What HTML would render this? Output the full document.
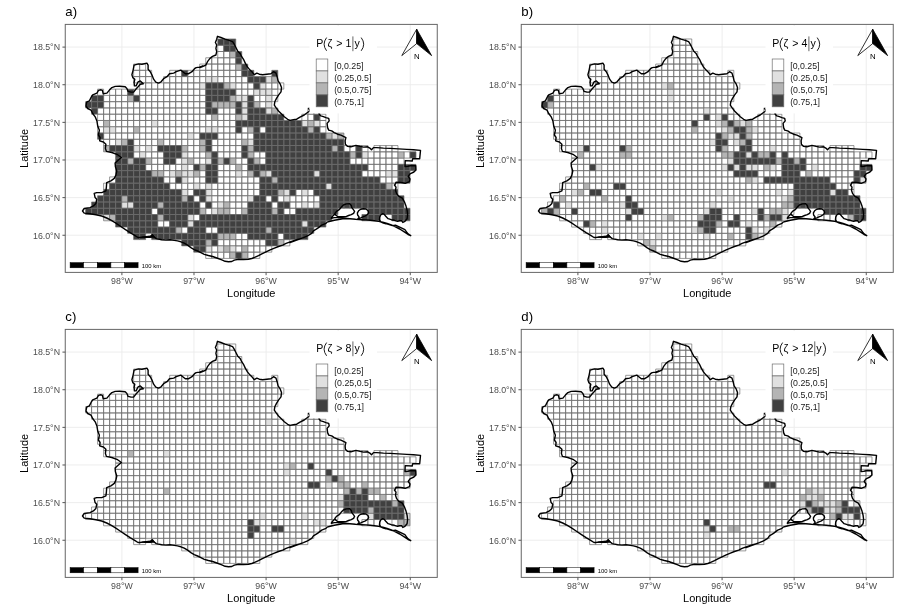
<!DOCTYPE html><html><head><meta charset="utf-8"><title>fig</title>
<style>html,body{margin:0;padding:0;background:#fff}svg{display:block;filter:grayscale(1)}text{font-family:"Liberation Sans",sans-serif}</style></head><body>
<svg width="912" height="611" viewBox="0 0 912 611">
<rect width="912" height="611" fill="#fff"/>
<g transform="translate(0,0)">
<text x="65.3" y="15.6" font-size="13.2">a)</text>
<path d="M121.90 24.4V272.4M193.99 24.4V272.4M266.08 24.4V272.4M338.17 24.4V272.4M410.26 24.4V272.4M65.25 235.25H437.25M65.25 197.62H437.25M65.25 159.99H437.25M65.25 122.36H437.25M65.25 84.73H437.25M65.25 47.10H437.25" stroke="#ebebeb" stroke-width="0.9" fill="none"/>
<path d="M97.59 89.13h6.0075v6.27h-6.0075zM97.59 107.94h6.0075v6.27h-6.0075zM97.59 114.21h6.0075v6.27h-6.0075zM97.59 120.48h6.0075v6.27h-6.0075zM97.59 126.75h6.0075v6.27h-6.0075zM103.60 95.40h6.0075v6.27h-6.0075zM103.60 101.67h6.0075v6.27h-6.0075zM103.60 107.94h6.0075v6.27h-6.0075zM103.60 114.21h6.0075v6.27h-6.0075zM103.60 133.02h6.0075v6.27h-6.0075zM103.60 139.29h6.0075v6.27h-6.0075zM103.60 183.18h6.0075v6.27h-6.0075zM109.61 89.13h6.0075v6.27h-6.0075zM109.61 95.40h6.0075v6.27h-6.0075zM109.61 101.67h6.0075v6.27h-6.0075zM109.61 107.94h6.0075v6.27h-6.0075zM109.61 114.21h6.0075v6.27h-6.0075zM109.61 120.48h6.0075v6.27h-6.0075zM109.61 133.02h6.0075v6.27h-6.0075zM109.61 139.29h6.0075v6.27h-6.0075zM109.61 176.91h6.0075v6.27h-6.0075zM115.61 89.13h6.0075v6.27h-6.0075zM115.61 95.40h6.0075v6.27h-6.0075zM115.61 101.67h6.0075v6.27h-6.0075zM115.61 107.94h6.0075v6.27h-6.0075zM115.61 114.21h6.0075v6.27h-6.0075zM115.61 120.48h6.0075v6.27h-6.0075zM115.61 126.75h6.0075v6.27h-6.0075zM115.61 133.02h6.0075v6.27h-6.0075zM121.62 89.13h6.0075v6.27h-6.0075zM121.62 95.40h6.0075v6.27h-6.0075zM121.62 101.67h6.0075v6.27h-6.0075zM121.62 107.94h6.0075v6.27h-6.0075zM121.62 114.21h6.0075v6.27h-6.0075zM121.62 120.48h6.0075v6.27h-6.0075zM121.62 126.75h6.0075v6.27h-6.0075zM121.62 133.02h6.0075v6.27h-6.0075zM127.63 101.67h6.0075v6.27h-6.0075zM127.63 107.94h6.0075v6.27h-6.0075zM127.63 114.21h6.0075v6.27h-6.0075zM127.63 120.48h6.0075v6.27h-6.0075zM127.63 126.75h6.0075v6.27h-6.0075zM127.63 133.02h6.0075v6.27h-6.0075zM133.64 64.05h6.0075v6.27h-6.0075zM133.64 70.32h6.0075v6.27h-6.0075zM133.64 76.59h6.0075v6.27h-6.0075zM133.64 89.13h6.0075v6.27h-6.0075zM133.64 101.67h6.0075v6.27h-6.0075zM133.64 107.94h6.0075v6.27h-6.0075zM133.64 114.21h6.0075v6.27h-6.0075zM133.64 120.48h6.0075v6.27h-6.0075zM133.64 133.02h6.0075v6.27h-6.0075zM133.64 139.29h6.0075v6.27h-6.0075zM133.64 151.83h6.0075v6.27h-6.0075zM139.64 64.05h6.0075v6.27h-6.0075zM139.64 70.32h6.0075v6.27h-6.0075zM139.64 76.59h6.0075v6.27h-6.0075zM139.64 82.86h6.0075v6.27h-6.0075zM139.64 89.13h6.0075v6.27h-6.0075zM139.64 95.40h6.0075v6.27h-6.0075zM139.64 101.67h6.0075v6.27h-6.0075zM139.64 107.94h6.0075v6.27h-6.0075zM139.64 114.21h6.0075v6.27h-6.0075zM139.64 120.48h6.0075v6.27h-6.0075zM139.64 126.75h6.0075v6.27h-6.0075zM139.64 133.02h6.0075v6.27h-6.0075zM139.64 139.29h6.0075v6.27h-6.0075zM139.64 145.56h6.0075v6.27h-6.0075zM145.65 70.32h6.0075v6.27h-6.0075zM145.65 76.59h6.0075v6.27h-6.0075zM145.65 82.86h6.0075v6.27h-6.0075zM145.65 89.13h6.0075v6.27h-6.0075zM145.65 95.40h6.0075v6.27h-6.0075zM145.65 101.67h6.0075v6.27h-6.0075zM145.65 107.94h6.0075v6.27h-6.0075zM145.65 114.21h6.0075v6.27h-6.0075zM145.65 120.48h6.0075v6.27h-6.0075zM145.65 126.75h6.0075v6.27h-6.0075zM145.65 133.02h6.0075v6.27h-6.0075zM145.65 139.29h6.0075v6.27h-6.0075zM145.65 151.83h6.0075v6.27h-6.0075zM145.65 164.37h6.0075v6.27h-6.0075zM151.66 82.86h6.0075v6.27h-6.0075zM151.66 89.13h6.0075v6.27h-6.0075zM151.66 95.40h6.0075v6.27h-6.0075zM151.66 101.67h6.0075v6.27h-6.0075zM151.66 107.94h6.0075v6.27h-6.0075zM151.66 114.21h6.0075v6.27h-6.0075zM151.66 126.75h6.0075v6.27h-6.0075zM151.66 133.02h6.0075v6.27h-6.0075zM151.66 139.29h6.0075v6.27h-6.0075zM151.66 145.56h6.0075v6.27h-6.0075zM151.66 151.83h6.0075v6.27h-6.0075zM151.66 158.10h6.0075v6.27h-6.0075zM151.66 164.37h6.0075v6.27h-6.0075zM151.66 208.26h6.0075v6.27h-6.0075zM157.67 82.86h6.0075v6.27h-6.0075zM157.67 89.13h6.0075v6.27h-6.0075zM157.67 95.40h6.0075v6.27h-6.0075zM157.67 101.67h6.0075v6.27h-6.0075zM157.67 107.94h6.0075v6.27h-6.0075zM157.67 114.21h6.0075v6.27h-6.0075zM157.67 120.48h6.0075v6.27h-6.0075zM157.67 126.75h6.0075v6.27h-6.0075zM157.67 133.02h6.0075v6.27h-6.0075zM157.67 151.83h6.0075v6.27h-6.0075zM157.67 158.10h6.0075v6.27h-6.0075zM157.67 164.37h6.0075v6.27h-6.0075zM157.67 220.80h6.0075v6.27h-6.0075zM163.68 76.59h6.0075v6.27h-6.0075zM163.68 82.86h6.0075v6.27h-6.0075zM163.68 89.13h6.0075v6.27h-6.0075zM163.68 95.40h6.0075v6.27h-6.0075zM163.68 101.67h6.0075v6.27h-6.0075zM163.68 107.94h6.0075v6.27h-6.0075zM163.68 114.21h6.0075v6.27h-6.0075zM163.68 120.48h6.0075v6.27h-6.0075zM163.68 126.75h6.0075v6.27h-6.0075zM163.68 133.02h6.0075v6.27h-6.0075zM163.68 139.29h6.0075v6.27h-6.0075zM163.68 164.37h6.0075v6.27h-6.0075zM163.68 170.64h6.0075v6.27h-6.0075zM163.68 176.91h6.0075v6.27h-6.0075zM163.68 220.80h6.0075v6.27h-6.0075zM169.68 70.32h6.0075v6.27h-6.0075zM169.68 76.59h6.0075v6.27h-6.0075zM169.68 82.86h6.0075v6.27h-6.0075zM169.68 89.13h6.0075v6.27h-6.0075zM169.68 95.40h6.0075v6.27h-6.0075zM169.68 101.67h6.0075v6.27h-6.0075zM169.68 107.94h6.0075v6.27h-6.0075zM169.68 114.21h6.0075v6.27h-6.0075zM169.68 120.48h6.0075v6.27h-6.0075zM169.68 126.75h6.0075v6.27h-6.0075zM169.68 133.02h6.0075v6.27h-6.0075zM169.68 139.29h6.0075v6.27h-6.0075zM169.68 164.37h6.0075v6.27h-6.0075zM169.68 176.91h6.0075v6.27h-6.0075zM169.68 183.18h6.0075v6.27h-6.0075zM175.69 70.32h6.0075v6.27h-6.0075zM175.69 76.59h6.0075v6.27h-6.0075zM175.69 82.86h6.0075v6.27h-6.0075zM175.69 89.13h6.0075v6.27h-6.0075zM175.69 95.40h6.0075v6.27h-6.0075zM175.69 101.67h6.0075v6.27h-6.0075zM175.69 107.94h6.0075v6.27h-6.0075zM175.69 114.21h6.0075v6.27h-6.0075zM175.69 120.48h6.0075v6.27h-6.0075zM175.69 126.75h6.0075v6.27h-6.0075zM175.69 133.02h6.0075v6.27h-6.0075zM175.69 139.29h6.0075v6.27h-6.0075zM175.69 158.10h6.0075v6.27h-6.0075zM175.69 164.37h6.0075v6.27h-6.0075zM175.69 183.18h6.0075v6.27h-6.0075zM181.70 76.59h6.0075v6.27h-6.0075zM181.70 82.86h6.0075v6.27h-6.0075zM181.70 89.13h6.0075v6.27h-6.0075zM181.70 95.40h6.0075v6.27h-6.0075zM181.70 101.67h6.0075v6.27h-6.0075zM181.70 107.94h6.0075v6.27h-6.0075zM181.70 114.21h6.0075v6.27h-6.0075zM181.70 120.48h6.0075v6.27h-6.0075zM181.70 126.75h6.0075v6.27h-6.0075zM181.70 133.02h6.0075v6.27h-6.0075zM181.70 139.29h6.0075v6.27h-6.0075zM181.70 183.18h6.0075v6.27h-6.0075zM181.70 227.07h6.0075v6.27h-6.0075zM187.70 70.32h6.0075v6.27h-6.0075zM187.70 76.59h6.0075v6.27h-6.0075zM187.70 82.86h6.0075v6.27h-6.0075zM187.70 89.13h6.0075v6.27h-6.0075zM187.70 95.40h6.0075v6.27h-6.0075zM187.70 101.67h6.0075v6.27h-6.0075zM187.70 107.94h6.0075v6.27h-6.0075zM187.70 114.21h6.0075v6.27h-6.0075zM187.70 120.48h6.0075v6.27h-6.0075zM187.70 126.75h6.0075v6.27h-6.0075zM187.70 139.29h6.0075v6.27h-6.0075zM187.70 145.56h6.0075v6.27h-6.0075zM187.70 151.83h6.0075v6.27h-6.0075zM187.70 164.37h6.0075v6.27h-6.0075zM187.70 176.91h6.0075v6.27h-6.0075zM187.70 183.18h6.0075v6.27h-6.0075zM187.70 189.45h6.0075v6.27h-6.0075zM193.71 70.32h6.0075v6.27h-6.0075zM193.71 76.59h6.0075v6.27h-6.0075zM193.71 82.86h6.0075v6.27h-6.0075zM193.71 89.13h6.0075v6.27h-6.0075zM193.71 95.40h6.0075v6.27h-6.0075zM193.71 101.67h6.0075v6.27h-6.0075zM193.71 107.94h6.0075v6.27h-6.0075zM193.71 114.21h6.0075v6.27h-6.0075zM193.71 120.48h6.0075v6.27h-6.0075zM193.71 126.75h6.0075v6.27h-6.0075zM193.71 133.02h6.0075v6.27h-6.0075zM193.71 139.29h6.0075v6.27h-6.0075zM193.71 145.56h6.0075v6.27h-6.0075zM193.71 151.83h6.0075v6.27h-6.0075zM193.71 158.10h6.0075v6.27h-6.0075zM193.71 176.91h6.0075v6.27h-6.0075zM193.71 195.72h6.0075v6.27h-6.0075zM193.71 214.53h6.0075v6.27h-6.0075zM199.72 64.05h6.0075v6.27h-6.0075zM199.72 70.32h6.0075v6.27h-6.0075zM199.72 76.59h6.0075v6.27h-6.0075zM199.72 89.13h6.0075v6.27h-6.0075zM199.72 95.40h6.0075v6.27h-6.0075zM199.72 101.67h6.0075v6.27h-6.0075zM199.72 107.94h6.0075v6.27h-6.0075zM199.72 114.21h6.0075v6.27h-6.0075zM199.72 120.48h6.0075v6.27h-6.0075zM199.72 126.75h6.0075v6.27h-6.0075zM199.72 151.83h6.0075v6.27h-6.0075zM199.72 158.10h6.0075v6.27h-6.0075zM199.72 170.64h6.0075v6.27h-6.0075zM199.72 176.91h6.0075v6.27h-6.0075zM199.72 183.18h6.0075v6.27h-6.0075zM199.72 201.99h6.0075v6.27h-6.0075zM205.73 57.78h6.0075v6.27h-6.0075zM205.73 64.05h6.0075v6.27h-6.0075zM205.73 70.32h6.0075v6.27h-6.0075zM205.73 114.21h6.0075v6.27h-6.0075zM205.73 120.48h6.0075v6.27h-6.0075zM205.73 208.26h6.0075v6.27h-6.0075zM205.73 227.07h6.0075v6.27h-6.0075zM205.73 252.15h6.0075v6.27h-6.0075zM211.74 57.78h6.0075v6.27h-6.0075zM211.74 64.05h6.0075v6.27h-6.0075zM211.74 70.32h6.0075v6.27h-6.0075zM211.74 120.48h6.0075v6.27h-6.0075zM211.74 139.29h6.0075v6.27h-6.0075zM211.74 145.56h6.0075v6.27h-6.0075zM211.74 183.18h6.0075v6.27h-6.0075zM211.74 189.45h6.0075v6.27h-6.0075zM211.74 195.72h6.0075v6.27h-6.0075zM211.74 201.99h6.0075v6.27h-6.0075zM211.74 227.07h6.0075v6.27h-6.0075zM211.74 245.88h6.0075v6.27h-6.0075zM211.74 252.15h6.0075v6.27h-6.0075zM217.74 45.24h6.0075v6.27h-6.0075zM217.74 51.51h6.0075v6.27h-6.0075zM217.74 57.78h6.0075v6.27h-6.0075zM217.74 64.05h6.0075v6.27h-6.0075zM217.74 70.32h6.0075v6.27h-6.0075zM217.74 76.59h6.0075v6.27h-6.0075zM217.74 107.94h6.0075v6.27h-6.0075zM217.74 114.21h6.0075v6.27h-6.0075zM217.74 120.48h6.0075v6.27h-6.0075zM217.74 126.75h6.0075v6.27h-6.0075zM217.74 133.02h6.0075v6.27h-6.0075zM217.74 139.29h6.0075v6.27h-6.0075zM217.74 145.56h6.0075v6.27h-6.0075zM217.74 151.83h6.0075v6.27h-6.0075zM217.74 164.37h6.0075v6.27h-6.0075zM217.74 170.64h6.0075v6.27h-6.0075zM217.74 176.91h6.0075v6.27h-6.0075zM217.74 183.18h6.0075v6.27h-6.0075zM217.74 189.45h6.0075v6.27h-6.0075zM217.74 195.72h6.0075v6.27h-6.0075zM217.74 239.61h6.0075v6.27h-6.0075zM217.74 252.15h6.0075v6.27h-6.0075zM223.75 51.51h6.0075v6.27h-6.0075zM223.75 57.78h6.0075v6.27h-6.0075zM223.75 64.05h6.0075v6.27h-6.0075zM223.75 70.32h6.0075v6.27h-6.0075zM223.75 76.59h6.0075v6.27h-6.0075zM223.75 107.94h6.0075v6.27h-6.0075zM223.75 114.21h6.0075v6.27h-6.0075zM223.75 120.48h6.0075v6.27h-6.0075zM223.75 126.75h6.0075v6.27h-6.0075zM223.75 133.02h6.0075v6.27h-6.0075zM223.75 139.29h6.0075v6.27h-6.0075zM223.75 145.56h6.0075v6.27h-6.0075zM223.75 151.83h6.0075v6.27h-6.0075zM223.75 164.37h6.0075v6.27h-6.0075zM223.75 170.64h6.0075v6.27h-6.0075zM223.75 176.91h6.0075v6.27h-6.0075zM223.75 183.18h6.0075v6.27h-6.0075zM223.75 189.45h6.0075v6.27h-6.0075zM223.75 195.72h6.0075v6.27h-6.0075zM223.75 239.61h6.0075v6.27h-6.0075zM223.75 252.15h6.0075v6.27h-6.0075zM229.76 57.78h6.0075v6.27h-6.0075zM229.76 64.05h6.0075v6.27h-6.0075zM229.76 70.32h6.0075v6.27h-6.0075zM229.76 76.59h6.0075v6.27h-6.0075zM229.76 107.94h6.0075v6.27h-6.0075zM229.76 114.21h6.0075v6.27h-6.0075zM229.76 120.48h6.0075v6.27h-6.0075zM229.76 126.75h6.0075v6.27h-6.0075zM229.76 133.02h6.0075v6.27h-6.0075zM229.76 139.29h6.0075v6.27h-6.0075zM229.76 145.56h6.0075v6.27h-6.0075zM229.76 151.83h6.0075v6.27h-6.0075zM229.76 164.37h6.0075v6.27h-6.0075zM229.76 170.64h6.0075v6.27h-6.0075zM229.76 176.91h6.0075v6.27h-6.0075zM229.76 183.18h6.0075v6.27h-6.0075zM229.76 189.45h6.0075v6.27h-6.0075zM229.76 195.72h6.0075v6.27h-6.0075zM229.76 201.99h6.0075v6.27h-6.0075zM229.76 208.26h6.0075v6.27h-6.0075zM229.76 239.61h6.0075v6.27h-6.0075zM235.76 70.32h6.0075v6.27h-6.0075zM235.76 76.59h6.0075v6.27h-6.0075zM235.76 82.86h6.0075v6.27h-6.0075zM235.76 89.13h6.0075v6.27h-6.0075zM235.76 133.02h6.0075v6.27h-6.0075zM235.76 139.29h6.0075v6.27h-6.0075zM235.76 145.56h6.0075v6.27h-6.0075zM235.76 151.83h6.0075v6.27h-6.0075zM235.76 158.10h6.0075v6.27h-6.0075zM235.76 176.91h6.0075v6.27h-6.0075zM235.76 183.18h6.0075v6.27h-6.0075zM235.76 189.45h6.0075v6.27h-6.0075zM235.76 195.72h6.0075v6.27h-6.0075zM235.76 201.99h6.0075v6.27h-6.0075zM235.76 208.26h6.0075v6.27h-6.0075zM235.76 233.34h6.0075v6.27h-6.0075zM235.76 239.61h6.0075v6.27h-6.0075zM235.76 245.88h6.0075v6.27h-6.0075zM241.77 76.59h6.0075v6.27h-6.0075zM241.77 82.86h6.0075v6.27h-6.0075zM241.77 89.13h6.0075v6.27h-6.0075zM241.77 126.75h6.0075v6.27h-6.0075zM241.77 133.02h6.0075v6.27h-6.0075zM241.77 158.10h6.0075v6.27h-6.0075zM241.77 164.37h6.0075v6.27h-6.0075zM241.77 170.64h6.0075v6.27h-6.0075zM241.77 176.91h6.0075v6.27h-6.0075zM241.77 183.18h6.0075v6.27h-6.0075zM241.77 189.45h6.0075v6.27h-6.0075zM241.77 195.72h6.0075v6.27h-6.0075zM241.77 201.99h6.0075v6.27h-6.0075zM241.77 233.34h6.0075v6.27h-6.0075zM241.77 239.61h6.0075v6.27h-6.0075zM247.78 82.86h6.0075v6.27h-6.0075zM247.78 89.13h6.0075v6.27h-6.0075zM247.78 133.02h6.0075v6.27h-6.0075zM247.78 176.91h6.0075v6.27h-6.0075zM247.78 183.18h6.0075v6.27h-6.0075zM247.78 189.45h6.0075v6.27h-6.0075zM247.78 239.61h6.0075v6.27h-6.0075zM247.78 245.88h6.0075v6.27h-6.0075zM247.78 252.15h6.0075v6.27h-6.0075zM253.79 95.40h6.0075v6.27h-6.0075zM253.79 151.83h6.0075v6.27h-6.0075zM253.79 176.91h6.0075v6.27h-6.0075zM253.79 183.18h6.0075v6.27h-6.0075zM253.79 189.45h6.0075v6.27h-6.0075zM253.79 239.61h6.0075v6.27h-6.0075zM253.79 245.88h6.0075v6.27h-6.0075zM253.79 252.15h6.0075v6.27h-6.0075zM259.80 95.40h6.0075v6.27h-6.0075zM259.80 101.67h6.0075v6.27h-6.0075zM259.80 126.75h6.0075v6.27h-6.0075zM259.80 151.83h6.0075v6.27h-6.0075zM259.80 158.10h6.0075v6.27h-6.0075zM259.80 239.61h6.0075v6.27h-6.0075zM259.80 245.88h6.0075v6.27h-6.0075zM265.80 82.86h6.0075v6.27h-6.0075zM265.80 195.72h6.0075v6.27h-6.0075zM265.80 245.88h6.0075v6.27h-6.0075zM271.81 82.86h6.0075v6.27h-6.0075zM271.81 89.13h6.0075v6.27h-6.0075zM271.81 95.40h6.0075v6.27h-6.0075zM271.81 201.99h6.0075v6.27h-6.0075zM277.82 82.86h6.0075v6.27h-6.0075zM277.82 195.72h6.0075v6.27h-6.0075zM277.82 233.34h6.0075v6.27h-6.0075zM283.82 208.26h6.0075v6.27h-6.0075zM283.82 239.61h6.0075v6.27h-6.0075zM289.83 195.72h6.0075v6.27h-6.0075zM289.83 201.99h6.0075v6.27h-6.0075zM289.83 208.26h6.0075v6.27h-6.0075zM295.84 189.45h6.0075v6.27h-6.0075zM295.84 195.72h6.0075v6.27h-6.0075zM295.84 201.99h6.0075v6.27h-6.0075zM301.85 114.21h6.0075v6.27h-6.0075zM301.85 195.72h6.0075v6.27h-6.0075zM307.86 107.94h6.0075v6.27h-6.0075zM307.86 114.21h6.0075v6.27h-6.0075zM307.86 189.45h6.0075v6.27h-6.0075zM307.86 195.72h6.0075v6.27h-6.0075zM307.86 201.99h6.0075v6.27h-6.0075zM313.86 107.94h6.0075v6.27h-6.0075zM313.86 195.72h6.0075v6.27h-6.0075zM319.87 114.21h6.0075v6.27h-6.0075zM319.87 120.48h6.0075v6.27h-6.0075zM319.87 126.75h6.0075v6.27h-6.0075zM343.90 145.56h6.0075v6.27h-6.0075zM349.91 145.56h6.0075v6.27h-6.0075zM349.91 158.10h6.0075v6.27h-6.0075zM355.92 158.10h6.0075v6.27h-6.0075zM361.92 145.56h6.0075v6.27h-6.0075zM361.92 158.10h6.0075v6.27h-6.0075zM361.92 170.64h6.0075v6.27h-6.0075zM367.93 151.83h6.0075v6.27h-6.0075zM367.93 158.10h6.0075v6.27h-6.0075zM367.93 164.37h6.0075v6.27h-6.0075zM367.93 170.64h6.0075v6.27h-6.0075zM373.94 145.56h6.0075v6.27h-6.0075zM373.94 151.83h6.0075v6.27h-6.0075zM373.94 158.10h6.0075v6.27h-6.0075zM373.94 164.37h6.0075v6.27h-6.0075zM373.94 170.64h6.0075v6.27h-6.0075zM379.94 145.56h6.0075v6.27h-6.0075zM379.94 151.83h6.0075v6.27h-6.0075zM379.94 158.10h6.0075v6.27h-6.0075zM379.94 164.37h6.0075v6.27h-6.0075zM379.94 170.64h6.0075v6.27h-6.0075zM379.94 176.91h6.0075v6.27h-6.0075zM385.95 145.56h6.0075v6.27h-6.0075zM385.95 151.83h6.0075v6.27h-6.0075zM385.95 158.10h6.0075v6.27h-6.0075zM385.95 164.37h6.0075v6.27h-6.0075zM385.95 176.91h6.0075v6.27h-6.0075zM391.96 145.56h6.0075v6.27h-6.0075zM391.96 151.83h6.0075v6.27h-6.0075zM391.96 158.10h6.0075v6.27h-6.0075zM391.96 164.37h6.0075v6.27h-6.0075zM391.96 176.91h6.0075v6.27h-6.0075zM391.96 183.18h6.0075v6.27h-6.0075zM397.97 158.10h6.0075v6.27h-6.0075zM403.98 151.83h6.0075v6.27h-6.0075z" fill="#ffffff" stroke="#6e6e6e" stroke-width="0.7"/>
<path d="M103.60 126.75h6.0075v6.27h-6.0075zM103.60 214.53h6.0075v6.27h-6.0075zM109.61 126.75h6.0075v6.27h-6.0075zM115.61 139.29h6.0075v6.27h-6.0075zM121.62 201.99h6.0075v6.27h-6.0075zM127.63 201.99h6.0075v6.27h-6.0075zM133.64 145.56h6.0075v6.27h-6.0075zM139.64 151.83h6.0075v6.27h-6.0075zM145.65 145.56h6.0075v6.27h-6.0075zM151.66 120.48h6.0075v6.27h-6.0075zM169.68 170.64h6.0075v6.27h-6.0075zM181.70 151.83h6.0075v6.27h-6.0075zM181.70 158.10h6.0075v6.27h-6.0075zM181.70 164.37h6.0075v6.27h-6.0075zM181.70 170.64h6.0075v6.27h-6.0075zM181.70 176.91h6.0075v6.27h-6.0075zM181.70 189.45h6.0075v6.27h-6.0075zM187.70 133.02h6.0075v6.27h-6.0075zM187.70 170.64h6.0075v6.27h-6.0075zM187.70 214.53h6.0075v6.27h-6.0075zM187.70 220.80h6.0075v6.27h-6.0075zM193.71 183.18h6.0075v6.27h-6.0075zM199.72 82.86h6.0075v6.27h-6.0075zM205.73 76.59h6.0075v6.27h-6.0075zM205.73 126.75h6.0075v6.27h-6.0075zM205.73 158.10h6.0075v6.27h-6.0075zM205.73 183.18h6.0075v6.27h-6.0075zM205.73 189.45h6.0075v6.27h-6.0075zM205.73 195.72h6.0075v6.27h-6.0075zM205.73 245.88h6.0075v6.27h-6.0075zM211.74 76.59h6.0075v6.27h-6.0075zM211.74 126.75h6.0075v6.27h-6.0075zM211.74 208.26h6.0075v6.27h-6.0075zM217.74 201.99h6.0075v6.27h-6.0075zM217.74 245.88h6.0075v6.27h-6.0075zM229.76 82.86h6.0075v6.27h-6.0075zM229.76 245.88h6.0075v6.27h-6.0075zM235.76 95.40h6.0075v6.27h-6.0075zM235.76 170.64h6.0075v6.27h-6.0075zM241.77 95.40h6.0075v6.27h-6.0075zM241.77 101.67h6.0075v6.27h-6.0075zM241.77 107.94h6.0075v6.27h-6.0075zM241.77 114.21h6.0075v6.27h-6.0075zM247.78 139.29h6.0075v6.27h-6.0075zM247.78 195.72h6.0075v6.27h-6.0075zM253.79 89.13h6.0075v6.27h-6.0075zM259.80 82.86h6.0075v6.27h-6.0075zM259.80 89.13h6.0075v6.27h-6.0075zM265.80 76.59h6.0075v6.27h-6.0075zM265.80 89.13h6.0075v6.27h-6.0075zM265.80 95.40h6.0075v6.27h-6.0075zM265.80 101.67h6.0075v6.27h-6.0075zM265.80 107.94h6.0075v6.27h-6.0075zM265.80 170.64h6.0075v6.27h-6.0075zM283.82 189.45h6.0075v6.27h-6.0075zM283.82 195.72h6.0075v6.27h-6.0075zM301.85 120.48h6.0075v6.27h-6.0075zM301.85 189.45h6.0075v6.27h-6.0075zM301.85 201.99h6.0075v6.27h-6.0075zM301.85 220.80h6.0075v6.27h-6.0075zM313.86 120.48h6.0075v6.27h-6.0075zM313.86 170.64h6.0075v6.27h-6.0075zM313.86 201.99h6.0075v6.27h-6.0075zM325.88 183.18h6.0075v6.27h-6.0075zM331.88 133.02h6.0075v6.27h-6.0075zM361.92 151.83h6.0075v6.27h-6.0075zM385.95 170.64h6.0075v6.27h-6.0075zM391.96 170.64h6.0075v6.27h-6.0075z" fill="#e0e0e0" stroke="#6e6e6e" stroke-width="0.7"/>
<path d="M103.60 120.48h6.0075v6.27h-6.0075zM103.60 145.56h6.0075v6.27h-6.0075zM109.61 214.53h6.0075v6.27h-6.0075zM121.62 139.29h6.0075v6.27h-6.0075zM121.62 195.72h6.0075v6.27h-6.0075zM127.63 95.40h6.0075v6.27h-6.0075zM127.63 158.10h6.0075v6.27h-6.0075zM133.64 126.75h6.0075v6.27h-6.0075zM145.65 158.10h6.0075v6.27h-6.0075zM151.66 170.64h6.0075v6.27h-6.0075zM157.67 139.29h6.0075v6.27h-6.0075zM157.67 170.64h6.0075v6.27h-6.0075zM157.67 201.99h6.0075v6.27h-6.0075zM157.67 214.53h6.0075v6.27h-6.0075zM175.69 170.64h6.0075v6.27h-6.0075zM175.69 227.07h6.0075v6.27h-6.0075zM181.70 145.56h6.0075v6.27h-6.0075zM181.70 195.72h6.0075v6.27h-6.0075zM187.70 158.10h6.0075v6.27h-6.0075zM193.71 170.64h6.0075v6.27h-6.0075zM199.72 139.29h6.0075v6.27h-6.0075zM199.72 145.56h6.0075v6.27h-6.0075zM199.72 164.37h6.0075v6.27h-6.0075zM199.72 208.26h6.0075v6.27h-6.0075zM205.73 151.83h6.0075v6.27h-6.0075zM205.73 239.61h6.0075v6.27h-6.0075zM211.74 101.67h6.0075v6.27h-6.0075zM211.74 114.21h6.0075v6.27h-6.0075zM217.74 101.67h6.0075v6.27h-6.0075zM217.74 158.10h6.0075v6.27h-6.0075zM217.74 208.26h6.0075v6.27h-6.0075zM217.74 233.34h6.0075v6.27h-6.0075zM223.75 82.86h6.0075v6.27h-6.0075zM223.75 101.67h6.0075v6.27h-6.0075zM223.75 201.99h6.0075v6.27h-6.0075zM223.75 208.26h6.0075v6.27h-6.0075zM223.75 233.34h6.0075v6.27h-6.0075zM223.75 245.88h6.0075v6.27h-6.0075zM229.76 51.51h6.0075v6.27h-6.0075zM229.76 95.40h6.0075v6.27h-6.0075zM229.76 101.67h6.0075v6.27h-6.0075zM229.76 158.10h6.0075v6.27h-6.0075zM229.76 233.34h6.0075v6.27h-6.0075zM229.76 252.15h6.0075v6.27h-6.0075zM235.76 64.05h6.0075v6.27h-6.0075zM235.76 114.21h6.0075v6.27h-6.0075zM235.76 164.37h6.0075v6.27h-6.0075zM241.77 139.29h6.0075v6.27h-6.0075zM241.77 208.26h6.0075v6.27h-6.0075zM241.77 245.88h6.0075v6.27h-6.0075zM241.77 252.15h6.0075v6.27h-6.0075zM247.78 126.75h6.0075v6.27h-6.0075zM247.78 145.56h6.0075v6.27h-6.0075zM247.78 151.83h6.0075v6.27h-6.0075zM247.78 170.64h6.0075v6.27h-6.0075zM253.79 101.67h6.0075v6.27h-6.0075zM253.79 158.10h6.0075v6.27h-6.0075zM259.80 170.64h6.0075v6.27h-6.0075zM265.80 227.07h6.0075v6.27h-6.0075zM271.81 76.59h6.0075v6.27h-6.0075zM271.81 107.94h6.0075v6.27h-6.0075zM271.81 176.91h6.0075v6.27h-6.0075zM271.81 208.26h6.0075v6.27h-6.0075zM277.82 189.45h6.0075v6.27h-6.0075zM277.82 239.61h6.0075v6.27h-6.0075zM307.86 120.48h6.0075v6.27h-6.0075zM307.86 126.75h6.0075v6.27h-6.0075zM325.88 133.02h6.0075v6.27h-6.0075zM331.88 145.56h6.0075v6.27h-6.0075zM337.89 133.02h6.0075v6.27h-6.0075zM349.91 151.83h6.0075v6.27h-6.0075zM385.95 183.18h6.0075v6.27h-6.0075zM397.97 151.83h6.0075v6.27h-6.0075z" fill="#b4b4b4" stroke="#6e6e6e" stroke-width="0.7"/>
<path d="M85.58 101.67h6.0075v6.27h-6.0075zM85.58 208.26h6.0075v6.27h-6.0075zM91.58 95.40h6.0075v6.27h-6.0075zM91.58 101.67h6.0075v6.27h-6.0075zM91.58 107.94h6.0075v6.27h-6.0075zM91.58 201.99h6.0075v6.27h-6.0075zM91.58 208.26h6.0075v6.27h-6.0075zM97.59 95.40h6.0075v6.27h-6.0075zM97.59 101.67h6.0075v6.27h-6.0075zM97.59 133.02h6.0075v6.27h-6.0075zM97.59 195.72h6.0075v6.27h-6.0075zM97.59 201.99h6.0075v6.27h-6.0075zM97.59 208.26h6.0075v6.27h-6.0075zM103.60 189.45h6.0075v6.27h-6.0075zM103.60 195.72h6.0075v6.27h-6.0075zM103.60 201.99h6.0075v6.27h-6.0075zM103.60 208.26h6.0075v6.27h-6.0075zM109.61 145.56h6.0075v6.27h-6.0075zM109.61 183.18h6.0075v6.27h-6.0075zM109.61 189.45h6.0075v6.27h-6.0075zM109.61 195.72h6.0075v6.27h-6.0075zM109.61 201.99h6.0075v6.27h-6.0075zM109.61 208.26h6.0075v6.27h-6.0075zM115.61 145.56h6.0075v6.27h-6.0075zM115.61 151.83h6.0075v6.27h-6.0075zM115.61 158.10h6.0075v6.27h-6.0075zM115.61 164.37h6.0075v6.27h-6.0075zM115.61 170.64h6.0075v6.27h-6.0075zM115.61 176.91h6.0075v6.27h-6.0075zM115.61 183.18h6.0075v6.27h-6.0075zM115.61 189.45h6.0075v6.27h-6.0075zM115.61 195.72h6.0075v6.27h-6.0075zM115.61 201.99h6.0075v6.27h-6.0075zM115.61 208.26h6.0075v6.27h-6.0075zM115.61 214.53h6.0075v6.27h-6.0075zM115.61 220.80h6.0075v6.27h-6.0075zM121.62 145.56h6.0075v6.27h-6.0075zM121.62 151.83h6.0075v6.27h-6.0075zM121.62 158.10h6.0075v6.27h-6.0075zM121.62 164.37h6.0075v6.27h-6.0075zM121.62 170.64h6.0075v6.27h-6.0075zM121.62 176.91h6.0075v6.27h-6.0075zM121.62 183.18h6.0075v6.27h-6.0075zM121.62 189.45h6.0075v6.27h-6.0075zM121.62 208.26h6.0075v6.27h-6.0075zM121.62 214.53h6.0075v6.27h-6.0075zM121.62 220.80h6.0075v6.27h-6.0075zM127.63 89.13h6.0075v6.27h-6.0075zM127.63 139.29h6.0075v6.27h-6.0075zM127.63 145.56h6.0075v6.27h-6.0075zM127.63 151.83h6.0075v6.27h-6.0075zM127.63 164.37h6.0075v6.27h-6.0075zM127.63 170.64h6.0075v6.27h-6.0075zM127.63 176.91h6.0075v6.27h-6.0075zM127.63 183.18h6.0075v6.27h-6.0075zM127.63 189.45h6.0075v6.27h-6.0075zM127.63 195.72h6.0075v6.27h-6.0075zM127.63 208.26h6.0075v6.27h-6.0075zM127.63 214.53h6.0075v6.27h-6.0075zM127.63 220.80h6.0075v6.27h-6.0075zM127.63 227.07h6.0075v6.27h-6.0075zM133.64 95.40h6.0075v6.27h-6.0075zM133.64 158.10h6.0075v6.27h-6.0075zM133.64 164.37h6.0075v6.27h-6.0075zM133.64 170.64h6.0075v6.27h-6.0075zM133.64 176.91h6.0075v6.27h-6.0075zM133.64 183.18h6.0075v6.27h-6.0075zM133.64 189.45h6.0075v6.27h-6.0075zM133.64 195.72h6.0075v6.27h-6.0075zM133.64 201.99h6.0075v6.27h-6.0075zM133.64 208.26h6.0075v6.27h-6.0075zM133.64 214.53h6.0075v6.27h-6.0075zM133.64 220.80h6.0075v6.27h-6.0075zM133.64 227.07h6.0075v6.27h-6.0075zM133.64 233.34h6.0075v6.27h-6.0075zM139.64 158.10h6.0075v6.27h-6.0075zM139.64 164.37h6.0075v6.27h-6.0075zM139.64 170.64h6.0075v6.27h-6.0075zM139.64 176.91h6.0075v6.27h-6.0075zM139.64 183.18h6.0075v6.27h-6.0075zM139.64 189.45h6.0075v6.27h-6.0075zM139.64 195.72h6.0075v6.27h-6.0075zM139.64 201.99h6.0075v6.27h-6.0075zM139.64 208.26h6.0075v6.27h-6.0075zM139.64 214.53h6.0075v6.27h-6.0075zM139.64 220.80h6.0075v6.27h-6.0075zM139.64 227.07h6.0075v6.27h-6.0075zM139.64 233.34h6.0075v6.27h-6.0075zM145.65 170.64h6.0075v6.27h-6.0075zM145.65 176.91h6.0075v6.27h-6.0075zM145.65 183.18h6.0075v6.27h-6.0075zM145.65 189.45h6.0075v6.27h-6.0075zM145.65 195.72h6.0075v6.27h-6.0075zM145.65 201.99h6.0075v6.27h-6.0075zM145.65 208.26h6.0075v6.27h-6.0075zM145.65 214.53h6.0075v6.27h-6.0075zM145.65 220.80h6.0075v6.27h-6.0075zM145.65 227.07h6.0075v6.27h-6.0075zM151.66 176.91h6.0075v6.27h-6.0075zM151.66 183.18h6.0075v6.27h-6.0075zM151.66 189.45h6.0075v6.27h-6.0075zM151.66 195.72h6.0075v6.27h-6.0075zM151.66 201.99h6.0075v6.27h-6.0075zM151.66 214.53h6.0075v6.27h-6.0075zM151.66 220.80h6.0075v6.27h-6.0075zM151.66 227.07h6.0075v6.27h-6.0075zM151.66 233.34h6.0075v6.27h-6.0075zM157.67 145.56h6.0075v6.27h-6.0075zM157.67 176.91h6.0075v6.27h-6.0075zM157.67 183.18h6.0075v6.27h-6.0075zM157.67 189.45h6.0075v6.27h-6.0075zM157.67 195.72h6.0075v6.27h-6.0075zM157.67 208.26h6.0075v6.27h-6.0075zM157.67 227.07h6.0075v6.27h-6.0075zM157.67 233.34h6.0075v6.27h-6.0075zM163.68 145.56h6.0075v6.27h-6.0075zM163.68 151.83h6.0075v6.27h-6.0075zM163.68 158.10h6.0075v6.27h-6.0075zM163.68 183.18h6.0075v6.27h-6.0075zM163.68 189.45h6.0075v6.27h-6.0075zM163.68 195.72h6.0075v6.27h-6.0075zM163.68 201.99h6.0075v6.27h-6.0075zM163.68 208.26h6.0075v6.27h-6.0075zM163.68 214.53h6.0075v6.27h-6.0075zM163.68 227.07h6.0075v6.27h-6.0075zM163.68 233.34h6.0075v6.27h-6.0075zM169.68 145.56h6.0075v6.27h-6.0075zM169.68 151.83h6.0075v6.27h-6.0075zM169.68 158.10h6.0075v6.27h-6.0075zM169.68 189.45h6.0075v6.27h-6.0075zM169.68 195.72h6.0075v6.27h-6.0075zM169.68 201.99h6.0075v6.27h-6.0075zM169.68 208.26h6.0075v6.27h-6.0075zM169.68 214.53h6.0075v6.27h-6.0075zM169.68 220.80h6.0075v6.27h-6.0075zM169.68 227.07h6.0075v6.27h-6.0075zM169.68 233.34h6.0075v6.27h-6.0075zM175.69 145.56h6.0075v6.27h-6.0075zM175.69 151.83h6.0075v6.27h-6.0075zM175.69 176.91h6.0075v6.27h-6.0075zM175.69 189.45h6.0075v6.27h-6.0075zM175.69 195.72h6.0075v6.27h-6.0075zM175.69 201.99h6.0075v6.27h-6.0075zM175.69 208.26h6.0075v6.27h-6.0075zM175.69 214.53h6.0075v6.27h-6.0075zM175.69 220.80h6.0075v6.27h-6.0075zM175.69 233.34h6.0075v6.27h-6.0075zM181.70 70.32h6.0075v6.27h-6.0075zM181.70 201.99h6.0075v6.27h-6.0075zM181.70 208.26h6.0075v6.27h-6.0075zM181.70 214.53h6.0075v6.27h-6.0075zM181.70 220.80h6.0075v6.27h-6.0075zM181.70 233.34h6.0075v6.27h-6.0075zM181.70 239.61h6.0075v6.27h-6.0075zM187.70 195.72h6.0075v6.27h-6.0075zM187.70 201.99h6.0075v6.27h-6.0075zM187.70 208.26h6.0075v6.27h-6.0075zM187.70 227.07h6.0075v6.27h-6.0075zM187.70 233.34h6.0075v6.27h-6.0075zM187.70 239.61h6.0075v6.27h-6.0075zM193.71 164.37h6.0075v6.27h-6.0075zM193.71 189.45h6.0075v6.27h-6.0075zM193.71 201.99h6.0075v6.27h-6.0075zM193.71 208.26h6.0075v6.27h-6.0075zM193.71 220.80h6.0075v6.27h-6.0075zM193.71 227.07h6.0075v6.27h-6.0075zM193.71 233.34h6.0075v6.27h-6.0075zM193.71 239.61h6.0075v6.27h-6.0075zM193.71 245.88h6.0075v6.27h-6.0075zM199.72 133.02h6.0075v6.27h-6.0075zM199.72 189.45h6.0075v6.27h-6.0075zM199.72 195.72h6.0075v6.27h-6.0075zM199.72 214.53h6.0075v6.27h-6.0075zM199.72 220.80h6.0075v6.27h-6.0075zM199.72 227.07h6.0075v6.27h-6.0075zM199.72 233.34h6.0075v6.27h-6.0075zM199.72 239.61h6.0075v6.27h-6.0075zM199.72 245.88h6.0075v6.27h-6.0075zM205.73 82.86h6.0075v6.27h-6.0075zM205.73 89.13h6.0075v6.27h-6.0075zM205.73 95.40h6.0075v6.27h-6.0075zM205.73 101.67h6.0075v6.27h-6.0075zM205.73 107.94h6.0075v6.27h-6.0075zM205.73 133.02h6.0075v6.27h-6.0075zM205.73 139.29h6.0075v6.27h-6.0075zM205.73 145.56h6.0075v6.27h-6.0075zM205.73 164.37h6.0075v6.27h-6.0075zM205.73 170.64h6.0075v6.27h-6.0075zM205.73 176.91h6.0075v6.27h-6.0075zM205.73 201.99h6.0075v6.27h-6.0075zM205.73 214.53h6.0075v6.27h-6.0075zM205.73 220.80h6.0075v6.27h-6.0075zM205.73 233.34h6.0075v6.27h-6.0075zM211.74 82.86h6.0075v6.27h-6.0075zM211.74 89.13h6.0075v6.27h-6.0075zM211.74 95.40h6.0075v6.27h-6.0075zM211.74 107.94h6.0075v6.27h-6.0075zM211.74 133.02h6.0075v6.27h-6.0075zM211.74 151.83h6.0075v6.27h-6.0075zM211.74 158.10h6.0075v6.27h-6.0075zM211.74 164.37h6.0075v6.27h-6.0075zM211.74 170.64h6.0075v6.27h-6.0075zM211.74 176.91h6.0075v6.27h-6.0075zM211.74 214.53h6.0075v6.27h-6.0075zM211.74 220.80h6.0075v6.27h-6.0075zM211.74 233.34h6.0075v6.27h-6.0075zM211.74 239.61h6.0075v6.27h-6.0075zM217.74 38.97h6.0075v6.27h-6.0075zM217.74 82.86h6.0075v6.27h-6.0075zM217.74 89.13h6.0075v6.27h-6.0075zM217.74 95.40h6.0075v6.27h-6.0075zM217.74 214.53h6.0075v6.27h-6.0075zM217.74 220.80h6.0075v6.27h-6.0075zM217.74 227.07h6.0075v6.27h-6.0075zM223.75 38.97h6.0075v6.27h-6.0075zM223.75 45.24h6.0075v6.27h-6.0075zM223.75 89.13h6.0075v6.27h-6.0075zM223.75 95.40h6.0075v6.27h-6.0075zM223.75 158.10h6.0075v6.27h-6.0075zM223.75 214.53h6.0075v6.27h-6.0075zM223.75 220.80h6.0075v6.27h-6.0075zM223.75 227.07h6.0075v6.27h-6.0075zM229.76 38.97h6.0075v6.27h-6.0075zM229.76 45.24h6.0075v6.27h-6.0075zM229.76 89.13h6.0075v6.27h-6.0075zM229.76 214.53h6.0075v6.27h-6.0075zM229.76 220.80h6.0075v6.27h-6.0075zM229.76 227.07h6.0075v6.27h-6.0075zM235.76 51.51h6.0075v6.27h-6.0075zM235.76 57.78h6.0075v6.27h-6.0075zM235.76 101.67h6.0075v6.27h-6.0075zM235.76 107.94h6.0075v6.27h-6.0075zM235.76 120.48h6.0075v6.27h-6.0075zM235.76 126.75h6.0075v6.27h-6.0075zM235.76 214.53h6.0075v6.27h-6.0075zM235.76 220.80h6.0075v6.27h-6.0075zM235.76 227.07h6.0075v6.27h-6.0075zM235.76 252.15h6.0075v6.27h-6.0075zM241.77 64.05h6.0075v6.27h-6.0075zM241.77 70.32h6.0075v6.27h-6.0075zM241.77 120.48h6.0075v6.27h-6.0075zM241.77 145.56h6.0075v6.27h-6.0075zM241.77 151.83h6.0075v6.27h-6.0075zM241.77 214.53h6.0075v6.27h-6.0075zM241.77 220.80h6.0075v6.27h-6.0075zM241.77 227.07h6.0075v6.27h-6.0075zM247.78 70.32h6.0075v6.27h-6.0075zM247.78 76.59h6.0075v6.27h-6.0075zM247.78 95.40h6.0075v6.27h-6.0075zM247.78 101.67h6.0075v6.27h-6.0075zM247.78 107.94h6.0075v6.27h-6.0075zM247.78 114.21h6.0075v6.27h-6.0075zM247.78 120.48h6.0075v6.27h-6.0075zM247.78 158.10h6.0075v6.27h-6.0075zM247.78 164.37h6.0075v6.27h-6.0075zM247.78 201.99h6.0075v6.27h-6.0075zM247.78 208.26h6.0075v6.27h-6.0075zM247.78 214.53h6.0075v6.27h-6.0075zM247.78 220.80h6.0075v6.27h-6.0075zM247.78 227.07h6.0075v6.27h-6.0075zM247.78 233.34h6.0075v6.27h-6.0075zM253.79 76.59h6.0075v6.27h-6.0075zM253.79 82.86h6.0075v6.27h-6.0075zM253.79 107.94h6.0075v6.27h-6.0075zM253.79 114.21h6.0075v6.27h-6.0075zM253.79 120.48h6.0075v6.27h-6.0075zM253.79 126.75h6.0075v6.27h-6.0075zM253.79 133.02h6.0075v6.27h-6.0075zM253.79 139.29h6.0075v6.27h-6.0075zM253.79 145.56h6.0075v6.27h-6.0075zM253.79 164.37h6.0075v6.27h-6.0075zM253.79 170.64h6.0075v6.27h-6.0075zM253.79 195.72h6.0075v6.27h-6.0075zM253.79 201.99h6.0075v6.27h-6.0075zM253.79 208.26h6.0075v6.27h-6.0075zM253.79 214.53h6.0075v6.27h-6.0075zM253.79 220.80h6.0075v6.27h-6.0075zM253.79 227.07h6.0075v6.27h-6.0075zM253.79 233.34h6.0075v6.27h-6.0075zM259.80 76.59h6.0075v6.27h-6.0075zM259.80 107.94h6.0075v6.27h-6.0075zM259.80 114.21h6.0075v6.27h-6.0075zM259.80 120.48h6.0075v6.27h-6.0075zM259.80 133.02h6.0075v6.27h-6.0075zM259.80 139.29h6.0075v6.27h-6.0075zM259.80 145.56h6.0075v6.27h-6.0075zM259.80 164.37h6.0075v6.27h-6.0075zM259.80 176.91h6.0075v6.27h-6.0075zM259.80 183.18h6.0075v6.27h-6.0075zM259.80 189.45h6.0075v6.27h-6.0075zM259.80 195.72h6.0075v6.27h-6.0075zM259.80 201.99h6.0075v6.27h-6.0075zM259.80 208.26h6.0075v6.27h-6.0075zM259.80 214.53h6.0075v6.27h-6.0075zM259.80 220.80h6.0075v6.27h-6.0075zM259.80 227.07h6.0075v6.27h-6.0075zM259.80 233.34h6.0075v6.27h-6.0075zM265.80 114.21h6.0075v6.27h-6.0075zM265.80 120.48h6.0075v6.27h-6.0075zM265.80 126.75h6.0075v6.27h-6.0075zM265.80 133.02h6.0075v6.27h-6.0075zM265.80 139.29h6.0075v6.27h-6.0075zM265.80 145.56h6.0075v6.27h-6.0075zM265.80 151.83h6.0075v6.27h-6.0075zM265.80 158.10h6.0075v6.27h-6.0075zM265.80 164.37h6.0075v6.27h-6.0075zM265.80 176.91h6.0075v6.27h-6.0075zM265.80 183.18h6.0075v6.27h-6.0075zM265.80 189.45h6.0075v6.27h-6.0075zM265.80 201.99h6.0075v6.27h-6.0075zM265.80 208.26h6.0075v6.27h-6.0075zM265.80 214.53h6.0075v6.27h-6.0075zM265.80 220.80h6.0075v6.27h-6.0075zM265.80 233.34h6.0075v6.27h-6.0075zM265.80 239.61h6.0075v6.27h-6.0075zM271.81 70.32h6.0075v6.27h-6.0075zM271.81 114.21h6.0075v6.27h-6.0075zM271.81 120.48h6.0075v6.27h-6.0075zM271.81 126.75h6.0075v6.27h-6.0075zM271.81 133.02h6.0075v6.27h-6.0075zM271.81 139.29h6.0075v6.27h-6.0075zM271.81 145.56h6.0075v6.27h-6.0075zM271.81 151.83h6.0075v6.27h-6.0075zM271.81 158.10h6.0075v6.27h-6.0075zM271.81 164.37h6.0075v6.27h-6.0075zM271.81 170.64h6.0075v6.27h-6.0075zM271.81 183.18h6.0075v6.27h-6.0075zM271.81 189.45h6.0075v6.27h-6.0075zM271.81 195.72h6.0075v6.27h-6.0075zM271.81 214.53h6.0075v6.27h-6.0075zM271.81 220.80h6.0075v6.27h-6.0075zM271.81 227.07h6.0075v6.27h-6.0075zM271.81 233.34h6.0075v6.27h-6.0075zM271.81 239.61h6.0075v6.27h-6.0075zM277.82 114.21h6.0075v6.27h-6.0075zM277.82 120.48h6.0075v6.27h-6.0075zM277.82 126.75h6.0075v6.27h-6.0075zM277.82 133.02h6.0075v6.27h-6.0075zM277.82 139.29h6.0075v6.27h-6.0075zM277.82 145.56h6.0075v6.27h-6.0075zM277.82 151.83h6.0075v6.27h-6.0075zM277.82 158.10h6.0075v6.27h-6.0075zM277.82 164.37h6.0075v6.27h-6.0075zM277.82 170.64h6.0075v6.27h-6.0075zM277.82 176.91h6.0075v6.27h-6.0075zM277.82 183.18h6.0075v6.27h-6.0075zM277.82 201.99h6.0075v6.27h-6.0075zM277.82 208.26h6.0075v6.27h-6.0075zM277.82 214.53h6.0075v6.27h-6.0075zM277.82 220.80h6.0075v6.27h-6.0075zM277.82 227.07h6.0075v6.27h-6.0075zM283.82 120.48h6.0075v6.27h-6.0075zM283.82 126.75h6.0075v6.27h-6.0075zM283.82 133.02h6.0075v6.27h-6.0075zM283.82 139.29h6.0075v6.27h-6.0075zM283.82 145.56h6.0075v6.27h-6.0075zM283.82 151.83h6.0075v6.27h-6.0075zM283.82 158.10h6.0075v6.27h-6.0075zM283.82 164.37h6.0075v6.27h-6.0075zM283.82 170.64h6.0075v6.27h-6.0075zM283.82 176.91h6.0075v6.27h-6.0075zM283.82 183.18h6.0075v6.27h-6.0075zM283.82 201.99h6.0075v6.27h-6.0075zM283.82 214.53h6.0075v6.27h-6.0075zM283.82 220.80h6.0075v6.27h-6.0075zM283.82 227.07h6.0075v6.27h-6.0075zM283.82 233.34h6.0075v6.27h-6.0075zM289.83 120.48h6.0075v6.27h-6.0075zM289.83 126.75h6.0075v6.27h-6.0075zM289.83 133.02h6.0075v6.27h-6.0075zM289.83 139.29h6.0075v6.27h-6.0075zM289.83 145.56h6.0075v6.27h-6.0075zM289.83 151.83h6.0075v6.27h-6.0075zM289.83 158.10h6.0075v6.27h-6.0075zM289.83 164.37h6.0075v6.27h-6.0075zM289.83 170.64h6.0075v6.27h-6.0075zM289.83 176.91h6.0075v6.27h-6.0075zM289.83 183.18h6.0075v6.27h-6.0075zM289.83 189.45h6.0075v6.27h-6.0075zM289.83 214.53h6.0075v6.27h-6.0075zM289.83 220.80h6.0075v6.27h-6.0075zM289.83 227.07h6.0075v6.27h-6.0075zM289.83 233.34h6.0075v6.27h-6.0075zM295.84 120.48h6.0075v6.27h-6.0075zM295.84 126.75h6.0075v6.27h-6.0075zM295.84 133.02h6.0075v6.27h-6.0075zM295.84 139.29h6.0075v6.27h-6.0075zM295.84 145.56h6.0075v6.27h-6.0075zM295.84 151.83h6.0075v6.27h-6.0075zM295.84 158.10h6.0075v6.27h-6.0075zM295.84 164.37h6.0075v6.27h-6.0075zM295.84 170.64h6.0075v6.27h-6.0075zM295.84 176.91h6.0075v6.27h-6.0075zM295.84 183.18h6.0075v6.27h-6.0075zM295.84 208.26h6.0075v6.27h-6.0075zM295.84 214.53h6.0075v6.27h-6.0075zM295.84 220.80h6.0075v6.27h-6.0075zM295.84 227.07h6.0075v6.27h-6.0075zM295.84 233.34h6.0075v6.27h-6.0075zM301.85 126.75h6.0075v6.27h-6.0075zM301.85 133.02h6.0075v6.27h-6.0075zM301.85 139.29h6.0075v6.27h-6.0075zM301.85 145.56h6.0075v6.27h-6.0075zM301.85 151.83h6.0075v6.27h-6.0075zM301.85 158.10h6.0075v6.27h-6.0075zM301.85 164.37h6.0075v6.27h-6.0075zM301.85 170.64h6.0075v6.27h-6.0075zM301.85 176.91h6.0075v6.27h-6.0075zM301.85 183.18h6.0075v6.27h-6.0075zM301.85 208.26h6.0075v6.27h-6.0075zM301.85 214.53h6.0075v6.27h-6.0075zM301.85 227.07h6.0075v6.27h-6.0075zM301.85 233.34h6.0075v6.27h-6.0075zM307.86 133.02h6.0075v6.27h-6.0075zM307.86 139.29h6.0075v6.27h-6.0075zM307.86 145.56h6.0075v6.27h-6.0075zM307.86 151.83h6.0075v6.27h-6.0075zM307.86 158.10h6.0075v6.27h-6.0075zM307.86 164.37h6.0075v6.27h-6.0075zM307.86 170.64h6.0075v6.27h-6.0075zM307.86 176.91h6.0075v6.27h-6.0075zM307.86 183.18h6.0075v6.27h-6.0075zM307.86 208.26h6.0075v6.27h-6.0075zM307.86 214.53h6.0075v6.27h-6.0075zM307.86 220.80h6.0075v6.27h-6.0075zM307.86 227.07h6.0075v6.27h-6.0075zM313.86 114.21h6.0075v6.27h-6.0075zM313.86 126.75h6.0075v6.27h-6.0075zM313.86 133.02h6.0075v6.27h-6.0075zM313.86 139.29h6.0075v6.27h-6.0075zM313.86 145.56h6.0075v6.27h-6.0075zM313.86 151.83h6.0075v6.27h-6.0075zM313.86 158.10h6.0075v6.27h-6.0075zM313.86 164.37h6.0075v6.27h-6.0075zM313.86 176.91h6.0075v6.27h-6.0075zM313.86 183.18h6.0075v6.27h-6.0075zM313.86 189.45h6.0075v6.27h-6.0075zM313.86 208.26h6.0075v6.27h-6.0075zM313.86 214.53h6.0075v6.27h-6.0075zM313.86 220.80h6.0075v6.27h-6.0075zM319.87 133.02h6.0075v6.27h-6.0075zM319.87 139.29h6.0075v6.27h-6.0075zM319.87 145.56h6.0075v6.27h-6.0075zM319.87 151.83h6.0075v6.27h-6.0075zM319.87 158.10h6.0075v6.27h-6.0075zM319.87 164.37h6.0075v6.27h-6.0075zM319.87 170.64h6.0075v6.27h-6.0075zM319.87 176.91h6.0075v6.27h-6.0075zM319.87 183.18h6.0075v6.27h-6.0075zM319.87 189.45h6.0075v6.27h-6.0075zM319.87 195.72h6.0075v6.27h-6.0075zM319.87 201.99h6.0075v6.27h-6.0075zM319.87 208.26h6.0075v6.27h-6.0075zM319.87 214.53h6.0075v6.27h-6.0075zM319.87 220.80h6.0075v6.27h-6.0075zM325.88 139.29h6.0075v6.27h-6.0075zM325.88 145.56h6.0075v6.27h-6.0075zM325.88 151.83h6.0075v6.27h-6.0075zM325.88 158.10h6.0075v6.27h-6.0075zM325.88 164.37h6.0075v6.27h-6.0075zM325.88 170.64h6.0075v6.27h-6.0075zM325.88 176.91h6.0075v6.27h-6.0075zM325.88 189.45h6.0075v6.27h-6.0075zM325.88 195.72h6.0075v6.27h-6.0075zM325.88 201.99h6.0075v6.27h-6.0075zM325.88 208.26h6.0075v6.27h-6.0075zM325.88 214.53h6.0075v6.27h-6.0075zM331.88 139.29h6.0075v6.27h-6.0075zM331.88 151.83h6.0075v6.27h-6.0075zM331.88 158.10h6.0075v6.27h-6.0075zM331.88 164.37h6.0075v6.27h-6.0075zM331.88 170.64h6.0075v6.27h-6.0075zM331.88 176.91h6.0075v6.27h-6.0075zM331.88 183.18h6.0075v6.27h-6.0075zM331.88 189.45h6.0075v6.27h-6.0075zM331.88 195.72h6.0075v6.27h-6.0075zM331.88 201.99h6.0075v6.27h-6.0075zM331.88 208.26h6.0075v6.27h-6.0075zM337.89 139.29h6.0075v6.27h-6.0075zM337.89 145.56h6.0075v6.27h-6.0075zM337.89 151.83h6.0075v6.27h-6.0075zM337.89 158.10h6.0075v6.27h-6.0075zM337.89 164.37h6.0075v6.27h-6.0075zM337.89 170.64h6.0075v6.27h-6.0075zM337.89 176.91h6.0075v6.27h-6.0075zM337.89 183.18h6.0075v6.27h-6.0075zM337.89 189.45h6.0075v6.27h-6.0075zM337.89 195.72h6.0075v6.27h-6.0075zM337.89 201.99h6.0075v6.27h-6.0075zM343.90 151.83h6.0075v6.27h-6.0075zM343.90 158.10h6.0075v6.27h-6.0075zM343.90 164.37h6.0075v6.27h-6.0075zM343.90 170.64h6.0075v6.27h-6.0075zM343.90 176.91h6.0075v6.27h-6.0075zM343.90 183.18h6.0075v6.27h-6.0075zM343.90 189.45h6.0075v6.27h-6.0075zM343.90 195.72h6.0075v6.27h-6.0075zM343.90 201.99h6.0075v6.27h-6.0075zM349.91 164.37h6.0075v6.27h-6.0075zM349.91 170.64h6.0075v6.27h-6.0075zM349.91 176.91h6.0075v6.27h-6.0075zM349.91 183.18h6.0075v6.27h-6.0075zM349.91 189.45h6.0075v6.27h-6.0075zM349.91 195.72h6.0075v6.27h-6.0075zM349.91 201.99h6.0075v6.27h-6.0075zM355.92 145.56h6.0075v6.27h-6.0075zM355.92 151.83h6.0075v6.27h-6.0075zM355.92 164.37h6.0075v6.27h-6.0075zM355.92 170.64h6.0075v6.27h-6.0075zM355.92 176.91h6.0075v6.27h-6.0075zM355.92 183.18h6.0075v6.27h-6.0075zM355.92 189.45h6.0075v6.27h-6.0075zM355.92 195.72h6.0075v6.27h-6.0075zM355.92 201.99h6.0075v6.27h-6.0075zM361.92 164.37h6.0075v6.27h-6.0075zM361.92 176.91h6.0075v6.27h-6.0075zM361.92 183.18h6.0075v6.27h-6.0075zM361.92 189.45h6.0075v6.27h-6.0075zM361.92 195.72h6.0075v6.27h-6.0075zM361.92 201.99h6.0075v6.27h-6.0075zM361.92 214.53h6.0075v6.27h-6.0075zM367.93 176.91h6.0075v6.27h-6.0075zM367.93 183.18h6.0075v6.27h-6.0075zM367.93 189.45h6.0075v6.27h-6.0075zM367.93 195.72h6.0075v6.27h-6.0075zM367.93 201.99h6.0075v6.27h-6.0075zM367.93 208.26h6.0075v6.27h-6.0075zM367.93 214.53h6.0075v6.27h-6.0075zM373.94 176.91h6.0075v6.27h-6.0075zM373.94 183.18h6.0075v6.27h-6.0075zM373.94 189.45h6.0075v6.27h-6.0075zM373.94 195.72h6.0075v6.27h-6.0075zM373.94 201.99h6.0075v6.27h-6.0075zM373.94 208.26h6.0075v6.27h-6.0075zM373.94 214.53h6.0075v6.27h-6.0075zM379.94 183.18h6.0075v6.27h-6.0075zM379.94 189.45h6.0075v6.27h-6.0075zM379.94 195.72h6.0075v6.27h-6.0075zM379.94 201.99h6.0075v6.27h-6.0075zM379.94 208.26h6.0075v6.27h-6.0075zM385.95 189.45h6.0075v6.27h-6.0075zM385.95 195.72h6.0075v6.27h-6.0075zM385.95 201.99h6.0075v6.27h-6.0075zM385.95 208.26h6.0075v6.27h-6.0075zM391.96 189.45h6.0075v6.27h-6.0075zM391.96 195.72h6.0075v6.27h-6.0075zM391.96 201.99h6.0075v6.27h-6.0075zM391.96 208.26h6.0075v6.27h-6.0075zM391.96 214.53h6.0075v6.27h-6.0075zM397.97 164.37h6.0075v6.27h-6.0075zM397.97 170.64h6.0075v6.27h-6.0075zM397.97 176.91h6.0075v6.27h-6.0075zM397.97 195.72h6.0075v6.27h-6.0075zM397.97 201.99h6.0075v6.27h-6.0075zM397.97 208.26h6.0075v6.27h-6.0075zM397.97 214.53h6.0075v6.27h-6.0075zM403.98 164.37h6.0075v6.27h-6.0075zM403.98 170.64h6.0075v6.27h-6.0075zM403.98 176.91h6.0075v6.27h-6.0075zM403.98 208.26h6.0075v6.27h-6.0075zM403.98 214.53h6.0075v6.27h-6.0075zM409.98 151.83h6.0075v6.27h-6.0075zM409.98 164.37h6.0075v6.27h-6.0075z" fill="#404040" stroke="#6e6e6e" stroke-width="0.7"/>
<path d="M86.4 103.5L86.9 101.8L89.4 100.9L91.4 96.8L92.7 94.8L96.9 93.1L98.5 90.4L101.0 89.8L102.4 90.4L103.2 93.8L106.9 93.1L109.4 90.1L111.9 87.6L115.2 86.4L119.7 86.3L125.2 86.8L126.9 88.4L128.1 91.4L131.1 92.1L133.6 92.1L135.8 89.3L138.1 86.8L140.3 84.3L143.3 83.8L140.3 80.9L138.1 81.8L136.1 85.9L134.4 85.9L134.1 82.6L134.8 79.2L132.8 77.6L131.9 74.7L133.1 70.1L134.1 65.1L138.6 63.9L141.9 64.2L146.9 63.1L148.1 65.1L148.1 69.2L150.3 71.7L152.0 75.1L153.6 79.2L155.8 82.1L158.6 83.1L161.1 81.8L163.6 78.7L167.0 76.7L169.5 73.7L173.7 73.1L176.2 71.7L180.8 70.1L182.8 71.7L185.3 73.7L188.7 73.7L192.0 71.7L194.5 68.7L196.2 67.6L199.5 67.1L202.9 65.9L200.0 67.6L202.5 66.7L205.8 65.1L207.5 61.7L210.0 58.4L212.5 56.4L215.9 55.0L216.7 51.7L215.9 48.4L216.7 45.0L215.4 42.5L216.7 39.2L217.5 36.3L220.9 37.5L225.0 39.2L229.2 40.4L232.6 41.7L234.2 44.2L235.9 47.5L237.6 50.9L240.1 53.4L241.7 56.7L243.7 59.7L245.4 63.4L247.6 67.1L250.1 70.1L252.6 72.6L254.3 74.7L256.8 73.1L259.3 74.2L262.6 74.7L266.8 74.2L270.9 73.7L273.5 71.7L276.0 73.1L277.1 76.7L278.1 80.9L280.1 83.8L281.5 87.6L281.0 91.8L278.5 95.1L276.5 98.4L274.8 101.8L274.3 105.1L276.0 107.6L278.5 111.0L281.8 114.3L284.3 116.8L287.6 119.3L290.0 120.4L293.3 119.7L296.7 119.2L300.0 117.1L304.2 115.0L307.5 112.5L310.0 110.9L308.7 108.7L310.0 110.9L311.7 108.4L315.0 107.5L318.4 110.0L319.2 114.2L320.9 115.9L323.4 116.7L325.9 117.6L328.7 118.4L329.2 120.9L327.1 123.4L327.6 127.6L328.7 130.1L331.7 130.9L334.2 132.6L337.6 134.2L340.9 135.1L343.4 136.4L345.9 137.6L345.1 140.9L345.4 144.3L347.6 146.4L350.9 146.8L355.9 145.4L360.1 146.4L363.5 147.1L367.6 146.8L369.8 148.1L371.5 149.8L373.5 147.6L376.8 147.6L383.5 148.1L390.2 148.4L398.5 148.9L406.9 149.4L413.5 149.8L420.5 150.4L419.7 158.8L412.7 158.6L412.2 161.0L405.2 160.6L405.0 166.6L407.9 166.3L411.4 165.5L415.7 165.8L415.9 170.1L413.9 172.0L410.0 173.8L408.2 176.3L410.0 179.0L409.5 181.7L405.2 183.3L400.8 182.5L396.0 182.2L395.0 184.7L394.4 185.0L396.0 187.1L395.5 190.3L396.5 193.4L398.6 196.1L402.3 198.2L404.4 201.8L406.0 206.1L407.1 210.3L407.6 214.5L407.1 218.7L404.9 221.3L402.8 222.4L401.8 220.8L399.7 220.8L397.6 221.3L394.4 220.3L391.3 219.7L388.1 218.7L386.0 216.6L384.4 214.5L382.8 213.6L380.7 215.0L379.7 217.1L379.5 219.7L380.7 221.8L383.4 223.1L386.0 223.7L389.2 224.6L392.3 225.6L395.5 225.2L398.6 226.6L401.8 228.2L404.9 229.7L406.5 231.8L408.1 233.9L410.7 235.7L408.1 234.5L403.9 231.6L399.7 229.0L395.5 226.9L391.3 224.9L387.1 223.4L382.8 222.3L378.6 221.4L374.4 220.8L370.2 220.3L366.0 219.9L361.8 219.7L358.6 219.5L355.5 219.3L351.3 218.9L347.1 218.7L342.8 218.9L338.6 219.5L334.4 220.3L330.2 221.3L327.1 222.1L326.0 223.4L321.7 225.1L317.5 228.4L313.4 230.9L311.7 233.4L307.5 235.9L303.4 237.6L298.3 239.3L293.3 241.0L290.0 242.6L302.1 238.1L298.6 239.3L294.4 240.4L290.2 241.8L286.1 243.4L282.7 245.1L278.5 246.5L274.4 248.1L270.2 249.8L266.0 251.8L261.8 253.8L258.5 255.6L255.2 257.1L251.8 258.5L248.5 259.3L243.5 259.5L238.5 259.3L234.3 260.1L231.8 261.5L228.5 261.8L225.1 261.3L221.8 259.8L216.8 258.0L212.6 256.5L208.4 255.5L204.3 254.3L200.9 252.6L197.6 251.0L194.2 249.6L190.9 247.6L187.6 245.1L184.2 243.1L180.9 241.8L177.5 240.9L174.2 240.4L170.0 239.8L165.9 240.1L161.7 239.8L157.5 238.9L156.3 238.6L153.8 236.7L152.3 234.7L150.6 236.2L146.5 236.7L141.8 237.2L138.0 237.5L135.1 235.7L130.1 232.7L125.1 229.3L120.1 226.0L115.1 222.6L110.9 220.1L106.7 218.0L101.7 216.0L95.9 214.8L90.0 213.8L84.2 213.1L82.5 211.0L84.2 208.5L90.0 207.6L93.4 205.9L95.9 203.4L96.7 199.3L95.1 197.6L94.2 193.4L96.7 192.6L101.7 192.6L105.9 190.9L106.4 186.8L106.7 182.6L110.9 180.9L114.3 178.4L115.9 175.1L116.8 170.9L115.4 166.7L115.1 163.0L118.4 160.0L121.4 157.5L117.6 154.7L111.8 152.5L106.4 151.4L105.4 148.4L105.9 144.2L103.4 142.0L99.7 140.8L100.1 137.5L98.4 135.0L99.4 130.2L97.7 126.0L96.9 121.0L95.2 116.8L92.7 113.5L91.0 110.1L87.7 108.5L86.0 106.0ZM334.9 213.4L336.5 211.3L339.2 209.7L341.3 207.1L343.4 205.0L346.5 203.9L349.7 203.7L351.3 205.5L351.8 207.6L353.4 209.7L354.6 211.3L353.6 213.4L351.3 214.7L348.6 215.5L346.0 216.6L341.8 216.8L337.6 216.4L335.5 215.0ZM357.6 219.2L359.2 217.1L357.6 215.0L357.4 212.9L358.6 210.8L360.7 209.2L363.4 208.7L366.0 209.0L368.1 210.8L368.6 212.6L367.6 214.5L364.9 216.1L362.3 217.1L359.7 218.5ZM334.9 213.9L332.3 216.6L331.3 218.2L334.4 217.6L337.6 217.6L347.1 218.5L355.5 219.2" fill="none" stroke="#000" stroke-width="1.4" stroke-linejoin="round"/>
<path d="M140.0 236.9L144.7 236.2L150.5 235.7L152.1 234.3L154.2 236.1L155.5 237.6L150.0 237.9L144.7 237.9Z" fill="#000"/>
<rect x="309.5" y="26" width="67.5" height="87.4" fill="#fff"/>
<text y="47.3" font-size="10.6"><tspan x="316.3">P</tspan><tspan x="327.6" font-size="11">&#950;</tspan><tspan x="336.3">&gt;</tspan><tspan x="345.6">1</tspan><tspan x="354.40">y</tspan></text>
<path d="M326.6 37.6Q321.6 44.2 326.6 50.8" fill="none" stroke="#111" stroke-width="0.95"/>
<path d="M361.20 37.6Q366.20 44.2 361.20 50.8" fill="none" stroke="#111" stroke-width="0.95"/>
<path d="M352.90 36.4V51.2" stroke="#555" stroke-width="0.9"/>
<rect x="316.2" y="59.00" width="11.6" height="11.95" fill="#ffffff" stroke="#6e6e6e" stroke-width="0.7"/>
<text x="334.2" y="68.80" font-size="8.8" fill="#1a1a1a">[0,0.25]</text>
<rect x="316.2" y="70.95" width="11.6" height="11.95" fill="#e0e0e0" stroke="#6e6e6e" stroke-width="0.7"/>
<text x="334.2" y="80.75" font-size="8.8" fill="#1a1a1a">(0.25,0.5]</text>
<rect x="316.2" y="82.90" width="11.6" height="11.95" fill="#b4b4b4" stroke="#6e6e6e" stroke-width="0.7"/>
<text x="334.2" y="92.70" font-size="8.8" fill="#1a1a1a">(0.5,0.75]</text>
<rect x="316.2" y="94.85" width="11.6" height="11.95" fill="#404040" stroke="#6e6e6e" stroke-width="0.7"/>
<text x="334.2" y="104.65" font-size="8.8" fill="#1a1a1a">(0.75,1]</text>
<path d="M416.7 29.2L401.8 55.6L416.7 43.6Z" fill="#fff" stroke="#000" stroke-width="0.8" stroke-linejoin="miter"/>
<path d="M416.7 29.2L431.6 55.6L416.7 43.6Z" fill="#000" stroke="#000" stroke-width="0.8"/>
<text x="416.7" y="58.6" font-size="7.8" text-anchor="middle">N</text>
<rect x="70.10" y="262.6" width="13.6" height="5.2" fill="#000" stroke="#000" stroke-width="0.5"/>
<rect x="83.70" y="262.6" width="13.6" height="5.2" fill="#fff" stroke="#000" stroke-width="0.5"/>
<rect x="97.30" y="262.6" width="13.6" height="5.2" fill="#000" stroke="#000" stroke-width="0.5"/>
<rect x="110.90" y="262.6" width="13.6" height="5.2" fill="#fff" stroke="#000" stroke-width="0.5"/>
<rect x="124.50" y="262.6" width="13.6" height="5.2" fill="#000" stroke="#000" stroke-width="0.5"/>
<text x="141.8" y="267.5" font-size="5.9">100 km</text>
<rect x="65.25" y="24.4" width="372.0" height="247.99999999999997" fill="none" stroke="#666" stroke-width="1"/>
<text x="121.90" y="284.4" font-size="8.8" fill="#4d4d4d" text-anchor="middle">98&#176;W</text>
<text x="193.99" y="284.4" font-size="8.8" fill="#4d4d4d" text-anchor="middle">97&#176;W</text>
<text x="266.08" y="284.4" font-size="8.8" fill="#4d4d4d" text-anchor="middle">96&#176;W</text>
<text x="338.17" y="284.4" font-size="8.8" fill="#4d4d4d" text-anchor="middle">95&#176;W</text>
<text x="410.26" y="284.4" font-size="8.8" fill="#4d4d4d" text-anchor="middle">94&#176;W</text>
<text x="60" y="238.55" font-size="8.8" fill="#4d4d4d" text-anchor="end">16.0&#176;N</text>
<text x="60" y="200.92" font-size="8.8" fill="#4d4d4d" text-anchor="end">16.5&#176;N</text>
<text x="60" y="163.29" font-size="8.8" fill="#4d4d4d" text-anchor="end">17.0&#176;N</text>
<text x="60" y="125.66" font-size="8.8" fill="#4d4d4d" text-anchor="end">17.5&#176;N</text>
<text x="60" y="88.03" font-size="8.8" fill="#4d4d4d" text-anchor="end">18.0&#176;N</text>
<text x="60" y="50.40" font-size="8.8" fill="#4d4d4d" text-anchor="end">18.5&#176;N</text>
<path d="M121.90 272.4v2.8M193.99 272.4v2.8M266.08 272.4v2.8M338.17 272.4v2.8M410.26 272.4v2.8M65.25 235.25h-2.8M65.25 197.62h-2.8M65.25 159.99h-2.8M65.25 122.36h-2.8M65.25 84.73h-2.8M65.25 47.10h-2.8" stroke="#555" stroke-width="1" fill="none"/>
<text x="251.25" y="297.4" font-size="11" text-anchor="middle">Longitude</text>
<text transform="translate(27.5,148.4) rotate(-90)" font-size="11" text-anchor="middle">Latitude</text>
</g>
<g transform="translate(456,0)">
<text x="65.3" y="15.6" font-size="13.2">b)</text>
<path d="M121.90 24.4V272.4M193.99 24.4V272.4M266.08 24.4V272.4M338.17 24.4V272.4M410.26 24.4V272.4M65.25 235.25H437.25M65.25 197.62H437.25M65.25 159.99H437.25M65.25 122.36H437.25M65.25 84.73H437.25M65.25 47.10H437.25" stroke="#ebebeb" stroke-width="0.9" fill="none"/>
<path d="M91.58 107.94h6.0075v6.27h-6.0075zM91.58 201.99h6.0075v6.27h-6.0075zM97.59 89.13h6.0075v6.27h-6.0075zM97.59 95.40h6.0075v6.27h-6.0075zM97.59 101.67h6.0075v6.27h-6.0075zM97.59 107.94h6.0075v6.27h-6.0075zM97.59 114.21h6.0075v6.27h-6.0075zM97.59 120.48h6.0075v6.27h-6.0075zM97.59 126.75h6.0075v6.27h-6.0075zM97.59 133.02h6.0075v6.27h-6.0075zM97.59 195.72h6.0075v6.27h-6.0075zM103.60 95.40h6.0075v6.27h-6.0075zM103.60 101.67h6.0075v6.27h-6.0075zM103.60 107.94h6.0075v6.27h-6.0075zM103.60 114.21h6.0075v6.27h-6.0075zM103.60 120.48h6.0075v6.27h-6.0075zM103.60 126.75h6.0075v6.27h-6.0075zM103.60 133.02h6.0075v6.27h-6.0075zM103.60 139.29h6.0075v6.27h-6.0075zM103.60 145.56h6.0075v6.27h-6.0075zM103.60 183.18h6.0075v6.27h-6.0075zM103.60 189.45h6.0075v6.27h-6.0075zM103.60 201.99h6.0075v6.27h-6.0075zM103.60 208.26h6.0075v6.27h-6.0075zM103.60 214.53h6.0075v6.27h-6.0075zM109.61 89.13h6.0075v6.27h-6.0075zM109.61 95.40h6.0075v6.27h-6.0075zM109.61 101.67h6.0075v6.27h-6.0075zM109.61 107.94h6.0075v6.27h-6.0075zM109.61 114.21h6.0075v6.27h-6.0075zM109.61 120.48h6.0075v6.27h-6.0075zM109.61 126.75h6.0075v6.27h-6.0075zM109.61 133.02h6.0075v6.27h-6.0075zM109.61 139.29h6.0075v6.27h-6.0075zM109.61 145.56h6.0075v6.27h-6.0075zM109.61 176.91h6.0075v6.27h-6.0075zM109.61 183.18h6.0075v6.27h-6.0075zM109.61 189.45h6.0075v6.27h-6.0075zM109.61 195.72h6.0075v6.27h-6.0075zM109.61 208.26h6.0075v6.27h-6.0075zM109.61 214.53h6.0075v6.27h-6.0075zM115.61 89.13h6.0075v6.27h-6.0075zM115.61 95.40h6.0075v6.27h-6.0075zM115.61 101.67h6.0075v6.27h-6.0075zM115.61 107.94h6.0075v6.27h-6.0075zM115.61 114.21h6.0075v6.27h-6.0075zM115.61 120.48h6.0075v6.27h-6.0075zM115.61 126.75h6.0075v6.27h-6.0075zM115.61 133.02h6.0075v6.27h-6.0075zM115.61 139.29h6.0075v6.27h-6.0075zM115.61 145.56h6.0075v6.27h-6.0075zM115.61 151.83h6.0075v6.27h-6.0075zM115.61 158.10h6.0075v6.27h-6.0075zM115.61 164.37h6.0075v6.27h-6.0075zM115.61 170.64h6.0075v6.27h-6.0075zM115.61 176.91h6.0075v6.27h-6.0075zM115.61 183.18h6.0075v6.27h-6.0075zM115.61 195.72h6.0075v6.27h-6.0075zM115.61 201.99h6.0075v6.27h-6.0075zM115.61 214.53h6.0075v6.27h-6.0075zM115.61 220.80h6.0075v6.27h-6.0075zM121.62 89.13h6.0075v6.27h-6.0075zM121.62 95.40h6.0075v6.27h-6.0075zM121.62 101.67h6.0075v6.27h-6.0075zM121.62 107.94h6.0075v6.27h-6.0075zM121.62 114.21h6.0075v6.27h-6.0075zM121.62 120.48h6.0075v6.27h-6.0075zM121.62 126.75h6.0075v6.27h-6.0075zM121.62 133.02h6.0075v6.27h-6.0075zM121.62 139.29h6.0075v6.27h-6.0075zM121.62 158.10h6.0075v6.27h-6.0075zM121.62 164.37h6.0075v6.27h-6.0075zM121.62 170.64h6.0075v6.27h-6.0075zM121.62 176.91h6.0075v6.27h-6.0075zM121.62 183.18h6.0075v6.27h-6.0075zM121.62 195.72h6.0075v6.27h-6.0075zM121.62 201.99h6.0075v6.27h-6.0075zM121.62 208.26h6.0075v6.27h-6.0075zM121.62 214.53h6.0075v6.27h-6.0075zM121.62 220.80h6.0075v6.27h-6.0075zM127.63 89.13h6.0075v6.27h-6.0075zM127.63 95.40h6.0075v6.27h-6.0075zM127.63 101.67h6.0075v6.27h-6.0075zM127.63 107.94h6.0075v6.27h-6.0075zM127.63 114.21h6.0075v6.27h-6.0075zM127.63 120.48h6.0075v6.27h-6.0075zM127.63 126.75h6.0075v6.27h-6.0075zM127.63 133.02h6.0075v6.27h-6.0075zM127.63 139.29h6.0075v6.27h-6.0075zM127.63 151.83h6.0075v6.27h-6.0075zM127.63 158.10h6.0075v6.27h-6.0075zM127.63 164.37h6.0075v6.27h-6.0075zM127.63 170.64h6.0075v6.27h-6.0075zM127.63 176.91h6.0075v6.27h-6.0075zM127.63 189.45h6.0075v6.27h-6.0075zM127.63 195.72h6.0075v6.27h-6.0075zM127.63 201.99h6.0075v6.27h-6.0075zM127.63 208.26h6.0075v6.27h-6.0075zM127.63 214.53h6.0075v6.27h-6.0075zM127.63 227.07h6.0075v6.27h-6.0075zM133.64 64.05h6.0075v6.27h-6.0075zM133.64 70.32h6.0075v6.27h-6.0075zM133.64 76.59h6.0075v6.27h-6.0075zM133.64 89.13h6.0075v6.27h-6.0075zM133.64 95.40h6.0075v6.27h-6.0075zM133.64 101.67h6.0075v6.27h-6.0075zM133.64 107.94h6.0075v6.27h-6.0075zM133.64 114.21h6.0075v6.27h-6.0075zM133.64 120.48h6.0075v6.27h-6.0075zM133.64 126.75h6.0075v6.27h-6.0075zM133.64 133.02h6.0075v6.27h-6.0075zM133.64 139.29h6.0075v6.27h-6.0075zM133.64 145.56h6.0075v6.27h-6.0075zM133.64 151.83h6.0075v6.27h-6.0075zM133.64 158.10h6.0075v6.27h-6.0075zM133.64 170.64h6.0075v6.27h-6.0075zM133.64 176.91h6.0075v6.27h-6.0075zM133.64 183.18h6.0075v6.27h-6.0075zM133.64 195.72h6.0075v6.27h-6.0075zM133.64 201.99h6.0075v6.27h-6.0075zM133.64 208.26h6.0075v6.27h-6.0075zM133.64 214.53h6.0075v6.27h-6.0075zM133.64 227.07h6.0075v6.27h-6.0075zM133.64 233.34h6.0075v6.27h-6.0075zM139.64 64.05h6.0075v6.27h-6.0075zM139.64 70.32h6.0075v6.27h-6.0075zM139.64 76.59h6.0075v6.27h-6.0075zM139.64 82.86h6.0075v6.27h-6.0075zM139.64 89.13h6.0075v6.27h-6.0075zM139.64 95.40h6.0075v6.27h-6.0075zM139.64 101.67h6.0075v6.27h-6.0075zM139.64 107.94h6.0075v6.27h-6.0075zM139.64 114.21h6.0075v6.27h-6.0075zM139.64 120.48h6.0075v6.27h-6.0075zM139.64 126.75h6.0075v6.27h-6.0075zM139.64 133.02h6.0075v6.27h-6.0075zM139.64 139.29h6.0075v6.27h-6.0075zM139.64 145.56h6.0075v6.27h-6.0075zM139.64 151.83h6.0075v6.27h-6.0075zM139.64 158.10h6.0075v6.27h-6.0075zM139.64 170.64h6.0075v6.27h-6.0075zM139.64 176.91h6.0075v6.27h-6.0075zM139.64 183.18h6.0075v6.27h-6.0075zM139.64 195.72h6.0075v6.27h-6.0075zM139.64 201.99h6.0075v6.27h-6.0075zM139.64 208.26h6.0075v6.27h-6.0075zM139.64 214.53h6.0075v6.27h-6.0075zM139.64 220.80h6.0075v6.27h-6.0075zM139.64 227.07h6.0075v6.27h-6.0075zM139.64 233.34h6.0075v6.27h-6.0075zM145.65 70.32h6.0075v6.27h-6.0075zM145.65 76.59h6.0075v6.27h-6.0075zM145.65 82.86h6.0075v6.27h-6.0075zM145.65 89.13h6.0075v6.27h-6.0075zM145.65 95.40h6.0075v6.27h-6.0075zM145.65 101.67h6.0075v6.27h-6.0075zM145.65 107.94h6.0075v6.27h-6.0075zM145.65 114.21h6.0075v6.27h-6.0075zM145.65 120.48h6.0075v6.27h-6.0075zM145.65 126.75h6.0075v6.27h-6.0075zM145.65 133.02h6.0075v6.27h-6.0075zM145.65 139.29h6.0075v6.27h-6.0075zM145.65 145.56h6.0075v6.27h-6.0075zM145.65 151.83h6.0075v6.27h-6.0075zM145.65 158.10h6.0075v6.27h-6.0075zM145.65 164.37h6.0075v6.27h-6.0075zM145.65 170.64h6.0075v6.27h-6.0075zM145.65 176.91h6.0075v6.27h-6.0075zM145.65 183.18h6.0075v6.27h-6.0075zM145.65 189.45h6.0075v6.27h-6.0075zM145.65 201.99h6.0075v6.27h-6.0075zM145.65 208.26h6.0075v6.27h-6.0075zM145.65 214.53h6.0075v6.27h-6.0075zM151.66 82.86h6.0075v6.27h-6.0075zM151.66 89.13h6.0075v6.27h-6.0075zM151.66 95.40h6.0075v6.27h-6.0075zM151.66 101.67h6.0075v6.27h-6.0075zM151.66 107.94h6.0075v6.27h-6.0075zM151.66 114.21h6.0075v6.27h-6.0075zM151.66 120.48h6.0075v6.27h-6.0075zM151.66 126.75h6.0075v6.27h-6.0075zM151.66 133.02h6.0075v6.27h-6.0075zM151.66 139.29h6.0075v6.27h-6.0075zM151.66 145.56h6.0075v6.27h-6.0075zM151.66 151.83h6.0075v6.27h-6.0075zM151.66 158.10h6.0075v6.27h-6.0075zM151.66 164.37h6.0075v6.27h-6.0075zM151.66 170.64h6.0075v6.27h-6.0075zM151.66 176.91h6.0075v6.27h-6.0075zM151.66 183.18h6.0075v6.27h-6.0075zM151.66 189.45h6.0075v6.27h-6.0075zM151.66 195.72h6.0075v6.27h-6.0075zM151.66 201.99h6.0075v6.27h-6.0075zM151.66 208.26h6.0075v6.27h-6.0075zM151.66 214.53h6.0075v6.27h-6.0075zM151.66 220.80h6.0075v6.27h-6.0075zM151.66 227.07h6.0075v6.27h-6.0075zM151.66 233.34h6.0075v6.27h-6.0075zM157.67 82.86h6.0075v6.27h-6.0075zM157.67 89.13h6.0075v6.27h-6.0075zM157.67 95.40h6.0075v6.27h-6.0075zM157.67 101.67h6.0075v6.27h-6.0075zM157.67 107.94h6.0075v6.27h-6.0075zM157.67 114.21h6.0075v6.27h-6.0075zM157.67 120.48h6.0075v6.27h-6.0075zM157.67 126.75h6.0075v6.27h-6.0075zM157.67 133.02h6.0075v6.27h-6.0075zM157.67 139.29h6.0075v6.27h-6.0075zM157.67 145.56h6.0075v6.27h-6.0075zM157.67 151.83h6.0075v6.27h-6.0075zM157.67 158.10h6.0075v6.27h-6.0075zM157.67 164.37h6.0075v6.27h-6.0075zM157.67 170.64h6.0075v6.27h-6.0075zM157.67 176.91h6.0075v6.27h-6.0075zM157.67 189.45h6.0075v6.27h-6.0075zM157.67 195.72h6.0075v6.27h-6.0075zM157.67 201.99h6.0075v6.27h-6.0075zM157.67 208.26h6.0075v6.27h-6.0075zM157.67 214.53h6.0075v6.27h-6.0075zM157.67 220.80h6.0075v6.27h-6.0075zM157.67 227.07h6.0075v6.27h-6.0075zM157.67 233.34h6.0075v6.27h-6.0075zM163.68 76.59h6.0075v6.27h-6.0075zM163.68 82.86h6.0075v6.27h-6.0075zM163.68 89.13h6.0075v6.27h-6.0075zM163.68 95.40h6.0075v6.27h-6.0075zM163.68 101.67h6.0075v6.27h-6.0075zM163.68 107.94h6.0075v6.27h-6.0075zM163.68 114.21h6.0075v6.27h-6.0075zM163.68 120.48h6.0075v6.27h-6.0075zM163.68 126.75h6.0075v6.27h-6.0075zM163.68 133.02h6.0075v6.27h-6.0075zM163.68 139.29h6.0075v6.27h-6.0075zM163.68 158.10h6.0075v6.27h-6.0075zM163.68 164.37h6.0075v6.27h-6.0075zM163.68 170.64h6.0075v6.27h-6.0075zM163.68 176.91h6.0075v6.27h-6.0075zM163.68 189.45h6.0075v6.27h-6.0075zM163.68 195.72h6.0075v6.27h-6.0075zM163.68 208.26h6.0075v6.27h-6.0075zM163.68 214.53h6.0075v6.27h-6.0075zM163.68 220.80h6.0075v6.27h-6.0075zM163.68 227.07h6.0075v6.27h-6.0075zM163.68 233.34h6.0075v6.27h-6.0075zM169.68 70.32h6.0075v6.27h-6.0075zM169.68 76.59h6.0075v6.27h-6.0075zM169.68 82.86h6.0075v6.27h-6.0075zM169.68 89.13h6.0075v6.27h-6.0075zM169.68 95.40h6.0075v6.27h-6.0075zM169.68 101.67h6.0075v6.27h-6.0075zM169.68 107.94h6.0075v6.27h-6.0075zM169.68 114.21h6.0075v6.27h-6.0075zM169.68 120.48h6.0075v6.27h-6.0075zM169.68 126.75h6.0075v6.27h-6.0075zM169.68 133.02h6.0075v6.27h-6.0075zM169.68 139.29h6.0075v6.27h-6.0075zM169.68 158.10h6.0075v6.27h-6.0075zM169.68 164.37h6.0075v6.27h-6.0075zM169.68 170.64h6.0075v6.27h-6.0075zM169.68 176.91h6.0075v6.27h-6.0075zM169.68 183.18h6.0075v6.27h-6.0075zM169.68 189.45h6.0075v6.27h-6.0075zM169.68 220.80h6.0075v6.27h-6.0075zM169.68 227.07h6.0075v6.27h-6.0075zM169.68 233.34h6.0075v6.27h-6.0075zM175.69 70.32h6.0075v6.27h-6.0075zM175.69 76.59h6.0075v6.27h-6.0075zM175.69 82.86h6.0075v6.27h-6.0075zM175.69 89.13h6.0075v6.27h-6.0075zM175.69 95.40h6.0075v6.27h-6.0075zM175.69 101.67h6.0075v6.27h-6.0075zM175.69 107.94h6.0075v6.27h-6.0075zM175.69 114.21h6.0075v6.27h-6.0075zM175.69 120.48h6.0075v6.27h-6.0075zM175.69 126.75h6.0075v6.27h-6.0075zM175.69 133.02h6.0075v6.27h-6.0075zM175.69 139.29h6.0075v6.27h-6.0075zM175.69 145.56h6.0075v6.27h-6.0075zM175.69 151.83h6.0075v6.27h-6.0075zM175.69 158.10h6.0075v6.27h-6.0075zM175.69 164.37h6.0075v6.27h-6.0075zM175.69 170.64h6.0075v6.27h-6.0075zM175.69 176.91h6.0075v6.27h-6.0075zM175.69 183.18h6.0075v6.27h-6.0075zM175.69 189.45h6.0075v6.27h-6.0075zM175.69 195.72h6.0075v6.27h-6.0075zM175.69 214.53h6.0075v6.27h-6.0075zM175.69 220.80h6.0075v6.27h-6.0075zM175.69 227.07h6.0075v6.27h-6.0075zM175.69 233.34h6.0075v6.27h-6.0075zM181.70 70.32h6.0075v6.27h-6.0075zM181.70 76.59h6.0075v6.27h-6.0075zM181.70 82.86h6.0075v6.27h-6.0075zM181.70 89.13h6.0075v6.27h-6.0075zM181.70 95.40h6.0075v6.27h-6.0075zM181.70 101.67h6.0075v6.27h-6.0075zM181.70 107.94h6.0075v6.27h-6.0075zM181.70 114.21h6.0075v6.27h-6.0075zM181.70 120.48h6.0075v6.27h-6.0075zM181.70 126.75h6.0075v6.27h-6.0075zM181.70 133.02h6.0075v6.27h-6.0075zM181.70 139.29h6.0075v6.27h-6.0075zM181.70 145.56h6.0075v6.27h-6.0075zM181.70 151.83h6.0075v6.27h-6.0075zM181.70 158.10h6.0075v6.27h-6.0075zM181.70 164.37h6.0075v6.27h-6.0075zM181.70 170.64h6.0075v6.27h-6.0075zM181.70 176.91h6.0075v6.27h-6.0075zM181.70 183.18h6.0075v6.27h-6.0075zM181.70 189.45h6.0075v6.27h-6.0075zM181.70 195.72h6.0075v6.27h-6.0075zM181.70 201.99h6.0075v6.27h-6.0075zM181.70 214.53h6.0075v6.27h-6.0075zM181.70 220.80h6.0075v6.27h-6.0075zM181.70 227.07h6.0075v6.27h-6.0075zM181.70 239.61h6.0075v6.27h-6.0075zM187.70 70.32h6.0075v6.27h-6.0075zM187.70 76.59h6.0075v6.27h-6.0075zM187.70 82.86h6.0075v6.27h-6.0075zM187.70 89.13h6.0075v6.27h-6.0075zM187.70 95.40h6.0075v6.27h-6.0075zM187.70 101.67h6.0075v6.27h-6.0075zM187.70 107.94h6.0075v6.27h-6.0075zM187.70 114.21h6.0075v6.27h-6.0075zM187.70 120.48h6.0075v6.27h-6.0075zM187.70 126.75h6.0075v6.27h-6.0075zM187.70 133.02h6.0075v6.27h-6.0075zM187.70 139.29h6.0075v6.27h-6.0075zM187.70 145.56h6.0075v6.27h-6.0075zM187.70 151.83h6.0075v6.27h-6.0075zM187.70 158.10h6.0075v6.27h-6.0075zM187.70 164.37h6.0075v6.27h-6.0075zM187.70 170.64h6.0075v6.27h-6.0075zM187.70 176.91h6.0075v6.27h-6.0075zM187.70 183.18h6.0075v6.27h-6.0075zM187.70 189.45h6.0075v6.27h-6.0075zM187.70 195.72h6.0075v6.27h-6.0075zM187.70 201.99h6.0075v6.27h-6.0075zM187.70 208.26h6.0075v6.27h-6.0075zM187.70 214.53h6.0075v6.27h-6.0075zM187.70 220.80h6.0075v6.27h-6.0075zM187.70 227.07h6.0075v6.27h-6.0075zM187.70 233.34h6.0075v6.27h-6.0075zM193.71 70.32h6.0075v6.27h-6.0075zM193.71 76.59h6.0075v6.27h-6.0075zM193.71 82.86h6.0075v6.27h-6.0075zM193.71 89.13h6.0075v6.27h-6.0075zM193.71 95.40h6.0075v6.27h-6.0075zM193.71 101.67h6.0075v6.27h-6.0075zM193.71 107.94h6.0075v6.27h-6.0075zM193.71 114.21h6.0075v6.27h-6.0075zM193.71 120.48h6.0075v6.27h-6.0075zM193.71 126.75h6.0075v6.27h-6.0075zM193.71 133.02h6.0075v6.27h-6.0075zM193.71 139.29h6.0075v6.27h-6.0075zM193.71 145.56h6.0075v6.27h-6.0075zM193.71 151.83h6.0075v6.27h-6.0075zM193.71 158.10h6.0075v6.27h-6.0075zM193.71 164.37h6.0075v6.27h-6.0075zM193.71 170.64h6.0075v6.27h-6.0075zM193.71 176.91h6.0075v6.27h-6.0075zM193.71 183.18h6.0075v6.27h-6.0075zM193.71 189.45h6.0075v6.27h-6.0075zM193.71 195.72h6.0075v6.27h-6.0075zM193.71 201.99h6.0075v6.27h-6.0075zM193.71 208.26h6.0075v6.27h-6.0075zM193.71 214.53h6.0075v6.27h-6.0075zM193.71 220.80h6.0075v6.27h-6.0075zM193.71 227.07h6.0075v6.27h-6.0075zM193.71 233.34h6.0075v6.27h-6.0075zM199.72 64.05h6.0075v6.27h-6.0075zM199.72 70.32h6.0075v6.27h-6.0075zM199.72 76.59h6.0075v6.27h-6.0075zM199.72 82.86h6.0075v6.27h-6.0075zM199.72 89.13h6.0075v6.27h-6.0075zM199.72 95.40h6.0075v6.27h-6.0075zM199.72 101.67h6.0075v6.27h-6.0075zM199.72 107.94h6.0075v6.27h-6.0075zM199.72 114.21h6.0075v6.27h-6.0075zM199.72 120.48h6.0075v6.27h-6.0075zM199.72 126.75h6.0075v6.27h-6.0075zM199.72 133.02h6.0075v6.27h-6.0075zM199.72 139.29h6.0075v6.27h-6.0075zM199.72 145.56h6.0075v6.27h-6.0075zM199.72 151.83h6.0075v6.27h-6.0075zM199.72 158.10h6.0075v6.27h-6.0075zM199.72 164.37h6.0075v6.27h-6.0075zM199.72 170.64h6.0075v6.27h-6.0075zM199.72 176.91h6.0075v6.27h-6.0075zM199.72 183.18h6.0075v6.27h-6.0075zM199.72 189.45h6.0075v6.27h-6.0075zM199.72 195.72h6.0075v6.27h-6.0075zM199.72 201.99h6.0075v6.27h-6.0075zM199.72 208.26h6.0075v6.27h-6.0075zM199.72 214.53h6.0075v6.27h-6.0075zM199.72 220.80h6.0075v6.27h-6.0075zM199.72 227.07h6.0075v6.27h-6.0075zM199.72 239.61h6.0075v6.27h-6.0075zM199.72 245.88h6.0075v6.27h-6.0075zM205.73 57.78h6.0075v6.27h-6.0075zM205.73 64.05h6.0075v6.27h-6.0075zM205.73 70.32h6.0075v6.27h-6.0075zM205.73 76.59h6.0075v6.27h-6.0075zM205.73 89.13h6.0075v6.27h-6.0075zM205.73 95.40h6.0075v6.27h-6.0075zM205.73 101.67h6.0075v6.27h-6.0075zM205.73 107.94h6.0075v6.27h-6.0075zM205.73 114.21h6.0075v6.27h-6.0075zM205.73 120.48h6.0075v6.27h-6.0075zM205.73 126.75h6.0075v6.27h-6.0075zM205.73 133.02h6.0075v6.27h-6.0075zM205.73 139.29h6.0075v6.27h-6.0075zM205.73 145.56h6.0075v6.27h-6.0075zM205.73 151.83h6.0075v6.27h-6.0075zM205.73 158.10h6.0075v6.27h-6.0075zM205.73 164.37h6.0075v6.27h-6.0075zM205.73 170.64h6.0075v6.27h-6.0075zM205.73 176.91h6.0075v6.27h-6.0075zM205.73 183.18h6.0075v6.27h-6.0075zM205.73 189.45h6.0075v6.27h-6.0075zM205.73 195.72h6.0075v6.27h-6.0075zM205.73 201.99h6.0075v6.27h-6.0075zM205.73 208.26h6.0075v6.27h-6.0075zM205.73 220.80h6.0075v6.27h-6.0075zM205.73 227.07h6.0075v6.27h-6.0075zM205.73 233.34h6.0075v6.27h-6.0075zM205.73 239.61h6.0075v6.27h-6.0075zM205.73 245.88h6.0075v6.27h-6.0075zM205.73 252.15h6.0075v6.27h-6.0075zM211.74 57.78h6.0075v6.27h-6.0075zM211.74 64.05h6.0075v6.27h-6.0075zM211.74 70.32h6.0075v6.27h-6.0075zM211.74 76.59h6.0075v6.27h-6.0075zM211.74 101.67h6.0075v6.27h-6.0075zM211.74 107.94h6.0075v6.27h-6.0075zM211.74 114.21h6.0075v6.27h-6.0075zM211.74 120.48h6.0075v6.27h-6.0075zM211.74 126.75h6.0075v6.27h-6.0075zM211.74 133.02h6.0075v6.27h-6.0075zM211.74 139.29h6.0075v6.27h-6.0075zM211.74 145.56h6.0075v6.27h-6.0075zM211.74 151.83h6.0075v6.27h-6.0075zM211.74 158.10h6.0075v6.27h-6.0075zM211.74 164.37h6.0075v6.27h-6.0075zM211.74 170.64h6.0075v6.27h-6.0075zM211.74 176.91h6.0075v6.27h-6.0075zM211.74 183.18h6.0075v6.27h-6.0075zM211.74 189.45h6.0075v6.27h-6.0075zM211.74 195.72h6.0075v6.27h-6.0075zM211.74 201.99h6.0075v6.27h-6.0075zM211.74 208.26h6.0075v6.27h-6.0075zM211.74 220.80h6.0075v6.27h-6.0075zM211.74 227.07h6.0075v6.27h-6.0075zM211.74 233.34h6.0075v6.27h-6.0075zM211.74 239.61h6.0075v6.27h-6.0075zM211.74 245.88h6.0075v6.27h-6.0075zM211.74 252.15h6.0075v6.27h-6.0075zM217.74 38.97h6.0075v6.27h-6.0075zM217.74 45.24h6.0075v6.27h-6.0075zM217.74 51.51h6.0075v6.27h-6.0075zM217.74 57.78h6.0075v6.27h-6.0075zM217.74 64.05h6.0075v6.27h-6.0075zM217.74 70.32h6.0075v6.27h-6.0075zM217.74 76.59h6.0075v6.27h-6.0075zM217.74 82.86h6.0075v6.27h-6.0075zM217.74 89.13h6.0075v6.27h-6.0075zM217.74 95.40h6.0075v6.27h-6.0075zM217.74 101.67h6.0075v6.27h-6.0075zM217.74 107.94h6.0075v6.27h-6.0075zM217.74 114.21h6.0075v6.27h-6.0075zM217.74 120.48h6.0075v6.27h-6.0075zM217.74 126.75h6.0075v6.27h-6.0075zM217.74 133.02h6.0075v6.27h-6.0075zM217.74 139.29h6.0075v6.27h-6.0075zM217.74 145.56h6.0075v6.27h-6.0075zM217.74 151.83h6.0075v6.27h-6.0075zM217.74 158.10h6.0075v6.27h-6.0075zM217.74 164.37h6.0075v6.27h-6.0075zM217.74 170.64h6.0075v6.27h-6.0075zM217.74 176.91h6.0075v6.27h-6.0075zM217.74 183.18h6.0075v6.27h-6.0075zM217.74 189.45h6.0075v6.27h-6.0075zM217.74 195.72h6.0075v6.27h-6.0075zM217.74 201.99h6.0075v6.27h-6.0075zM217.74 208.26h6.0075v6.27h-6.0075zM217.74 214.53h6.0075v6.27h-6.0075zM217.74 220.80h6.0075v6.27h-6.0075zM217.74 227.07h6.0075v6.27h-6.0075zM217.74 233.34h6.0075v6.27h-6.0075zM217.74 239.61h6.0075v6.27h-6.0075zM217.74 245.88h6.0075v6.27h-6.0075zM217.74 252.15h6.0075v6.27h-6.0075zM223.75 38.97h6.0075v6.27h-6.0075zM223.75 45.24h6.0075v6.27h-6.0075zM223.75 51.51h6.0075v6.27h-6.0075zM223.75 57.78h6.0075v6.27h-6.0075zM223.75 64.05h6.0075v6.27h-6.0075zM223.75 70.32h6.0075v6.27h-6.0075zM223.75 76.59h6.0075v6.27h-6.0075zM223.75 82.86h6.0075v6.27h-6.0075zM223.75 89.13h6.0075v6.27h-6.0075zM223.75 95.40h6.0075v6.27h-6.0075zM223.75 101.67h6.0075v6.27h-6.0075zM223.75 107.94h6.0075v6.27h-6.0075zM223.75 114.21h6.0075v6.27h-6.0075zM223.75 120.48h6.0075v6.27h-6.0075zM223.75 126.75h6.0075v6.27h-6.0075zM223.75 133.02h6.0075v6.27h-6.0075zM223.75 139.29h6.0075v6.27h-6.0075zM223.75 145.56h6.0075v6.27h-6.0075zM223.75 151.83h6.0075v6.27h-6.0075zM223.75 158.10h6.0075v6.27h-6.0075zM223.75 164.37h6.0075v6.27h-6.0075zM223.75 170.64h6.0075v6.27h-6.0075zM223.75 176.91h6.0075v6.27h-6.0075zM223.75 183.18h6.0075v6.27h-6.0075zM223.75 189.45h6.0075v6.27h-6.0075zM223.75 195.72h6.0075v6.27h-6.0075zM223.75 201.99h6.0075v6.27h-6.0075zM223.75 208.26h6.0075v6.27h-6.0075zM223.75 214.53h6.0075v6.27h-6.0075zM223.75 220.80h6.0075v6.27h-6.0075zM223.75 227.07h6.0075v6.27h-6.0075zM223.75 233.34h6.0075v6.27h-6.0075zM223.75 239.61h6.0075v6.27h-6.0075zM223.75 245.88h6.0075v6.27h-6.0075zM223.75 252.15h6.0075v6.27h-6.0075zM229.76 38.97h6.0075v6.27h-6.0075zM229.76 45.24h6.0075v6.27h-6.0075zM229.76 51.51h6.0075v6.27h-6.0075zM229.76 57.78h6.0075v6.27h-6.0075zM229.76 64.05h6.0075v6.27h-6.0075zM229.76 70.32h6.0075v6.27h-6.0075zM229.76 76.59h6.0075v6.27h-6.0075zM229.76 82.86h6.0075v6.27h-6.0075zM229.76 89.13h6.0075v6.27h-6.0075zM229.76 95.40h6.0075v6.27h-6.0075zM229.76 101.67h6.0075v6.27h-6.0075zM229.76 107.94h6.0075v6.27h-6.0075zM229.76 114.21h6.0075v6.27h-6.0075zM229.76 120.48h6.0075v6.27h-6.0075zM229.76 126.75h6.0075v6.27h-6.0075zM229.76 133.02h6.0075v6.27h-6.0075zM229.76 139.29h6.0075v6.27h-6.0075zM229.76 145.56h6.0075v6.27h-6.0075zM229.76 151.83h6.0075v6.27h-6.0075zM229.76 158.10h6.0075v6.27h-6.0075zM229.76 164.37h6.0075v6.27h-6.0075zM229.76 170.64h6.0075v6.27h-6.0075zM229.76 176.91h6.0075v6.27h-6.0075zM229.76 183.18h6.0075v6.27h-6.0075zM229.76 189.45h6.0075v6.27h-6.0075zM229.76 195.72h6.0075v6.27h-6.0075zM229.76 201.99h6.0075v6.27h-6.0075zM229.76 208.26h6.0075v6.27h-6.0075zM229.76 214.53h6.0075v6.27h-6.0075zM229.76 220.80h6.0075v6.27h-6.0075zM229.76 227.07h6.0075v6.27h-6.0075zM229.76 233.34h6.0075v6.27h-6.0075zM229.76 239.61h6.0075v6.27h-6.0075zM229.76 245.88h6.0075v6.27h-6.0075zM229.76 252.15h6.0075v6.27h-6.0075zM235.76 51.51h6.0075v6.27h-6.0075zM235.76 57.78h6.0075v6.27h-6.0075zM235.76 64.05h6.0075v6.27h-6.0075zM235.76 70.32h6.0075v6.27h-6.0075zM235.76 76.59h6.0075v6.27h-6.0075zM235.76 82.86h6.0075v6.27h-6.0075zM235.76 89.13h6.0075v6.27h-6.0075zM235.76 95.40h6.0075v6.27h-6.0075zM235.76 101.67h6.0075v6.27h-6.0075zM235.76 107.94h6.0075v6.27h-6.0075zM235.76 114.21h6.0075v6.27h-6.0075zM235.76 133.02h6.0075v6.27h-6.0075zM235.76 139.29h6.0075v6.27h-6.0075zM235.76 145.56h6.0075v6.27h-6.0075zM235.76 151.83h6.0075v6.27h-6.0075zM235.76 158.10h6.0075v6.27h-6.0075zM235.76 164.37h6.0075v6.27h-6.0075zM235.76 170.64h6.0075v6.27h-6.0075zM235.76 176.91h6.0075v6.27h-6.0075zM235.76 183.18h6.0075v6.27h-6.0075zM235.76 189.45h6.0075v6.27h-6.0075zM235.76 195.72h6.0075v6.27h-6.0075zM235.76 201.99h6.0075v6.27h-6.0075zM235.76 208.26h6.0075v6.27h-6.0075zM235.76 214.53h6.0075v6.27h-6.0075zM235.76 220.80h6.0075v6.27h-6.0075zM235.76 233.34h6.0075v6.27h-6.0075zM235.76 239.61h6.0075v6.27h-6.0075zM235.76 245.88h6.0075v6.27h-6.0075zM235.76 252.15h6.0075v6.27h-6.0075zM241.77 64.05h6.0075v6.27h-6.0075zM241.77 70.32h6.0075v6.27h-6.0075zM241.77 76.59h6.0075v6.27h-6.0075zM241.77 82.86h6.0075v6.27h-6.0075zM241.77 89.13h6.0075v6.27h-6.0075zM241.77 95.40h6.0075v6.27h-6.0075zM241.77 101.67h6.0075v6.27h-6.0075zM241.77 107.94h6.0075v6.27h-6.0075zM241.77 114.21h6.0075v6.27h-6.0075zM241.77 120.48h6.0075v6.27h-6.0075zM241.77 126.75h6.0075v6.27h-6.0075zM241.77 133.02h6.0075v6.27h-6.0075zM241.77 139.29h6.0075v6.27h-6.0075zM241.77 145.56h6.0075v6.27h-6.0075zM241.77 151.83h6.0075v6.27h-6.0075zM241.77 158.10h6.0075v6.27h-6.0075zM241.77 164.37h6.0075v6.27h-6.0075zM241.77 170.64h6.0075v6.27h-6.0075zM241.77 176.91h6.0075v6.27h-6.0075zM241.77 183.18h6.0075v6.27h-6.0075zM241.77 189.45h6.0075v6.27h-6.0075zM241.77 195.72h6.0075v6.27h-6.0075zM241.77 201.99h6.0075v6.27h-6.0075zM241.77 208.26h6.0075v6.27h-6.0075zM241.77 233.34h6.0075v6.27h-6.0075zM241.77 239.61h6.0075v6.27h-6.0075zM241.77 245.88h6.0075v6.27h-6.0075zM241.77 252.15h6.0075v6.27h-6.0075zM247.78 70.32h6.0075v6.27h-6.0075zM247.78 76.59h6.0075v6.27h-6.0075zM247.78 82.86h6.0075v6.27h-6.0075zM247.78 89.13h6.0075v6.27h-6.0075zM247.78 95.40h6.0075v6.27h-6.0075zM247.78 101.67h6.0075v6.27h-6.0075zM247.78 120.48h6.0075v6.27h-6.0075zM247.78 126.75h6.0075v6.27h-6.0075zM247.78 133.02h6.0075v6.27h-6.0075zM247.78 139.29h6.0075v6.27h-6.0075zM247.78 145.56h6.0075v6.27h-6.0075zM247.78 151.83h6.0075v6.27h-6.0075zM247.78 158.10h6.0075v6.27h-6.0075zM247.78 164.37h6.0075v6.27h-6.0075zM247.78 170.64h6.0075v6.27h-6.0075zM247.78 176.91h6.0075v6.27h-6.0075zM247.78 183.18h6.0075v6.27h-6.0075zM247.78 189.45h6.0075v6.27h-6.0075zM247.78 195.72h6.0075v6.27h-6.0075zM247.78 201.99h6.0075v6.27h-6.0075zM247.78 239.61h6.0075v6.27h-6.0075zM247.78 245.88h6.0075v6.27h-6.0075zM247.78 252.15h6.0075v6.27h-6.0075zM253.79 76.59h6.0075v6.27h-6.0075zM253.79 82.86h6.0075v6.27h-6.0075zM253.79 89.13h6.0075v6.27h-6.0075zM253.79 95.40h6.0075v6.27h-6.0075zM253.79 101.67h6.0075v6.27h-6.0075zM253.79 107.94h6.0075v6.27h-6.0075zM253.79 114.21h6.0075v6.27h-6.0075zM253.79 120.48h6.0075v6.27h-6.0075zM253.79 126.75h6.0075v6.27h-6.0075zM253.79 133.02h6.0075v6.27h-6.0075zM253.79 145.56h6.0075v6.27h-6.0075zM253.79 151.83h6.0075v6.27h-6.0075zM253.79 158.10h6.0075v6.27h-6.0075zM253.79 164.37h6.0075v6.27h-6.0075zM253.79 170.64h6.0075v6.27h-6.0075zM253.79 176.91h6.0075v6.27h-6.0075zM253.79 183.18h6.0075v6.27h-6.0075zM253.79 189.45h6.0075v6.27h-6.0075zM253.79 195.72h6.0075v6.27h-6.0075zM253.79 233.34h6.0075v6.27h-6.0075zM253.79 239.61h6.0075v6.27h-6.0075zM253.79 245.88h6.0075v6.27h-6.0075zM253.79 252.15h6.0075v6.27h-6.0075zM259.80 76.59h6.0075v6.27h-6.0075zM259.80 82.86h6.0075v6.27h-6.0075zM259.80 89.13h6.0075v6.27h-6.0075zM259.80 95.40h6.0075v6.27h-6.0075zM259.80 101.67h6.0075v6.27h-6.0075zM259.80 107.94h6.0075v6.27h-6.0075zM259.80 126.75h6.0075v6.27h-6.0075zM259.80 151.83h6.0075v6.27h-6.0075zM259.80 158.10h6.0075v6.27h-6.0075zM259.80 164.37h6.0075v6.27h-6.0075zM259.80 170.64h6.0075v6.27h-6.0075zM259.80 176.91h6.0075v6.27h-6.0075zM259.80 183.18h6.0075v6.27h-6.0075zM259.80 195.72h6.0075v6.27h-6.0075zM259.80 201.99h6.0075v6.27h-6.0075zM259.80 227.07h6.0075v6.27h-6.0075zM259.80 233.34h6.0075v6.27h-6.0075zM259.80 239.61h6.0075v6.27h-6.0075zM259.80 245.88h6.0075v6.27h-6.0075zM265.80 76.59h6.0075v6.27h-6.0075zM265.80 82.86h6.0075v6.27h-6.0075zM265.80 89.13h6.0075v6.27h-6.0075zM265.80 95.40h6.0075v6.27h-6.0075zM265.80 101.67h6.0075v6.27h-6.0075zM265.80 107.94h6.0075v6.27h-6.0075zM265.80 158.10h6.0075v6.27h-6.0075zM265.80 170.64h6.0075v6.27h-6.0075zM265.80 176.91h6.0075v6.27h-6.0075zM265.80 183.18h6.0075v6.27h-6.0075zM265.80 189.45h6.0075v6.27h-6.0075zM265.80 195.72h6.0075v6.27h-6.0075zM265.80 201.99h6.0075v6.27h-6.0075zM265.80 208.26h6.0075v6.27h-6.0075zM265.80 214.53h6.0075v6.27h-6.0075zM265.80 220.80h6.0075v6.27h-6.0075zM265.80 227.07h6.0075v6.27h-6.0075zM265.80 233.34h6.0075v6.27h-6.0075zM265.80 239.61h6.0075v6.27h-6.0075zM265.80 245.88h6.0075v6.27h-6.0075zM271.81 70.32h6.0075v6.27h-6.0075zM271.81 76.59h6.0075v6.27h-6.0075zM271.81 82.86h6.0075v6.27h-6.0075zM271.81 89.13h6.0075v6.27h-6.0075zM271.81 95.40h6.0075v6.27h-6.0075zM271.81 107.94h6.0075v6.27h-6.0075zM271.81 114.21h6.0075v6.27h-6.0075zM271.81 139.29h6.0075v6.27h-6.0075zM271.81 145.56h6.0075v6.27h-6.0075zM271.81 170.64h6.0075v6.27h-6.0075zM271.81 176.91h6.0075v6.27h-6.0075zM271.81 183.18h6.0075v6.27h-6.0075zM271.81 189.45h6.0075v6.27h-6.0075zM271.81 201.99h6.0075v6.27h-6.0075zM271.81 208.26h6.0075v6.27h-6.0075zM271.81 214.53h6.0075v6.27h-6.0075zM271.81 227.07h6.0075v6.27h-6.0075zM271.81 239.61h6.0075v6.27h-6.0075zM277.82 82.86h6.0075v6.27h-6.0075zM277.82 114.21h6.0075v6.27h-6.0075zM277.82 145.56h6.0075v6.27h-6.0075zM277.82 176.91h6.0075v6.27h-6.0075zM277.82 183.18h6.0075v6.27h-6.0075zM277.82 189.45h6.0075v6.27h-6.0075zM277.82 195.72h6.0075v6.27h-6.0075zM277.82 201.99h6.0075v6.27h-6.0075zM277.82 208.26h6.0075v6.27h-6.0075zM277.82 227.07h6.0075v6.27h-6.0075zM277.82 233.34h6.0075v6.27h-6.0075zM277.82 239.61h6.0075v6.27h-6.0075zM283.82 176.91h6.0075v6.27h-6.0075zM283.82 183.18h6.0075v6.27h-6.0075zM283.82 189.45h6.0075v6.27h-6.0075zM283.82 195.72h6.0075v6.27h-6.0075zM283.82 201.99h6.0075v6.27h-6.0075zM283.82 208.26h6.0075v6.27h-6.0075zM283.82 214.53h6.0075v6.27h-6.0075zM283.82 220.80h6.0075v6.27h-6.0075zM283.82 227.07h6.0075v6.27h-6.0075zM283.82 233.34h6.0075v6.27h-6.0075zM283.82 239.61h6.0075v6.27h-6.0075zM289.83 183.18h6.0075v6.27h-6.0075zM289.83 189.45h6.0075v6.27h-6.0075zM289.83 195.72h6.0075v6.27h-6.0075zM289.83 201.99h6.0075v6.27h-6.0075zM289.83 208.26h6.0075v6.27h-6.0075zM289.83 214.53h6.0075v6.27h-6.0075zM295.84 120.48h6.0075v6.27h-6.0075zM295.84 133.02h6.0075v6.27h-6.0075zM295.84 139.29h6.0075v6.27h-6.0075zM295.84 145.56h6.0075v6.27h-6.0075zM295.84 183.18h6.0075v6.27h-6.0075zM295.84 189.45h6.0075v6.27h-6.0075zM295.84 195.72h6.0075v6.27h-6.0075zM295.84 201.99h6.0075v6.27h-6.0075zM295.84 214.53h6.0075v6.27h-6.0075zM295.84 220.80h6.0075v6.27h-6.0075zM301.85 114.21h6.0075v6.27h-6.0075zM301.85 120.48h6.0075v6.27h-6.0075zM301.85 126.75h6.0075v6.27h-6.0075zM301.85 133.02h6.0075v6.27h-6.0075zM301.85 139.29h6.0075v6.27h-6.0075zM301.85 145.56h6.0075v6.27h-6.0075zM301.85 164.37h6.0075v6.27h-6.0075zM301.85 170.64h6.0075v6.27h-6.0075zM301.85 176.91h6.0075v6.27h-6.0075zM301.85 183.18h6.0075v6.27h-6.0075zM301.85 189.45h6.0075v6.27h-6.0075zM301.85 195.72h6.0075v6.27h-6.0075zM301.85 201.99h6.0075v6.27h-6.0075zM301.85 220.80h6.0075v6.27h-6.0075zM301.85 227.07h6.0075v6.27h-6.0075zM307.86 107.94h6.0075v6.27h-6.0075zM307.86 114.21h6.0075v6.27h-6.0075zM307.86 120.48h6.0075v6.27h-6.0075zM307.86 126.75h6.0075v6.27h-6.0075zM307.86 133.02h6.0075v6.27h-6.0075zM307.86 139.29h6.0075v6.27h-6.0075zM307.86 145.56h6.0075v6.27h-6.0075zM307.86 170.64h6.0075v6.27h-6.0075zM307.86 183.18h6.0075v6.27h-6.0075zM307.86 189.45h6.0075v6.27h-6.0075zM307.86 195.72h6.0075v6.27h-6.0075zM307.86 201.99h6.0075v6.27h-6.0075zM307.86 208.26h6.0075v6.27h-6.0075zM307.86 220.80h6.0075v6.27h-6.0075zM313.86 107.94h6.0075v6.27h-6.0075zM313.86 114.21h6.0075v6.27h-6.0075zM313.86 120.48h6.0075v6.27h-6.0075zM313.86 126.75h6.0075v6.27h-6.0075zM313.86 133.02h6.0075v6.27h-6.0075zM313.86 139.29h6.0075v6.27h-6.0075zM313.86 170.64h6.0075v6.27h-6.0075zM313.86 183.18h6.0075v6.27h-6.0075zM313.86 189.45h6.0075v6.27h-6.0075zM313.86 195.72h6.0075v6.27h-6.0075zM313.86 201.99h6.0075v6.27h-6.0075zM319.87 114.21h6.0075v6.27h-6.0075zM319.87 120.48h6.0075v6.27h-6.0075zM319.87 126.75h6.0075v6.27h-6.0075zM319.87 133.02h6.0075v6.27h-6.0075zM319.87 139.29h6.0075v6.27h-6.0075zM319.87 145.56h6.0075v6.27h-6.0075zM319.87 151.83h6.0075v6.27h-6.0075zM319.87 164.37h6.0075v6.27h-6.0075zM319.87 170.64h6.0075v6.27h-6.0075zM319.87 183.18h6.0075v6.27h-6.0075zM319.87 195.72h6.0075v6.27h-6.0075zM319.87 201.99h6.0075v6.27h-6.0075zM319.87 220.80h6.0075v6.27h-6.0075zM325.88 133.02h6.0075v6.27h-6.0075zM325.88 139.29h6.0075v6.27h-6.0075zM325.88 145.56h6.0075v6.27h-6.0075zM325.88 183.18h6.0075v6.27h-6.0075zM325.88 189.45h6.0075v6.27h-6.0075zM331.88 133.02h6.0075v6.27h-6.0075zM331.88 139.29h6.0075v6.27h-6.0075zM331.88 145.56h6.0075v6.27h-6.0075zM331.88 151.83h6.0075v6.27h-6.0075zM331.88 183.18h6.0075v6.27h-6.0075zM331.88 208.26h6.0075v6.27h-6.0075zM337.89 133.02h6.0075v6.27h-6.0075zM337.89 139.29h6.0075v6.27h-6.0075zM337.89 145.56h6.0075v6.27h-6.0075zM337.89 151.83h6.0075v6.27h-6.0075zM343.90 145.56h6.0075v6.27h-6.0075zM343.90 151.83h6.0075v6.27h-6.0075zM343.90 170.64h6.0075v6.27h-6.0075zM349.91 145.56h6.0075v6.27h-6.0075zM349.91 151.83h6.0075v6.27h-6.0075zM349.91 158.10h6.0075v6.27h-6.0075zM349.91 164.37h6.0075v6.27h-6.0075zM355.92 145.56h6.0075v6.27h-6.0075zM355.92 151.83h6.0075v6.27h-6.0075zM355.92 158.10h6.0075v6.27h-6.0075zM355.92 170.64h6.0075v6.27h-6.0075zM361.92 145.56h6.0075v6.27h-6.0075zM361.92 151.83h6.0075v6.27h-6.0075zM361.92 158.10h6.0075v6.27h-6.0075zM361.92 164.37h6.0075v6.27h-6.0075zM361.92 170.64h6.0075v6.27h-6.0075zM361.92 214.53h6.0075v6.27h-6.0075zM367.93 151.83h6.0075v6.27h-6.0075zM367.93 158.10h6.0075v6.27h-6.0075zM367.93 164.37h6.0075v6.27h-6.0075zM367.93 170.64h6.0075v6.27h-6.0075zM367.93 214.53h6.0075v6.27h-6.0075zM373.94 145.56h6.0075v6.27h-6.0075zM373.94 151.83h6.0075v6.27h-6.0075zM373.94 158.10h6.0075v6.27h-6.0075zM373.94 164.37h6.0075v6.27h-6.0075zM373.94 170.64h6.0075v6.27h-6.0075zM373.94 176.91h6.0075v6.27h-6.0075zM373.94 214.53h6.0075v6.27h-6.0075zM379.94 145.56h6.0075v6.27h-6.0075zM379.94 151.83h6.0075v6.27h-6.0075zM379.94 158.10h6.0075v6.27h-6.0075zM379.94 164.37h6.0075v6.27h-6.0075zM379.94 170.64h6.0075v6.27h-6.0075zM379.94 176.91h6.0075v6.27h-6.0075zM379.94 183.18h6.0075v6.27h-6.0075zM385.95 145.56h6.0075v6.27h-6.0075zM385.95 151.83h6.0075v6.27h-6.0075zM385.95 158.10h6.0075v6.27h-6.0075zM385.95 164.37h6.0075v6.27h-6.0075zM385.95 170.64h6.0075v6.27h-6.0075zM385.95 176.91h6.0075v6.27h-6.0075zM385.95 183.18h6.0075v6.27h-6.0075zM391.96 145.56h6.0075v6.27h-6.0075zM391.96 151.83h6.0075v6.27h-6.0075zM391.96 158.10h6.0075v6.27h-6.0075zM391.96 164.37h6.0075v6.27h-6.0075zM391.96 170.64h6.0075v6.27h-6.0075zM391.96 176.91h6.0075v6.27h-6.0075zM391.96 183.18h6.0075v6.27h-6.0075zM391.96 189.45h6.0075v6.27h-6.0075zM397.97 151.83h6.0075v6.27h-6.0075zM397.97 158.10h6.0075v6.27h-6.0075zM397.97 164.37h6.0075v6.27h-6.0075zM403.98 151.83h6.0075v6.27h-6.0075zM409.98 151.83h6.0075v6.27h-6.0075z" fill="#ffffff" stroke="#6e6e6e" stroke-width="0.7"/>
<path d="M109.61 201.99h6.0075v6.27h-6.0075zM115.61 189.45h6.0075v6.27h-6.0075zM121.62 145.56h6.0075v6.27h-6.0075zM139.64 164.37h6.0075v6.27h-6.0075zM145.65 220.80h6.0075v6.27h-6.0075zM145.65 227.07h6.0075v6.27h-6.0075zM163.68 201.99h6.0075v6.27h-6.0075zM169.68 208.26h6.0075v6.27h-6.0075zM181.70 233.34h6.0075v6.27h-6.0075zM193.71 239.61h6.0075v6.27h-6.0075zM199.72 233.34h6.0075v6.27h-6.0075zM205.73 82.86h6.0075v6.27h-6.0075zM205.73 214.53h6.0075v6.27h-6.0075zM211.74 89.13h6.0075v6.27h-6.0075zM211.74 95.40h6.0075v6.27h-6.0075zM235.76 227.07h6.0075v6.27h-6.0075zM247.78 107.94h6.0075v6.27h-6.0075zM247.78 208.26h6.0075v6.27h-6.0075zM247.78 233.34h6.0075v6.27h-6.0075zM253.79 139.29h6.0075v6.27h-6.0075zM253.79 201.99h6.0075v6.27h-6.0075zM259.80 114.21h6.0075v6.27h-6.0075zM259.80 120.48h6.0075v6.27h-6.0075zM259.80 189.45h6.0075v6.27h-6.0075zM265.80 126.75h6.0075v6.27h-6.0075zM265.80 164.37h6.0075v6.27h-6.0075zM271.81 133.02h6.0075v6.27h-6.0075zM271.81 158.10h6.0075v6.27h-6.0075zM271.81 195.72h6.0075v6.27h-6.0075zM277.82 133.02h6.0075v6.27h-6.0075zM277.82 139.29h6.0075v6.27h-6.0075zM277.82 164.37h6.0075v6.27h-6.0075zM283.82 120.48h6.0075v6.27h-6.0075zM289.83 151.83h6.0075v6.27h-6.0075zM289.83 164.37h6.0075v6.27h-6.0075zM289.83 220.80h6.0075v6.27h-6.0075zM295.84 126.75h6.0075v6.27h-6.0075zM295.84 164.37h6.0075v6.27h-6.0075zM295.84 176.91h6.0075v6.27h-6.0075zM295.84 208.26h6.0075v6.27h-6.0075zM295.84 227.07h6.0075v6.27h-6.0075zM301.85 233.34h6.0075v6.27h-6.0075zM307.86 227.07h6.0075v6.27h-6.0075zM313.86 145.56h6.0075v6.27h-6.0075zM313.86 164.37h6.0075v6.27h-6.0075zM319.87 189.45h6.0075v6.27h-6.0075zM325.88 195.72h6.0075v6.27h-6.0075zM325.88 208.26h6.0075v6.27h-6.0075zM325.88 214.53h6.0075v6.27h-6.0075zM331.88 189.45h6.0075v6.27h-6.0075zM355.92 164.37h6.0075v6.27h-6.0075zM373.94 189.45h6.0075v6.27h-6.0075zM403.98 176.91h6.0075v6.27h-6.0075z" fill="#e0e0e0" stroke="#6e6e6e" stroke-width="0.7"/>
<path d="M85.58 208.26h6.0075v6.27h-6.0075zM91.58 101.67h6.0075v6.27h-6.0075zM97.59 208.26h6.0075v6.27h-6.0075zM103.60 195.72h6.0075v6.27h-6.0075zM121.62 151.83h6.0075v6.27h-6.0075zM121.62 189.45h6.0075v6.27h-6.0075zM127.63 183.18h6.0075v6.27h-6.0075zM133.64 220.80h6.0075v6.27h-6.0075zM145.65 195.72h6.0075v6.27h-6.0075zM163.68 151.83h6.0075v6.27h-6.0075zM169.68 145.56h6.0075v6.27h-6.0075zM169.68 151.83h6.0075v6.27h-6.0075zM187.70 239.61h6.0075v6.27h-6.0075zM193.71 245.88h6.0075v6.27h-6.0075zM211.74 82.86h6.0075v6.27h-6.0075zM211.74 214.53h6.0075v6.27h-6.0075zM235.76 126.75h6.0075v6.27h-6.0075zM241.77 214.53h6.0075v6.27h-6.0075zM241.77 227.07h6.0075v6.27h-6.0075zM259.80 220.80h6.0075v6.27h-6.0075zM265.80 120.48h6.0075v6.27h-6.0075zM265.80 133.02h6.0075v6.27h-6.0075zM265.80 145.56h6.0075v6.27h-6.0075zM265.80 151.83h6.0075v6.27h-6.0075zM271.81 126.75h6.0075v6.27h-6.0075zM271.81 151.83h6.0075v6.27h-6.0075zM271.81 233.34h6.0075v6.27h-6.0075zM277.82 120.48h6.0075v6.27h-6.0075zM283.82 139.29h6.0075v6.27h-6.0075zM289.83 120.48h6.0075v6.27h-6.0075zM289.83 126.75h6.0075v6.27h-6.0075zM289.83 133.02h6.0075v6.27h-6.0075zM289.83 176.91h6.0075v6.27h-6.0075zM295.84 233.34h6.0075v6.27h-6.0075zM301.85 151.83h6.0075v6.27h-6.0075zM307.86 151.83h6.0075v6.27h-6.0075zM307.86 164.37h6.0075v6.27h-6.0075zM307.86 214.53h6.0075v6.27h-6.0075zM313.86 208.26h6.0075v6.27h-6.0075zM313.86 220.80h6.0075v6.27h-6.0075zM319.87 158.10h6.0075v6.27h-6.0075zM319.87 208.26h6.0075v6.27h-6.0075zM325.88 201.99h6.0075v6.27h-6.0075zM331.88 195.72h6.0075v6.27h-6.0075zM331.88 201.99h6.0075v6.27h-6.0075zM337.89 158.10h6.0075v6.27h-6.0075zM349.91 170.64h6.0075v6.27h-6.0075zM391.96 214.53h6.0075v6.27h-6.0075z" fill="#b4b4b4" stroke="#6e6e6e" stroke-width="0.7"/>
<path d="M85.58 101.67h6.0075v6.27h-6.0075zM91.58 95.40h6.0075v6.27h-6.0075zM91.58 208.26h6.0075v6.27h-6.0075zM97.59 201.99h6.0075v6.27h-6.0075zM115.61 208.26h6.0075v6.27h-6.0075zM127.63 145.56h6.0075v6.27h-6.0075zM127.63 220.80h6.0075v6.27h-6.0075zM133.64 164.37h6.0075v6.27h-6.0075zM133.64 189.45h6.0075v6.27h-6.0075zM139.64 189.45h6.0075v6.27h-6.0075zM157.67 183.18h6.0075v6.27h-6.0075zM163.68 145.56h6.0075v6.27h-6.0075zM163.68 183.18h6.0075v6.27h-6.0075zM169.68 195.72h6.0075v6.27h-6.0075zM169.68 201.99h6.0075v6.27h-6.0075zM169.68 214.53h6.0075v6.27h-6.0075zM175.69 201.99h6.0075v6.27h-6.0075zM175.69 208.26h6.0075v6.27h-6.0075zM181.70 208.26h6.0075v6.27h-6.0075zM235.76 120.48h6.0075v6.27h-6.0075zM241.77 220.80h6.0075v6.27h-6.0075zM247.78 114.21h6.0075v6.27h-6.0075zM247.78 214.53h6.0075v6.27h-6.0075zM247.78 220.80h6.0075v6.27h-6.0075zM247.78 227.07h6.0075v6.27h-6.0075zM253.79 208.26h6.0075v6.27h-6.0075zM253.79 214.53h6.0075v6.27h-6.0075zM253.79 220.80h6.0075v6.27h-6.0075zM253.79 227.07h6.0075v6.27h-6.0075zM259.80 133.02h6.0075v6.27h-6.0075zM259.80 139.29h6.0075v6.27h-6.0075zM259.80 145.56h6.0075v6.27h-6.0075zM259.80 208.26h6.0075v6.27h-6.0075zM259.80 214.53h6.0075v6.27h-6.0075zM265.80 114.21h6.0075v6.27h-6.0075zM265.80 139.29h6.0075v6.27h-6.0075zM271.81 120.48h6.0075v6.27h-6.0075zM271.81 164.37h6.0075v6.27h-6.0075zM271.81 220.80h6.0075v6.27h-6.0075zM277.82 126.75h6.0075v6.27h-6.0075zM277.82 151.83h6.0075v6.27h-6.0075zM277.82 158.10h6.0075v6.27h-6.0075zM277.82 170.64h6.0075v6.27h-6.0075zM277.82 214.53h6.0075v6.27h-6.0075zM277.82 220.80h6.0075v6.27h-6.0075zM283.82 126.75h6.0075v6.27h-6.0075zM283.82 133.02h6.0075v6.27h-6.0075zM283.82 145.56h6.0075v6.27h-6.0075zM283.82 151.83h6.0075v6.27h-6.0075zM283.82 158.10h6.0075v6.27h-6.0075zM283.82 164.37h6.0075v6.27h-6.0075zM283.82 170.64h6.0075v6.27h-6.0075zM289.83 139.29h6.0075v6.27h-6.0075zM289.83 145.56h6.0075v6.27h-6.0075zM289.83 158.10h6.0075v6.27h-6.0075zM289.83 170.64h6.0075v6.27h-6.0075zM289.83 227.07h6.0075v6.27h-6.0075zM289.83 233.34h6.0075v6.27h-6.0075zM295.84 151.83h6.0075v6.27h-6.0075zM295.84 158.10h6.0075v6.27h-6.0075zM295.84 170.64h6.0075v6.27h-6.0075zM301.85 158.10h6.0075v6.27h-6.0075zM301.85 208.26h6.0075v6.27h-6.0075zM301.85 214.53h6.0075v6.27h-6.0075zM307.86 158.10h6.0075v6.27h-6.0075zM307.86 176.91h6.0075v6.27h-6.0075zM313.86 151.83h6.0075v6.27h-6.0075zM313.86 158.10h6.0075v6.27h-6.0075zM313.86 176.91h6.0075v6.27h-6.0075zM313.86 214.53h6.0075v6.27h-6.0075zM319.87 176.91h6.0075v6.27h-6.0075zM319.87 214.53h6.0075v6.27h-6.0075zM325.88 151.83h6.0075v6.27h-6.0075zM325.88 158.10h6.0075v6.27h-6.0075zM325.88 164.37h6.0075v6.27h-6.0075zM325.88 170.64h6.0075v6.27h-6.0075zM325.88 176.91h6.0075v6.27h-6.0075zM331.88 158.10h6.0075v6.27h-6.0075zM331.88 164.37h6.0075v6.27h-6.0075zM331.88 170.64h6.0075v6.27h-6.0075zM331.88 176.91h6.0075v6.27h-6.0075zM337.89 164.37h6.0075v6.27h-6.0075zM337.89 170.64h6.0075v6.27h-6.0075zM337.89 176.91h6.0075v6.27h-6.0075zM337.89 183.18h6.0075v6.27h-6.0075zM337.89 189.45h6.0075v6.27h-6.0075zM337.89 195.72h6.0075v6.27h-6.0075zM337.89 201.99h6.0075v6.27h-6.0075zM343.90 158.10h6.0075v6.27h-6.0075zM343.90 164.37h6.0075v6.27h-6.0075zM343.90 176.91h6.0075v6.27h-6.0075zM343.90 183.18h6.0075v6.27h-6.0075zM343.90 189.45h6.0075v6.27h-6.0075zM343.90 195.72h6.0075v6.27h-6.0075zM343.90 201.99h6.0075v6.27h-6.0075zM349.91 176.91h6.0075v6.27h-6.0075zM349.91 183.18h6.0075v6.27h-6.0075zM349.91 189.45h6.0075v6.27h-6.0075zM349.91 195.72h6.0075v6.27h-6.0075zM349.91 201.99h6.0075v6.27h-6.0075zM355.92 176.91h6.0075v6.27h-6.0075zM355.92 183.18h6.0075v6.27h-6.0075zM355.92 189.45h6.0075v6.27h-6.0075zM355.92 195.72h6.0075v6.27h-6.0075zM355.92 201.99h6.0075v6.27h-6.0075zM361.92 176.91h6.0075v6.27h-6.0075zM361.92 183.18h6.0075v6.27h-6.0075zM361.92 189.45h6.0075v6.27h-6.0075zM361.92 195.72h6.0075v6.27h-6.0075zM361.92 201.99h6.0075v6.27h-6.0075zM367.93 176.91h6.0075v6.27h-6.0075zM367.93 183.18h6.0075v6.27h-6.0075zM367.93 189.45h6.0075v6.27h-6.0075zM367.93 195.72h6.0075v6.27h-6.0075zM367.93 201.99h6.0075v6.27h-6.0075zM367.93 208.26h6.0075v6.27h-6.0075zM373.94 183.18h6.0075v6.27h-6.0075zM373.94 195.72h6.0075v6.27h-6.0075zM373.94 201.99h6.0075v6.27h-6.0075zM373.94 208.26h6.0075v6.27h-6.0075zM379.94 189.45h6.0075v6.27h-6.0075zM379.94 195.72h6.0075v6.27h-6.0075zM379.94 201.99h6.0075v6.27h-6.0075zM379.94 208.26h6.0075v6.27h-6.0075zM385.95 189.45h6.0075v6.27h-6.0075zM385.95 195.72h6.0075v6.27h-6.0075zM385.95 201.99h6.0075v6.27h-6.0075zM385.95 208.26h6.0075v6.27h-6.0075zM391.96 195.72h6.0075v6.27h-6.0075zM391.96 201.99h6.0075v6.27h-6.0075zM391.96 208.26h6.0075v6.27h-6.0075zM397.97 170.64h6.0075v6.27h-6.0075zM397.97 176.91h6.0075v6.27h-6.0075zM397.97 195.72h6.0075v6.27h-6.0075zM397.97 201.99h6.0075v6.27h-6.0075zM397.97 208.26h6.0075v6.27h-6.0075zM397.97 214.53h6.0075v6.27h-6.0075zM403.98 164.37h6.0075v6.27h-6.0075zM403.98 170.64h6.0075v6.27h-6.0075zM403.98 208.26h6.0075v6.27h-6.0075zM403.98 214.53h6.0075v6.27h-6.0075zM409.98 164.37h6.0075v6.27h-6.0075z" fill="#404040" stroke="#6e6e6e" stroke-width="0.7"/>
<path d="M86.4 103.5L86.9 101.8L89.4 100.9L91.4 96.8L92.7 94.8L96.9 93.1L98.5 90.4L101.0 89.8L102.4 90.4L103.2 93.8L106.9 93.1L109.4 90.1L111.9 87.6L115.2 86.4L119.7 86.3L125.2 86.8L126.9 88.4L128.1 91.4L131.1 92.1L133.6 92.1L135.8 89.3L138.1 86.8L140.3 84.3L143.3 83.8L140.3 80.9L138.1 81.8L136.1 85.9L134.4 85.9L134.1 82.6L134.8 79.2L132.8 77.6L131.9 74.7L133.1 70.1L134.1 65.1L138.6 63.9L141.9 64.2L146.9 63.1L148.1 65.1L148.1 69.2L150.3 71.7L152.0 75.1L153.6 79.2L155.8 82.1L158.6 83.1L161.1 81.8L163.6 78.7L167.0 76.7L169.5 73.7L173.7 73.1L176.2 71.7L180.8 70.1L182.8 71.7L185.3 73.7L188.7 73.7L192.0 71.7L194.5 68.7L196.2 67.6L199.5 67.1L202.9 65.9L200.0 67.6L202.5 66.7L205.8 65.1L207.5 61.7L210.0 58.4L212.5 56.4L215.9 55.0L216.7 51.7L215.9 48.4L216.7 45.0L215.4 42.5L216.7 39.2L217.5 36.3L220.9 37.5L225.0 39.2L229.2 40.4L232.6 41.7L234.2 44.2L235.9 47.5L237.6 50.9L240.1 53.4L241.7 56.7L243.7 59.7L245.4 63.4L247.6 67.1L250.1 70.1L252.6 72.6L254.3 74.7L256.8 73.1L259.3 74.2L262.6 74.7L266.8 74.2L270.9 73.7L273.5 71.7L276.0 73.1L277.1 76.7L278.1 80.9L280.1 83.8L281.5 87.6L281.0 91.8L278.5 95.1L276.5 98.4L274.8 101.8L274.3 105.1L276.0 107.6L278.5 111.0L281.8 114.3L284.3 116.8L287.6 119.3L290.0 120.4L293.3 119.7L296.7 119.2L300.0 117.1L304.2 115.0L307.5 112.5L310.0 110.9L308.7 108.7L310.0 110.9L311.7 108.4L315.0 107.5L318.4 110.0L319.2 114.2L320.9 115.9L323.4 116.7L325.9 117.6L328.7 118.4L329.2 120.9L327.1 123.4L327.6 127.6L328.7 130.1L331.7 130.9L334.2 132.6L337.6 134.2L340.9 135.1L343.4 136.4L345.9 137.6L345.1 140.9L345.4 144.3L347.6 146.4L350.9 146.8L355.9 145.4L360.1 146.4L363.5 147.1L367.6 146.8L369.8 148.1L371.5 149.8L373.5 147.6L376.8 147.6L383.5 148.1L390.2 148.4L398.5 148.9L406.9 149.4L413.5 149.8L420.5 150.4L419.7 158.8L412.7 158.6L412.2 161.0L405.2 160.6L405.0 166.6L407.9 166.3L411.4 165.5L415.7 165.8L415.9 170.1L413.9 172.0L410.0 173.8L408.2 176.3L410.0 179.0L409.5 181.7L405.2 183.3L400.8 182.5L396.0 182.2L395.0 184.7L394.4 185.0L396.0 187.1L395.5 190.3L396.5 193.4L398.6 196.1L402.3 198.2L404.4 201.8L406.0 206.1L407.1 210.3L407.6 214.5L407.1 218.7L404.9 221.3L402.8 222.4L401.8 220.8L399.7 220.8L397.6 221.3L394.4 220.3L391.3 219.7L388.1 218.7L386.0 216.6L384.4 214.5L382.8 213.6L380.7 215.0L379.7 217.1L379.5 219.7L380.7 221.8L383.4 223.1L386.0 223.7L389.2 224.6L392.3 225.6L395.5 225.2L398.6 226.6L401.8 228.2L404.9 229.7L406.5 231.8L408.1 233.9L410.7 235.7L408.1 234.5L403.9 231.6L399.7 229.0L395.5 226.9L391.3 224.9L387.1 223.4L382.8 222.3L378.6 221.4L374.4 220.8L370.2 220.3L366.0 219.9L361.8 219.7L358.6 219.5L355.5 219.3L351.3 218.9L347.1 218.7L342.8 218.9L338.6 219.5L334.4 220.3L330.2 221.3L327.1 222.1L326.0 223.4L321.7 225.1L317.5 228.4L313.4 230.9L311.7 233.4L307.5 235.9L303.4 237.6L298.3 239.3L293.3 241.0L290.0 242.6L302.1 238.1L298.6 239.3L294.4 240.4L290.2 241.8L286.1 243.4L282.7 245.1L278.5 246.5L274.4 248.1L270.2 249.8L266.0 251.8L261.8 253.8L258.5 255.6L255.2 257.1L251.8 258.5L248.5 259.3L243.5 259.5L238.5 259.3L234.3 260.1L231.8 261.5L228.5 261.8L225.1 261.3L221.8 259.8L216.8 258.0L212.6 256.5L208.4 255.5L204.3 254.3L200.9 252.6L197.6 251.0L194.2 249.6L190.9 247.6L187.6 245.1L184.2 243.1L180.9 241.8L177.5 240.9L174.2 240.4L170.0 239.8L165.9 240.1L161.7 239.8L157.5 238.9L156.3 238.6L153.8 236.7L152.3 234.7L150.6 236.2L146.5 236.7L141.8 237.2L138.0 237.5L135.1 235.7L130.1 232.7L125.1 229.3L120.1 226.0L115.1 222.6L110.9 220.1L106.7 218.0L101.7 216.0L95.9 214.8L90.0 213.8L84.2 213.1L82.5 211.0L84.2 208.5L90.0 207.6L93.4 205.9L95.9 203.4L96.7 199.3L95.1 197.6L94.2 193.4L96.7 192.6L101.7 192.6L105.9 190.9L106.4 186.8L106.7 182.6L110.9 180.9L114.3 178.4L115.9 175.1L116.8 170.9L115.4 166.7L115.1 163.0L118.4 160.0L121.4 157.5L117.6 154.7L111.8 152.5L106.4 151.4L105.4 148.4L105.9 144.2L103.4 142.0L99.7 140.8L100.1 137.5L98.4 135.0L99.4 130.2L97.7 126.0L96.9 121.0L95.2 116.8L92.7 113.5L91.0 110.1L87.7 108.5L86.0 106.0ZM334.9 213.4L336.5 211.3L339.2 209.7L341.3 207.1L343.4 205.0L346.5 203.9L349.7 203.7L351.3 205.5L351.8 207.6L353.4 209.7L354.6 211.3L353.6 213.4L351.3 214.7L348.6 215.5L346.0 216.6L341.8 216.8L337.6 216.4L335.5 215.0ZM357.6 219.2L359.2 217.1L357.6 215.0L357.4 212.9L358.6 210.8L360.7 209.2L363.4 208.7L366.0 209.0L368.1 210.8L368.6 212.6L367.6 214.5L364.9 216.1L362.3 217.1L359.7 218.5ZM334.9 213.9L332.3 216.6L331.3 218.2L334.4 217.6L337.6 217.6L347.1 218.5L355.5 219.2" fill="none" stroke="#000" stroke-width="1.4" stroke-linejoin="round"/>
<path d="M140.0 236.9L144.7 236.2L150.5 235.7L152.1 234.3L154.2 236.1L155.5 237.6L150.0 237.9L144.7 237.9Z" fill="#000"/>
<rect x="309.5" y="26" width="67.5" height="87.4" fill="#fff"/>
<text y="47.3" font-size="10.6"><tspan x="316.3">P</tspan><tspan x="327.6" font-size="11">&#950;</tspan><tspan x="336.3">&gt;</tspan><tspan x="345.6">4</tspan><tspan x="354.40">y</tspan></text>
<path d="M326.6 37.6Q321.6 44.2 326.6 50.8" fill="none" stroke="#111" stroke-width="0.95"/>
<path d="M361.20 37.6Q366.20 44.2 361.20 50.8" fill="none" stroke="#111" stroke-width="0.95"/>
<path d="M352.90 36.4V51.2" stroke="#555" stroke-width="0.9"/>
<rect x="316.2" y="59.00" width="11.6" height="11.95" fill="#ffffff" stroke="#6e6e6e" stroke-width="0.7"/>
<text x="334.2" y="68.80" font-size="8.8" fill="#1a1a1a">[0,0.25]</text>
<rect x="316.2" y="70.95" width="11.6" height="11.95" fill="#e0e0e0" stroke="#6e6e6e" stroke-width="0.7"/>
<text x="334.2" y="80.75" font-size="8.8" fill="#1a1a1a">(0.25,0.5]</text>
<rect x="316.2" y="82.90" width="11.6" height="11.95" fill="#b4b4b4" stroke="#6e6e6e" stroke-width="0.7"/>
<text x="334.2" y="92.70" font-size="8.8" fill="#1a1a1a">(0.5,0.75]</text>
<rect x="316.2" y="94.85" width="11.6" height="11.95" fill="#404040" stroke="#6e6e6e" stroke-width="0.7"/>
<text x="334.2" y="104.65" font-size="8.8" fill="#1a1a1a">(0.75,1]</text>
<path d="M416.7 29.2L401.8 55.6L416.7 43.6Z" fill="#fff" stroke="#000" stroke-width="0.8" stroke-linejoin="miter"/>
<path d="M416.7 29.2L431.6 55.6L416.7 43.6Z" fill="#000" stroke="#000" stroke-width="0.8"/>
<text x="416.7" y="58.6" font-size="7.8" text-anchor="middle">N</text>
<rect x="70.10" y="262.6" width="13.6" height="5.2" fill="#000" stroke="#000" stroke-width="0.5"/>
<rect x="83.70" y="262.6" width="13.6" height="5.2" fill="#fff" stroke="#000" stroke-width="0.5"/>
<rect x="97.30" y="262.6" width="13.6" height="5.2" fill="#000" stroke="#000" stroke-width="0.5"/>
<rect x="110.90" y="262.6" width="13.6" height="5.2" fill="#fff" stroke="#000" stroke-width="0.5"/>
<rect x="124.50" y="262.6" width="13.6" height="5.2" fill="#000" stroke="#000" stroke-width="0.5"/>
<text x="141.8" y="267.5" font-size="5.9">100 km</text>
<rect x="65.25" y="24.4" width="372.0" height="247.99999999999997" fill="none" stroke="#666" stroke-width="1"/>
<text x="121.90" y="284.4" font-size="8.8" fill="#4d4d4d" text-anchor="middle">98&#176;W</text>
<text x="193.99" y="284.4" font-size="8.8" fill="#4d4d4d" text-anchor="middle">97&#176;W</text>
<text x="266.08" y="284.4" font-size="8.8" fill="#4d4d4d" text-anchor="middle">96&#176;W</text>
<text x="338.17" y="284.4" font-size="8.8" fill="#4d4d4d" text-anchor="middle">95&#176;W</text>
<text x="410.26" y="284.4" font-size="8.8" fill="#4d4d4d" text-anchor="middle">94&#176;W</text>
<text x="60" y="238.55" font-size="8.8" fill="#4d4d4d" text-anchor="end">16.0&#176;N</text>
<text x="60" y="200.92" font-size="8.8" fill="#4d4d4d" text-anchor="end">16.5&#176;N</text>
<text x="60" y="163.29" font-size="8.8" fill="#4d4d4d" text-anchor="end">17.0&#176;N</text>
<text x="60" y="125.66" font-size="8.8" fill="#4d4d4d" text-anchor="end">17.5&#176;N</text>
<text x="60" y="88.03" font-size="8.8" fill="#4d4d4d" text-anchor="end">18.0&#176;N</text>
<text x="60" y="50.40" font-size="8.8" fill="#4d4d4d" text-anchor="end">18.5&#176;N</text>
<path d="M121.90 272.4v2.8M193.99 272.4v2.8M266.08 272.4v2.8M338.17 272.4v2.8M410.26 272.4v2.8M65.25 235.25h-2.8M65.25 197.62h-2.8M65.25 159.99h-2.8M65.25 122.36h-2.8M65.25 84.73h-2.8M65.25 47.10h-2.8" stroke="#555" stroke-width="1" fill="none"/>
<text x="251.25" y="297.4" font-size="11" text-anchor="middle">Longitude</text>
<text transform="translate(27.5,148.4) rotate(-90)" font-size="11" text-anchor="middle">Latitude</text>
</g>
<g transform="translate(0,305)">
<text x="65.3" y="15.6" font-size="13.2">c)</text>
<path d="M121.90 24.4V272.4M193.99 24.4V272.4M266.08 24.4V272.4M338.17 24.4V272.4M410.26 24.4V272.4M65.25 235.25H437.25M65.25 197.62H437.25M65.25 159.99H437.25M65.25 122.36H437.25M65.25 84.73H437.25M65.25 47.10H437.25" stroke="#ebebeb" stroke-width="0.9" fill="none"/>
<path d="M85.58 101.67h6.0075v6.27h-6.0075zM85.58 208.26h6.0075v6.27h-6.0075zM91.58 95.40h6.0075v6.27h-6.0075zM91.58 101.67h6.0075v6.27h-6.0075zM91.58 107.94h6.0075v6.27h-6.0075zM91.58 201.99h6.0075v6.27h-6.0075zM91.58 208.26h6.0075v6.27h-6.0075zM97.59 89.13h6.0075v6.27h-6.0075zM97.59 95.40h6.0075v6.27h-6.0075zM97.59 101.67h6.0075v6.27h-6.0075zM97.59 107.94h6.0075v6.27h-6.0075zM97.59 114.21h6.0075v6.27h-6.0075zM97.59 120.48h6.0075v6.27h-6.0075zM97.59 126.75h6.0075v6.27h-6.0075zM97.59 133.02h6.0075v6.27h-6.0075zM97.59 195.72h6.0075v6.27h-6.0075zM97.59 201.99h6.0075v6.27h-6.0075zM97.59 208.26h6.0075v6.27h-6.0075zM103.60 95.40h6.0075v6.27h-6.0075zM103.60 101.67h6.0075v6.27h-6.0075zM103.60 107.94h6.0075v6.27h-6.0075zM103.60 114.21h6.0075v6.27h-6.0075zM103.60 120.48h6.0075v6.27h-6.0075zM103.60 126.75h6.0075v6.27h-6.0075zM103.60 133.02h6.0075v6.27h-6.0075zM103.60 139.29h6.0075v6.27h-6.0075zM103.60 145.56h6.0075v6.27h-6.0075zM103.60 183.18h6.0075v6.27h-6.0075zM103.60 189.45h6.0075v6.27h-6.0075zM103.60 195.72h6.0075v6.27h-6.0075zM103.60 201.99h6.0075v6.27h-6.0075zM103.60 208.26h6.0075v6.27h-6.0075zM103.60 214.53h6.0075v6.27h-6.0075zM109.61 89.13h6.0075v6.27h-6.0075zM109.61 95.40h6.0075v6.27h-6.0075zM109.61 101.67h6.0075v6.27h-6.0075zM109.61 107.94h6.0075v6.27h-6.0075zM109.61 114.21h6.0075v6.27h-6.0075zM109.61 120.48h6.0075v6.27h-6.0075zM109.61 126.75h6.0075v6.27h-6.0075zM109.61 133.02h6.0075v6.27h-6.0075zM109.61 139.29h6.0075v6.27h-6.0075zM109.61 145.56h6.0075v6.27h-6.0075zM109.61 176.91h6.0075v6.27h-6.0075zM109.61 183.18h6.0075v6.27h-6.0075zM109.61 189.45h6.0075v6.27h-6.0075zM109.61 195.72h6.0075v6.27h-6.0075zM109.61 201.99h6.0075v6.27h-6.0075zM109.61 208.26h6.0075v6.27h-6.0075zM109.61 214.53h6.0075v6.27h-6.0075zM115.61 89.13h6.0075v6.27h-6.0075zM115.61 95.40h6.0075v6.27h-6.0075zM115.61 101.67h6.0075v6.27h-6.0075zM115.61 107.94h6.0075v6.27h-6.0075zM115.61 114.21h6.0075v6.27h-6.0075zM115.61 120.48h6.0075v6.27h-6.0075zM115.61 126.75h6.0075v6.27h-6.0075zM115.61 133.02h6.0075v6.27h-6.0075zM115.61 139.29h6.0075v6.27h-6.0075zM115.61 145.56h6.0075v6.27h-6.0075zM115.61 151.83h6.0075v6.27h-6.0075zM115.61 158.10h6.0075v6.27h-6.0075zM115.61 164.37h6.0075v6.27h-6.0075zM115.61 170.64h6.0075v6.27h-6.0075zM115.61 176.91h6.0075v6.27h-6.0075zM115.61 183.18h6.0075v6.27h-6.0075zM115.61 189.45h6.0075v6.27h-6.0075zM115.61 195.72h6.0075v6.27h-6.0075zM115.61 201.99h6.0075v6.27h-6.0075zM115.61 208.26h6.0075v6.27h-6.0075zM115.61 214.53h6.0075v6.27h-6.0075zM115.61 220.80h6.0075v6.27h-6.0075zM121.62 89.13h6.0075v6.27h-6.0075zM121.62 95.40h6.0075v6.27h-6.0075zM121.62 101.67h6.0075v6.27h-6.0075zM121.62 107.94h6.0075v6.27h-6.0075zM121.62 114.21h6.0075v6.27h-6.0075zM121.62 120.48h6.0075v6.27h-6.0075zM121.62 126.75h6.0075v6.27h-6.0075zM121.62 133.02h6.0075v6.27h-6.0075zM121.62 139.29h6.0075v6.27h-6.0075zM121.62 145.56h6.0075v6.27h-6.0075zM121.62 151.83h6.0075v6.27h-6.0075zM121.62 158.10h6.0075v6.27h-6.0075zM121.62 164.37h6.0075v6.27h-6.0075zM121.62 170.64h6.0075v6.27h-6.0075zM121.62 176.91h6.0075v6.27h-6.0075zM121.62 183.18h6.0075v6.27h-6.0075zM121.62 189.45h6.0075v6.27h-6.0075zM121.62 195.72h6.0075v6.27h-6.0075zM121.62 201.99h6.0075v6.27h-6.0075zM121.62 208.26h6.0075v6.27h-6.0075zM121.62 214.53h6.0075v6.27h-6.0075zM121.62 220.80h6.0075v6.27h-6.0075zM127.63 89.13h6.0075v6.27h-6.0075zM127.63 95.40h6.0075v6.27h-6.0075zM127.63 101.67h6.0075v6.27h-6.0075zM127.63 107.94h6.0075v6.27h-6.0075zM127.63 114.21h6.0075v6.27h-6.0075zM127.63 120.48h6.0075v6.27h-6.0075zM127.63 126.75h6.0075v6.27h-6.0075zM127.63 133.02h6.0075v6.27h-6.0075zM127.63 139.29h6.0075v6.27h-6.0075zM127.63 151.83h6.0075v6.27h-6.0075zM127.63 158.10h6.0075v6.27h-6.0075zM127.63 164.37h6.0075v6.27h-6.0075zM127.63 170.64h6.0075v6.27h-6.0075zM127.63 176.91h6.0075v6.27h-6.0075zM127.63 183.18h6.0075v6.27h-6.0075zM127.63 189.45h6.0075v6.27h-6.0075zM127.63 195.72h6.0075v6.27h-6.0075zM127.63 201.99h6.0075v6.27h-6.0075zM127.63 208.26h6.0075v6.27h-6.0075zM127.63 214.53h6.0075v6.27h-6.0075zM127.63 220.80h6.0075v6.27h-6.0075zM127.63 227.07h6.0075v6.27h-6.0075zM133.64 64.05h6.0075v6.27h-6.0075zM133.64 70.32h6.0075v6.27h-6.0075zM133.64 76.59h6.0075v6.27h-6.0075zM133.64 89.13h6.0075v6.27h-6.0075zM133.64 95.40h6.0075v6.27h-6.0075zM133.64 101.67h6.0075v6.27h-6.0075zM133.64 107.94h6.0075v6.27h-6.0075zM133.64 114.21h6.0075v6.27h-6.0075zM133.64 120.48h6.0075v6.27h-6.0075zM133.64 126.75h6.0075v6.27h-6.0075zM133.64 133.02h6.0075v6.27h-6.0075zM133.64 139.29h6.0075v6.27h-6.0075zM133.64 145.56h6.0075v6.27h-6.0075zM133.64 151.83h6.0075v6.27h-6.0075zM133.64 158.10h6.0075v6.27h-6.0075zM133.64 164.37h6.0075v6.27h-6.0075zM133.64 170.64h6.0075v6.27h-6.0075zM133.64 176.91h6.0075v6.27h-6.0075zM133.64 183.18h6.0075v6.27h-6.0075zM133.64 189.45h6.0075v6.27h-6.0075zM133.64 195.72h6.0075v6.27h-6.0075zM133.64 201.99h6.0075v6.27h-6.0075zM133.64 208.26h6.0075v6.27h-6.0075zM133.64 214.53h6.0075v6.27h-6.0075zM133.64 220.80h6.0075v6.27h-6.0075zM133.64 227.07h6.0075v6.27h-6.0075zM133.64 233.34h6.0075v6.27h-6.0075zM139.64 64.05h6.0075v6.27h-6.0075zM139.64 70.32h6.0075v6.27h-6.0075zM139.64 76.59h6.0075v6.27h-6.0075zM139.64 82.86h6.0075v6.27h-6.0075zM139.64 89.13h6.0075v6.27h-6.0075zM139.64 95.40h6.0075v6.27h-6.0075zM139.64 101.67h6.0075v6.27h-6.0075zM139.64 107.94h6.0075v6.27h-6.0075zM139.64 114.21h6.0075v6.27h-6.0075zM139.64 120.48h6.0075v6.27h-6.0075zM139.64 126.75h6.0075v6.27h-6.0075zM139.64 133.02h6.0075v6.27h-6.0075zM139.64 139.29h6.0075v6.27h-6.0075zM139.64 145.56h6.0075v6.27h-6.0075zM139.64 151.83h6.0075v6.27h-6.0075zM139.64 158.10h6.0075v6.27h-6.0075zM139.64 164.37h6.0075v6.27h-6.0075zM139.64 170.64h6.0075v6.27h-6.0075zM139.64 176.91h6.0075v6.27h-6.0075zM139.64 183.18h6.0075v6.27h-6.0075zM139.64 189.45h6.0075v6.27h-6.0075zM139.64 195.72h6.0075v6.27h-6.0075zM139.64 201.99h6.0075v6.27h-6.0075zM139.64 208.26h6.0075v6.27h-6.0075zM139.64 214.53h6.0075v6.27h-6.0075zM139.64 220.80h6.0075v6.27h-6.0075zM139.64 227.07h6.0075v6.27h-6.0075zM139.64 233.34h6.0075v6.27h-6.0075zM145.65 70.32h6.0075v6.27h-6.0075zM145.65 76.59h6.0075v6.27h-6.0075zM145.65 82.86h6.0075v6.27h-6.0075zM145.65 89.13h6.0075v6.27h-6.0075zM145.65 95.40h6.0075v6.27h-6.0075zM145.65 101.67h6.0075v6.27h-6.0075zM145.65 107.94h6.0075v6.27h-6.0075zM145.65 114.21h6.0075v6.27h-6.0075zM145.65 120.48h6.0075v6.27h-6.0075zM145.65 126.75h6.0075v6.27h-6.0075zM145.65 133.02h6.0075v6.27h-6.0075zM145.65 139.29h6.0075v6.27h-6.0075zM145.65 145.56h6.0075v6.27h-6.0075zM145.65 151.83h6.0075v6.27h-6.0075zM145.65 158.10h6.0075v6.27h-6.0075zM145.65 164.37h6.0075v6.27h-6.0075zM145.65 170.64h6.0075v6.27h-6.0075zM145.65 176.91h6.0075v6.27h-6.0075zM145.65 183.18h6.0075v6.27h-6.0075zM145.65 189.45h6.0075v6.27h-6.0075zM145.65 195.72h6.0075v6.27h-6.0075zM145.65 201.99h6.0075v6.27h-6.0075zM145.65 208.26h6.0075v6.27h-6.0075zM145.65 214.53h6.0075v6.27h-6.0075zM145.65 220.80h6.0075v6.27h-6.0075zM145.65 227.07h6.0075v6.27h-6.0075zM151.66 82.86h6.0075v6.27h-6.0075zM151.66 89.13h6.0075v6.27h-6.0075zM151.66 95.40h6.0075v6.27h-6.0075zM151.66 101.67h6.0075v6.27h-6.0075zM151.66 107.94h6.0075v6.27h-6.0075zM151.66 114.21h6.0075v6.27h-6.0075zM151.66 120.48h6.0075v6.27h-6.0075zM151.66 126.75h6.0075v6.27h-6.0075zM151.66 133.02h6.0075v6.27h-6.0075zM151.66 139.29h6.0075v6.27h-6.0075zM151.66 145.56h6.0075v6.27h-6.0075zM151.66 151.83h6.0075v6.27h-6.0075zM151.66 158.10h6.0075v6.27h-6.0075zM151.66 164.37h6.0075v6.27h-6.0075zM151.66 170.64h6.0075v6.27h-6.0075zM151.66 176.91h6.0075v6.27h-6.0075zM151.66 183.18h6.0075v6.27h-6.0075zM151.66 189.45h6.0075v6.27h-6.0075zM151.66 195.72h6.0075v6.27h-6.0075zM151.66 201.99h6.0075v6.27h-6.0075zM151.66 208.26h6.0075v6.27h-6.0075zM151.66 214.53h6.0075v6.27h-6.0075zM151.66 220.80h6.0075v6.27h-6.0075zM151.66 227.07h6.0075v6.27h-6.0075zM151.66 233.34h6.0075v6.27h-6.0075zM157.67 82.86h6.0075v6.27h-6.0075zM157.67 89.13h6.0075v6.27h-6.0075zM157.67 95.40h6.0075v6.27h-6.0075zM157.67 101.67h6.0075v6.27h-6.0075zM157.67 107.94h6.0075v6.27h-6.0075zM157.67 114.21h6.0075v6.27h-6.0075zM157.67 120.48h6.0075v6.27h-6.0075zM157.67 126.75h6.0075v6.27h-6.0075zM157.67 133.02h6.0075v6.27h-6.0075zM157.67 139.29h6.0075v6.27h-6.0075zM157.67 145.56h6.0075v6.27h-6.0075zM157.67 151.83h6.0075v6.27h-6.0075zM157.67 158.10h6.0075v6.27h-6.0075zM157.67 164.37h6.0075v6.27h-6.0075zM157.67 170.64h6.0075v6.27h-6.0075zM157.67 176.91h6.0075v6.27h-6.0075zM157.67 183.18h6.0075v6.27h-6.0075zM157.67 189.45h6.0075v6.27h-6.0075zM157.67 195.72h6.0075v6.27h-6.0075zM157.67 201.99h6.0075v6.27h-6.0075zM157.67 208.26h6.0075v6.27h-6.0075zM157.67 214.53h6.0075v6.27h-6.0075zM157.67 220.80h6.0075v6.27h-6.0075zM157.67 227.07h6.0075v6.27h-6.0075zM157.67 233.34h6.0075v6.27h-6.0075zM163.68 76.59h6.0075v6.27h-6.0075zM163.68 82.86h6.0075v6.27h-6.0075zM163.68 89.13h6.0075v6.27h-6.0075zM163.68 95.40h6.0075v6.27h-6.0075zM163.68 101.67h6.0075v6.27h-6.0075zM163.68 107.94h6.0075v6.27h-6.0075zM163.68 114.21h6.0075v6.27h-6.0075zM163.68 120.48h6.0075v6.27h-6.0075zM163.68 126.75h6.0075v6.27h-6.0075zM163.68 133.02h6.0075v6.27h-6.0075zM163.68 139.29h6.0075v6.27h-6.0075zM163.68 151.83h6.0075v6.27h-6.0075zM163.68 158.10h6.0075v6.27h-6.0075zM163.68 164.37h6.0075v6.27h-6.0075zM163.68 170.64h6.0075v6.27h-6.0075zM163.68 176.91h6.0075v6.27h-6.0075zM163.68 189.45h6.0075v6.27h-6.0075zM163.68 195.72h6.0075v6.27h-6.0075zM163.68 201.99h6.0075v6.27h-6.0075zM163.68 208.26h6.0075v6.27h-6.0075zM163.68 214.53h6.0075v6.27h-6.0075zM163.68 220.80h6.0075v6.27h-6.0075zM163.68 227.07h6.0075v6.27h-6.0075zM163.68 233.34h6.0075v6.27h-6.0075zM169.68 70.32h6.0075v6.27h-6.0075zM169.68 76.59h6.0075v6.27h-6.0075zM169.68 82.86h6.0075v6.27h-6.0075zM169.68 89.13h6.0075v6.27h-6.0075zM169.68 95.40h6.0075v6.27h-6.0075zM169.68 101.67h6.0075v6.27h-6.0075zM169.68 107.94h6.0075v6.27h-6.0075zM169.68 114.21h6.0075v6.27h-6.0075zM169.68 120.48h6.0075v6.27h-6.0075zM169.68 126.75h6.0075v6.27h-6.0075zM169.68 133.02h6.0075v6.27h-6.0075zM169.68 139.29h6.0075v6.27h-6.0075zM169.68 145.56h6.0075v6.27h-6.0075zM169.68 151.83h6.0075v6.27h-6.0075zM169.68 158.10h6.0075v6.27h-6.0075zM169.68 164.37h6.0075v6.27h-6.0075zM169.68 170.64h6.0075v6.27h-6.0075zM169.68 176.91h6.0075v6.27h-6.0075zM169.68 183.18h6.0075v6.27h-6.0075zM169.68 189.45h6.0075v6.27h-6.0075zM169.68 195.72h6.0075v6.27h-6.0075zM169.68 201.99h6.0075v6.27h-6.0075zM169.68 208.26h6.0075v6.27h-6.0075zM169.68 214.53h6.0075v6.27h-6.0075zM169.68 220.80h6.0075v6.27h-6.0075zM169.68 227.07h6.0075v6.27h-6.0075zM169.68 233.34h6.0075v6.27h-6.0075zM175.69 70.32h6.0075v6.27h-6.0075zM175.69 76.59h6.0075v6.27h-6.0075zM175.69 82.86h6.0075v6.27h-6.0075zM175.69 89.13h6.0075v6.27h-6.0075zM175.69 95.40h6.0075v6.27h-6.0075zM175.69 101.67h6.0075v6.27h-6.0075zM175.69 107.94h6.0075v6.27h-6.0075zM175.69 114.21h6.0075v6.27h-6.0075zM175.69 120.48h6.0075v6.27h-6.0075zM175.69 126.75h6.0075v6.27h-6.0075zM175.69 133.02h6.0075v6.27h-6.0075zM175.69 139.29h6.0075v6.27h-6.0075zM175.69 145.56h6.0075v6.27h-6.0075zM175.69 151.83h6.0075v6.27h-6.0075zM175.69 158.10h6.0075v6.27h-6.0075zM175.69 164.37h6.0075v6.27h-6.0075zM175.69 170.64h6.0075v6.27h-6.0075zM175.69 176.91h6.0075v6.27h-6.0075zM175.69 183.18h6.0075v6.27h-6.0075zM175.69 189.45h6.0075v6.27h-6.0075zM175.69 195.72h6.0075v6.27h-6.0075zM175.69 201.99h6.0075v6.27h-6.0075zM175.69 208.26h6.0075v6.27h-6.0075zM175.69 214.53h6.0075v6.27h-6.0075zM175.69 220.80h6.0075v6.27h-6.0075zM175.69 227.07h6.0075v6.27h-6.0075zM175.69 233.34h6.0075v6.27h-6.0075zM181.70 70.32h6.0075v6.27h-6.0075zM181.70 76.59h6.0075v6.27h-6.0075zM181.70 82.86h6.0075v6.27h-6.0075zM181.70 89.13h6.0075v6.27h-6.0075zM181.70 95.40h6.0075v6.27h-6.0075zM181.70 101.67h6.0075v6.27h-6.0075zM181.70 107.94h6.0075v6.27h-6.0075zM181.70 114.21h6.0075v6.27h-6.0075zM181.70 120.48h6.0075v6.27h-6.0075zM181.70 126.75h6.0075v6.27h-6.0075zM181.70 133.02h6.0075v6.27h-6.0075zM181.70 139.29h6.0075v6.27h-6.0075zM181.70 145.56h6.0075v6.27h-6.0075zM181.70 151.83h6.0075v6.27h-6.0075zM181.70 158.10h6.0075v6.27h-6.0075zM181.70 164.37h6.0075v6.27h-6.0075zM181.70 170.64h6.0075v6.27h-6.0075zM181.70 176.91h6.0075v6.27h-6.0075zM181.70 183.18h6.0075v6.27h-6.0075zM181.70 189.45h6.0075v6.27h-6.0075zM181.70 195.72h6.0075v6.27h-6.0075zM181.70 201.99h6.0075v6.27h-6.0075zM181.70 208.26h6.0075v6.27h-6.0075zM181.70 214.53h6.0075v6.27h-6.0075zM181.70 220.80h6.0075v6.27h-6.0075zM181.70 227.07h6.0075v6.27h-6.0075zM181.70 233.34h6.0075v6.27h-6.0075zM181.70 239.61h6.0075v6.27h-6.0075zM187.70 70.32h6.0075v6.27h-6.0075zM187.70 76.59h6.0075v6.27h-6.0075zM187.70 82.86h6.0075v6.27h-6.0075zM187.70 89.13h6.0075v6.27h-6.0075zM187.70 95.40h6.0075v6.27h-6.0075zM187.70 101.67h6.0075v6.27h-6.0075zM187.70 107.94h6.0075v6.27h-6.0075zM187.70 114.21h6.0075v6.27h-6.0075zM187.70 120.48h6.0075v6.27h-6.0075zM187.70 126.75h6.0075v6.27h-6.0075zM187.70 133.02h6.0075v6.27h-6.0075zM187.70 139.29h6.0075v6.27h-6.0075zM187.70 145.56h6.0075v6.27h-6.0075zM187.70 151.83h6.0075v6.27h-6.0075zM187.70 158.10h6.0075v6.27h-6.0075zM187.70 164.37h6.0075v6.27h-6.0075zM187.70 170.64h6.0075v6.27h-6.0075zM187.70 176.91h6.0075v6.27h-6.0075zM187.70 183.18h6.0075v6.27h-6.0075zM187.70 189.45h6.0075v6.27h-6.0075zM187.70 195.72h6.0075v6.27h-6.0075zM187.70 201.99h6.0075v6.27h-6.0075zM187.70 208.26h6.0075v6.27h-6.0075zM187.70 214.53h6.0075v6.27h-6.0075zM187.70 220.80h6.0075v6.27h-6.0075zM187.70 227.07h6.0075v6.27h-6.0075zM187.70 233.34h6.0075v6.27h-6.0075zM187.70 239.61h6.0075v6.27h-6.0075zM193.71 70.32h6.0075v6.27h-6.0075zM193.71 76.59h6.0075v6.27h-6.0075zM193.71 82.86h6.0075v6.27h-6.0075zM193.71 89.13h6.0075v6.27h-6.0075zM193.71 95.40h6.0075v6.27h-6.0075zM193.71 101.67h6.0075v6.27h-6.0075zM193.71 107.94h6.0075v6.27h-6.0075zM193.71 114.21h6.0075v6.27h-6.0075zM193.71 120.48h6.0075v6.27h-6.0075zM193.71 126.75h6.0075v6.27h-6.0075zM193.71 133.02h6.0075v6.27h-6.0075zM193.71 139.29h6.0075v6.27h-6.0075zM193.71 145.56h6.0075v6.27h-6.0075zM193.71 151.83h6.0075v6.27h-6.0075zM193.71 158.10h6.0075v6.27h-6.0075zM193.71 164.37h6.0075v6.27h-6.0075zM193.71 170.64h6.0075v6.27h-6.0075zM193.71 176.91h6.0075v6.27h-6.0075zM193.71 183.18h6.0075v6.27h-6.0075zM193.71 189.45h6.0075v6.27h-6.0075zM193.71 195.72h6.0075v6.27h-6.0075zM193.71 201.99h6.0075v6.27h-6.0075zM193.71 208.26h6.0075v6.27h-6.0075zM193.71 214.53h6.0075v6.27h-6.0075zM193.71 220.80h6.0075v6.27h-6.0075zM193.71 227.07h6.0075v6.27h-6.0075zM193.71 233.34h6.0075v6.27h-6.0075zM193.71 239.61h6.0075v6.27h-6.0075zM193.71 245.88h6.0075v6.27h-6.0075zM199.72 64.05h6.0075v6.27h-6.0075zM199.72 70.32h6.0075v6.27h-6.0075zM199.72 76.59h6.0075v6.27h-6.0075zM199.72 82.86h6.0075v6.27h-6.0075zM199.72 89.13h6.0075v6.27h-6.0075zM199.72 95.40h6.0075v6.27h-6.0075zM199.72 101.67h6.0075v6.27h-6.0075zM199.72 107.94h6.0075v6.27h-6.0075zM199.72 114.21h6.0075v6.27h-6.0075zM199.72 120.48h6.0075v6.27h-6.0075zM199.72 126.75h6.0075v6.27h-6.0075zM199.72 133.02h6.0075v6.27h-6.0075zM199.72 139.29h6.0075v6.27h-6.0075zM199.72 145.56h6.0075v6.27h-6.0075zM199.72 151.83h6.0075v6.27h-6.0075zM199.72 158.10h6.0075v6.27h-6.0075zM199.72 164.37h6.0075v6.27h-6.0075zM199.72 170.64h6.0075v6.27h-6.0075zM199.72 176.91h6.0075v6.27h-6.0075zM199.72 183.18h6.0075v6.27h-6.0075zM199.72 189.45h6.0075v6.27h-6.0075zM199.72 195.72h6.0075v6.27h-6.0075zM199.72 201.99h6.0075v6.27h-6.0075zM199.72 208.26h6.0075v6.27h-6.0075zM199.72 214.53h6.0075v6.27h-6.0075zM199.72 220.80h6.0075v6.27h-6.0075zM199.72 227.07h6.0075v6.27h-6.0075zM199.72 233.34h6.0075v6.27h-6.0075zM199.72 239.61h6.0075v6.27h-6.0075zM199.72 245.88h6.0075v6.27h-6.0075zM205.73 57.78h6.0075v6.27h-6.0075zM205.73 64.05h6.0075v6.27h-6.0075zM205.73 70.32h6.0075v6.27h-6.0075zM205.73 76.59h6.0075v6.27h-6.0075zM205.73 82.86h6.0075v6.27h-6.0075zM205.73 89.13h6.0075v6.27h-6.0075zM205.73 95.40h6.0075v6.27h-6.0075zM205.73 101.67h6.0075v6.27h-6.0075zM205.73 107.94h6.0075v6.27h-6.0075zM205.73 114.21h6.0075v6.27h-6.0075zM205.73 120.48h6.0075v6.27h-6.0075zM205.73 126.75h6.0075v6.27h-6.0075zM205.73 133.02h6.0075v6.27h-6.0075zM205.73 139.29h6.0075v6.27h-6.0075zM205.73 145.56h6.0075v6.27h-6.0075zM205.73 151.83h6.0075v6.27h-6.0075zM205.73 158.10h6.0075v6.27h-6.0075zM205.73 164.37h6.0075v6.27h-6.0075zM205.73 170.64h6.0075v6.27h-6.0075zM205.73 176.91h6.0075v6.27h-6.0075zM205.73 183.18h6.0075v6.27h-6.0075zM205.73 189.45h6.0075v6.27h-6.0075zM205.73 195.72h6.0075v6.27h-6.0075zM205.73 201.99h6.0075v6.27h-6.0075zM205.73 208.26h6.0075v6.27h-6.0075zM205.73 214.53h6.0075v6.27h-6.0075zM205.73 220.80h6.0075v6.27h-6.0075zM205.73 227.07h6.0075v6.27h-6.0075zM205.73 233.34h6.0075v6.27h-6.0075zM205.73 239.61h6.0075v6.27h-6.0075zM205.73 245.88h6.0075v6.27h-6.0075zM205.73 252.15h6.0075v6.27h-6.0075zM211.74 57.78h6.0075v6.27h-6.0075zM211.74 64.05h6.0075v6.27h-6.0075zM211.74 70.32h6.0075v6.27h-6.0075zM211.74 76.59h6.0075v6.27h-6.0075zM211.74 82.86h6.0075v6.27h-6.0075zM211.74 89.13h6.0075v6.27h-6.0075zM211.74 95.40h6.0075v6.27h-6.0075zM211.74 101.67h6.0075v6.27h-6.0075zM211.74 107.94h6.0075v6.27h-6.0075zM211.74 114.21h6.0075v6.27h-6.0075zM211.74 120.48h6.0075v6.27h-6.0075zM211.74 126.75h6.0075v6.27h-6.0075zM211.74 133.02h6.0075v6.27h-6.0075zM211.74 139.29h6.0075v6.27h-6.0075zM211.74 145.56h6.0075v6.27h-6.0075zM211.74 151.83h6.0075v6.27h-6.0075zM211.74 158.10h6.0075v6.27h-6.0075zM211.74 164.37h6.0075v6.27h-6.0075zM211.74 170.64h6.0075v6.27h-6.0075zM211.74 176.91h6.0075v6.27h-6.0075zM211.74 183.18h6.0075v6.27h-6.0075zM211.74 189.45h6.0075v6.27h-6.0075zM211.74 195.72h6.0075v6.27h-6.0075zM211.74 201.99h6.0075v6.27h-6.0075zM211.74 208.26h6.0075v6.27h-6.0075zM211.74 214.53h6.0075v6.27h-6.0075zM211.74 220.80h6.0075v6.27h-6.0075zM211.74 227.07h6.0075v6.27h-6.0075zM211.74 233.34h6.0075v6.27h-6.0075zM211.74 239.61h6.0075v6.27h-6.0075zM211.74 245.88h6.0075v6.27h-6.0075zM211.74 252.15h6.0075v6.27h-6.0075zM217.74 38.97h6.0075v6.27h-6.0075zM217.74 45.24h6.0075v6.27h-6.0075zM217.74 51.51h6.0075v6.27h-6.0075zM217.74 57.78h6.0075v6.27h-6.0075zM217.74 64.05h6.0075v6.27h-6.0075zM217.74 70.32h6.0075v6.27h-6.0075zM217.74 76.59h6.0075v6.27h-6.0075zM217.74 82.86h6.0075v6.27h-6.0075zM217.74 89.13h6.0075v6.27h-6.0075zM217.74 95.40h6.0075v6.27h-6.0075zM217.74 101.67h6.0075v6.27h-6.0075zM217.74 107.94h6.0075v6.27h-6.0075zM217.74 114.21h6.0075v6.27h-6.0075zM217.74 120.48h6.0075v6.27h-6.0075zM217.74 126.75h6.0075v6.27h-6.0075zM217.74 133.02h6.0075v6.27h-6.0075zM217.74 139.29h6.0075v6.27h-6.0075zM217.74 145.56h6.0075v6.27h-6.0075zM217.74 151.83h6.0075v6.27h-6.0075zM217.74 158.10h6.0075v6.27h-6.0075zM217.74 164.37h6.0075v6.27h-6.0075zM217.74 170.64h6.0075v6.27h-6.0075zM217.74 176.91h6.0075v6.27h-6.0075zM217.74 183.18h6.0075v6.27h-6.0075zM217.74 189.45h6.0075v6.27h-6.0075zM217.74 195.72h6.0075v6.27h-6.0075zM217.74 201.99h6.0075v6.27h-6.0075zM217.74 208.26h6.0075v6.27h-6.0075zM217.74 214.53h6.0075v6.27h-6.0075zM217.74 220.80h6.0075v6.27h-6.0075zM217.74 227.07h6.0075v6.27h-6.0075zM217.74 233.34h6.0075v6.27h-6.0075zM217.74 239.61h6.0075v6.27h-6.0075zM217.74 245.88h6.0075v6.27h-6.0075zM217.74 252.15h6.0075v6.27h-6.0075zM223.75 38.97h6.0075v6.27h-6.0075zM223.75 45.24h6.0075v6.27h-6.0075zM223.75 51.51h6.0075v6.27h-6.0075zM223.75 57.78h6.0075v6.27h-6.0075zM223.75 64.05h6.0075v6.27h-6.0075zM223.75 70.32h6.0075v6.27h-6.0075zM223.75 76.59h6.0075v6.27h-6.0075zM223.75 82.86h6.0075v6.27h-6.0075zM223.75 89.13h6.0075v6.27h-6.0075zM223.75 95.40h6.0075v6.27h-6.0075zM223.75 101.67h6.0075v6.27h-6.0075zM223.75 107.94h6.0075v6.27h-6.0075zM223.75 114.21h6.0075v6.27h-6.0075zM223.75 120.48h6.0075v6.27h-6.0075zM223.75 126.75h6.0075v6.27h-6.0075zM223.75 133.02h6.0075v6.27h-6.0075zM223.75 139.29h6.0075v6.27h-6.0075zM223.75 145.56h6.0075v6.27h-6.0075zM223.75 151.83h6.0075v6.27h-6.0075zM223.75 158.10h6.0075v6.27h-6.0075zM223.75 164.37h6.0075v6.27h-6.0075zM223.75 170.64h6.0075v6.27h-6.0075zM223.75 176.91h6.0075v6.27h-6.0075zM223.75 183.18h6.0075v6.27h-6.0075zM223.75 189.45h6.0075v6.27h-6.0075zM223.75 195.72h6.0075v6.27h-6.0075zM223.75 201.99h6.0075v6.27h-6.0075zM223.75 208.26h6.0075v6.27h-6.0075zM223.75 214.53h6.0075v6.27h-6.0075zM223.75 220.80h6.0075v6.27h-6.0075zM223.75 227.07h6.0075v6.27h-6.0075zM223.75 233.34h6.0075v6.27h-6.0075zM223.75 239.61h6.0075v6.27h-6.0075zM223.75 245.88h6.0075v6.27h-6.0075zM223.75 252.15h6.0075v6.27h-6.0075zM229.76 38.97h6.0075v6.27h-6.0075zM229.76 45.24h6.0075v6.27h-6.0075zM229.76 51.51h6.0075v6.27h-6.0075zM229.76 57.78h6.0075v6.27h-6.0075zM229.76 64.05h6.0075v6.27h-6.0075zM229.76 70.32h6.0075v6.27h-6.0075zM229.76 76.59h6.0075v6.27h-6.0075zM229.76 82.86h6.0075v6.27h-6.0075zM229.76 89.13h6.0075v6.27h-6.0075zM229.76 95.40h6.0075v6.27h-6.0075zM229.76 101.67h6.0075v6.27h-6.0075zM229.76 107.94h6.0075v6.27h-6.0075zM229.76 114.21h6.0075v6.27h-6.0075zM229.76 120.48h6.0075v6.27h-6.0075zM229.76 126.75h6.0075v6.27h-6.0075zM229.76 133.02h6.0075v6.27h-6.0075zM229.76 139.29h6.0075v6.27h-6.0075zM229.76 145.56h6.0075v6.27h-6.0075zM229.76 151.83h6.0075v6.27h-6.0075zM229.76 158.10h6.0075v6.27h-6.0075zM229.76 164.37h6.0075v6.27h-6.0075zM229.76 170.64h6.0075v6.27h-6.0075zM229.76 176.91h6.0075v6.27h-6.0075zM229.76 183.18h6.0075v6.27h-6.0075zM229.76 189.45h6.0075v6.27h-6.0075zM229.76 195.72h6.0075v6.27h-6.0075zM229.76 201.99h6.0075v6.27h-6.0075zM229.76 208.26h6.0075v6.27h-6.0075zM229.76 214.53h6.0075v6.27h-6.0075zM229.76 220.80h6.0075v6.27h-6.0075zM229.76 227.07h6.0075v6.27h-6.0075zM229.76 233.34h6.0075v6.27h-6.0075zM229.76 239.61h6.0075v6.27h-6.0075zM229.76 245.88h6.0075v6.27h-6.0075zM229.76 252.15h6.0075v6.27h-6.0075zM235.76 51.51h6.0075v6.27h-6.0075zM235.76 57.78h6.0075v6.27h-6.0075zM235.76 64.05h6.0075v6.27h-6.0075zM235.76 70.32h6.0075v6.27h-6.0075zM235.76 76.59h6.0075v6.27h-6.0075zM235.76 82.86h6.0075v6.27h-6.0075zM235.76 89.13h6.0075v6.27h-6.0075zM235.76 95.40h6.0075v6.27h-6.0075zM235.76 101.67h6.0075v6.27h-6.0075zM235.76 107.94h6.0075v6.27h-6.0075zM235.76 114.21h6.0075v6.27h-6.0075zM235.76 120.48h6.0075v6.27h-6.0075zM235.76 126.75h6.0075v6.27h-6.0075zM235.76 133.02h6.0075v6.27h-6.0075zM235.76 139.29h6.0075v6.27h-6.0075zM235.76 145.56h6.0075v6.27h-6.0075zM235.76 151.83h6.0075v6.27h-6.0075zM235.76 158.10h6.0075v6.27h-6.0075zM235.76 164.37h6.0075v6.27h-6.0075zM235.76 170.64h6.0075v6.27h-6.0075zM235.76 176.91h6.0075v6.27h-6.0075zM235.76 183.18h6.0075v6.27h-6.0075zM235.76 189.45h6.0075v6.27h-6.0075zM235.76 195.72h6.0075v6.27h-6.0075zM235.76 201.99h6.0075v6.27h-6.0075zM235.76 208.26h6.0075v6.27h-6.0075zM235.76 214.53h6.0075v6.27h-6.0075zM235.76 220.80h6.0075v6.27h-6.0075zM235.76 227.07h6.0075v6.27h-6.0075zM235.76 233.34h6.0075v6.27h-6.0075zM235.76 239.61h6.0075v6.27h-6.0075zM235.76 245.88h6.0075v6.27h-6.0075zM235.76 252.15h6.0075v6.27h-6.0075zM241.77 64.05h6.0075v6.27h-6.0075zM241.77 70.32h6.0075v6.27h-6.0075zM241.77 76.59h6.0075v6.27h-6.0075zM241.77 82.86h6.0075v6.27h-6.0075zM241.77 89.13h6.0075v6.27h-6.0075zM241.77 95.40h6.0075v6.27h-6.0075zM241.77 101.67h6.0075v6.27h-6.0075zM241.77 107.94h6.0075v6.27h-6.0075zM241.77 114.21h6.0075v6.27h-6.0075zM241.77 120.48h6.0075v6.27h-6.0075zM241.77 126.75h6.0075v6.27h-6.0075zM241.77 133.02h6.0075v6.27h-6.0075zM241.77 139.29h6.0075v6.27h-6.0075zM241.77 145.56h6.0075v6.27h-6.0075zM241.77 151.83h6.0075v6.27h-6.0075zM241.77 158.10h6.0075v6.27h-6.0075zM241.77 164.37h6.0075v6.27h-6.0075zM241.77 170.64h6.0075v6.27h-6.0075zM241.77 176.91h6.0075v6.27h-6.0075zM241.77 183.18h6.0075v6.27h-6.0075zM241.77 189.45h6.0075v6.27h-6.0075zM241.77 195.72h6.0075v6.27h-6.0075zM241.77 201.99h6.0075v6.27h-6.0075zM241.77 208.26h6.0075v6.27h-6.0075zM241.77 214.53h6.0075v6.27h-6.0075zM241.77 220.80h6.0075v6.27h-6.0075zM241.77 227.07h6.0075v6.27h-6.0075zM241.77 233.34h6.0075v6.27h-6.0075zM241.77 239.61h6.0075v6.27h-6.0075zM241.77 245.88h6.0075v6.27h-6.0075zM241.77 252.15h6.0075v6.27h-6.0075zM247.78 70.32h6.0075v6.27h-6.0075zM247.78 76.59h6.0075v6.27h-6.0075zM247.78 82.86h6.0075v6.27h-6.0075zM247.78 89.13h6.0075v6.27h-6.0075zM247.78 95.40h6.0075v6.27h-6.0075zM247.78 101.67h6.0075v6.27h-6.0075zM247.78 107.94h6.0075v6.27h-6.0075zM247.78 114.21h6.0075v6.27h-6.0075zM247.78 120.48h6.0075v6.27h-6.0075zM247.78 126.75h6.0075v6.27h-6.0075zM247.78 133.02h6.0075v6.27h-6.0075zM247.78 139.29h6.0075v6.27h-6.0075zM247.78 145.56h6.0075v6.27h-6.0075zM247.78 151.83h6.0075v6.27h-6.0075zM247.78 158.10h6.0075v6.27h-6.0075zM247.78 164.37h6.0075v6.27h-6.0075zM247.78 170.64h6.0075v6.27h-6.0075zM247.78 176.91h6.0075v6.27h-6.0075zM247.78 183.18h6.0075v6.27h-6.0075zM247.78 189.45h6.0075v6.27h-6.0075zM247.78 195.72h6.0075v6.27h-6.0075zM247.78 201.99h6.0075v6.27h-6.0075zM247.78 208.26h6.0075v6.27h-6.0075zM247.78 233.34h6.0075v6.27h-6.0075zM247.78 239.61h6.0075v6.27h-6.0075zM247.78 245.88h6.0075v6.27h-6.0075zM247.78 252.15h6.0075v6.27h-6.0075zM253.79 76.59h6.0075v6.27h-6.0075zM253.79 82.86h6.0075v6.27h-6.0075zM253.79 89.13h6.0075v6.27h-6.0075zM253.79 95.40h6.0075v6.27h-6.0075zM253.79 101.67h6.0075v6.27h-6.0075zM253.79 107.94h6.0075v6.27h-6.0075zM253.79 114.21h6.0075v6.27h-6.0075zM253.79 120.48h6.0075v6.27h-6.0075zM253.79 126.75h6.0075v6.27h-6.0075zM253.79 133.02h6.0075v6.27h-6.0075zM253.79 139.29h6.0075v6.27h-6.0075zM253.79 145.56h6.0075v6.27h-6.0075zM253.79 151.83h6.0075v6.27h-6.0075zM253.79 158.10h6.0075v6.27h-6.0075zM253.79 164.37h6.0075v6.27h-6.0075zM253.79 170.64h6.0075v6.27h-6.0075zM253.79 176.91h6.0075v6.27h-6.0075zM253.79 183.18h6.0075v6.27h-6.0075zM253.79 189.45h6.0075v6.27h-6.0075zM253.79 195.72h6.0075v6.27h-6.0075zM253.79 201.99h6.0075v6.27h-6.0075zM253.79 208.26h6.0075v6.27h-6.0075zM253.79 227.07h6.0075v6.27h-6.0075zM253.79 233.34h6.0075v6.27h-6.0075zM253.79 239.61h6.0075v6.27h-6.0075zM253.79 245.88h6.0075v6.27h-6.0075zM253.79 252.15h6.0075v6.27h-6.0075zM259.80 76.59h6.0075v6.27h-6.0075zM259.80 82.86h6.0075v6.27h-6.0075zM259.80 89.13h6.0075v6.27h-6.0075zM259.80 95.40h6.0075v6.27h-6.0075zM259.80 101.67h6.0075v6.27h-6.0075zM259.80 107.94h6.0075v6.27h-6.0075zM259.80 114.21h6.0075v6.27h-6.0075zM259.80 120.48h6.0075v6.27h-6.0075zM259.80 126.75h6.0075v6.27h-6.0075zM259.80 133.02h6.0075v6.27h-6.0075zM259.80 139.29h6.0075v6.27h-6.0075zM259.80 145.56h6.0075v6.27h-6.0075zM259.80 151.83h6.0075v6.27h-6.0075zM259.80 158.10h6.0075v6.27h-6.0075zM259.80 164.37h6.0075v6.27h-6.0075zM259.80 170.64h6.0075v6.27h-6.0075zM259.80 176.91h6.0075v6.27h-6.0075zM259.80 183.18h6.0075v6.27h-6.0075zM259.80 189.45h6.0075v6.27h-6.0075zM259.80 195.72h6.0075v6.27h-6.0075zM259.80 201.99h6.0075v6.27h-6.0075zM259.80 214.53h6.0075v6.27h-6.0075zM259.80 220.80h6.0075v6.27h-6.0075zM259.80 227.07h6.0075v6.27h-6.0075zM259.80 233.34h6.0075v6.27h-6.0075zM259.80 239.61h6.0075v6.27h-6.0075zM259.80 245.88h6.0075v6.27h-6.0075zM265.80 76.59h6.0075v6.27h-6.0075zM265.80 82.86h6.0075v6.27h-6.0075zM265.80 89.13h6.0075v6.27h-6.0075zM265.80 95.40h6.0075v6.27h-6.0075zM265.80 101.67h6.0075v6.27h-6.0075zM265.80 107.94h6.0075v6.27h-6.0075zM265.80 120.48h6.0075v6.27h-6.0075zM265.80 126.75h6.0075v6.27h-6.0075zM265.80 133.02h6.0075v6.27h-6.0075zM265.80 139.29h6.0075v6.27h-6.0075zM265.80 145.56h6.0075v6.27h-6.0075zM265.80 151.83h6.0075v6.27h-6.0075zM265.80 158.10h6.0075v6.27h-6.0075zM265.80 164.37h6.0075v6.27h-6.0075zM265.80 170.64h6.0075v6.27h-6.0075zM265.80 176.91h6.0075v6.27h-6.0075zM265.80 183.18h6.0075v6.27h-6.0075zM265.80 189.45h6.0075v6.27h-6.0075zM265.80 195.72h6.0075v6.27h-6.0075zM265.80 201.99h6.0075v6.27h-6.0075zM265.80 208.26h6.0075v6.27h-6.0075zM265.80 214.53h6.0075v6.27h-6.0075zM265.80 220.80h6.0075v6.27h-6.0075zM265.80 227.07h6.0075v6.27h-6.0075zM265.80 233.34h6.0075v6.27h-6.0075zM265.80 239.61h6.0075v6.27h-6.0075zM265.80 245.88h6.0075v6.27h-6.0075zM271.81 70.32h6.0075v6.27h-6.0075zM271.81 76.59h6.0075v6.27h-6.0075zM271.81 82.86h6.0075v6.27h-6.0075zM271.81 89.13h6.0075v6.27h-6.0075zM271.81 95.40h6.0075v6.27h-6.0075zM271.81 107.94h6.0075v6.27h-6.0075zM271.81 114.21h6.0075v6.27h-6.0075zM271.81 120.48h6.0075v6.27h-6.0075zM271.81 126.75h6.0075v6.27h-6.0075zM271.81 133.02h6.0075v6.27h-6.0075zM271.81 139.29h6.0075v6.27h-6.0075zM271.81 145.56h6.0075v6.27h-6.0075zM271.81 151.83h6.0075v6.27h-6.0075zM271.81 158.10h6.0075v6.27h-6.0075zM271.81 164.37h6.0075v6.27h-6.0075zM271.81 170.64h6.0075v6.27h-6.0075zM271.81 176.91h6.0075v6.27h-6.0075zM271.81 183.18h6.0075v6.27h-6.0075zM271.81 189.45h6.0075v6.27h-6.0075zM271.81 195.72h6.0075v6.27h-6.0075zM271.81 201.99h6.0075v6.27h-6.0075zM271.81 208.26h6.0075v6.27h-6.0075zM271.81 214.53h6.0075v6.27h-6.0075zM271.81 227.07h6.0075v6.27h-6.0075zM271.81 233.34h6.0075v6.27h-6.0075zM271.81 239.61h6.0075v6.27h-6.0075zM277.82 82.86h6.0075v6.27h-6.0075zM277.82 114.21h6.0075v6.27h-6.0075zM277.82 120.48h6.0075v6.27h-6.0075zM277.82 126.75h6.0075v6.27h-6.0075zM277.82 133.02h6.0075v6.27h-6.0075zM277.82 139.29h6.0075v6.27h-6.0075zM277.82 145.56h6.0075v6.27h-6.0075zM277.82 151.83h6.0075v6.27h-6.0075zM277.82 158.10h6.0075v6.27h-6.0075zM277.82 164.37h6.0075v6.27h-6.0075zM277.82 170.64h6.0075v6.27h-6.0075zM277.82 176.91h6.0075v6.27h-6.0075zM277.82 183.18h6.0075v6.27h-6.0075zM277.82 189.45h6.0075v6.27h-6.0075zM277.82 195.72h6.0075v6.27h-6.0075zM277.82 201.99h6.0075v6.27h-6.0075zM277.82 208.26h6.0075v6.27h-6.0075zM277.82 214.53h6.0075v6.27h-6.0075zM277.82 227.07h6.0075v6.27h-6.0075zM277.82 233.34h6.0075v6.27h-6.0075zM277.82 239.61h6.0075v6.27h-6.0075zM283.82 120.48h6.0075v6.27h-6.0075zM283.82 126.75h6.0075v6.27h-6.0075zM283.82 133.02h6.0075v6.27h-6.0075zM283.82 139.29h6.0075v6.27h-6.0075zM283.82 145.56h6.0075v6.27h-6.0075zM283.82 151.83h6.0075v6.27h-6.0075zM283.82 170.64h6.0075v6.27h-6.0075zM283.82 176.91h6.0075v6.27h-6.0075zM283.82 183.18h6.0075v6.27h-6.0075zM283.82 189.45h6.0075v6.27h-6.0075zM283.82 195.72h6.0075v6.27h-6.0075zM283.82 201.99h6.0075v6.27h-6.0075zM283.82 208.26h6.0075v6.27h-6.0075zM283.82 214.53h6.0075v6.27h-6.0075zM283.82 220.80h6.0075v6.27h-6.0075zM283.82 227.07h6.0075v6.27h-6.0075zM283.82 233.34h6.0075v6.27h-6.0075zM283.82 239.61h6.0075v6.27h-6.0075zM289.83 120.48h6.0075v6.27h-6.0075zM289.83 126.75h6.0075v6.27h-6.0075zM289.83 133.02h6.0075v6.27h-6.0075zM289.83 139.29h6.0075v6.27h-6.0075zM289.83 145.56h6.0075v6.27h-6.0075zM289.83 151.83h6.0075v6.27h-6.0075zM289.83 164.37h6.0075v6.27h-6.0075zM289.83 170.64h6.0075v6.27h-6.0075zM289.83 176.91h6.0075v6.27h-6.0075zM289.83 183.18h6.0075v6.27h-6.0075zM289.83 189.45h6.0075v6.27h-6.0075zM289.83 195.72h6.0075v6.27h-6.0075zM289.83 201.99h6.0075v6.27h-6.0075zM289.83 208.26h6.0075v6.27h-6.0075zM289.83 214.53h6.0075v6.27h-6.0075zM289.83 220.80h6.0075v6.27h-6.0075zM289.83 227.07h6.0075v6.27h-6.0075zM295.84 120.48h6.0075v6.27h-6.0075zM295.84 126.75h6.0075v6.27h-6.0075zM295.84 133.02h6.0075v6.27h-6.0075zM295.84 139.29h6.0075v6.27h-6.0075zM295.84 145.56h6.0075v6.27h-6.0075zM295.84 151.83h6.0075v6.27h-6.0075zM295.84 158.10h6.0075v6.27h-6.0075zM295.84 164.37h6.0075v6.27h-6.0075zM295.84 170.64h6.0075v6.27h-6.0075zM295.84 176.91h6.0075v6.27h-6.0075zM295.84 183.18h6.0075v6.27h-6.0075zM295.84 189.45h6.0075v6.27h-6.0075zM295.84 195.72h6.0075v6.27h-6.0075zM295.84 201.99h6.0075v6.27h-6.0075zM295.84 208.26h6.0075v6.27h-6.0075zM295.84 214.53h6.0075v6.27h-6.0075zM295.84 220.80h6.0075v6.27h-6.0075zM295.84 227.07h6.0075v6.27h-6.0075zM295.84 233.34h6.0075v6.27h-6.0075zM301.85 114.21h6.0075v6.27h-6.0075zM301.85 120.48h6.0075v6.27h-6.0075zM301.85 126.75h6.0075v6.27h-6.0075zM301.85 133.02h6.0075v6.27h-6.0075zM301.85 139.29h6.0075v6.27h-6.0075zM301.85 145.56h6.0075v6.27h-6.0075zM301.85 151.83h6.0075v6.27h-6.0075zM301.85 158.10h6.0075v6.27h-6.0075zM301.85 164.37h6.0075v6.27h-6.0075zM301.85 170.64h6.0075v6.27h-6.0075zM301.85 176.91h6.0075v6.27h-6.0075zM301.85 183.18h6.0075v6.27h-6.0075zM301.85 189.45h6.0075v6.27h-6.0075zM301.85 195.72h6.0075v6.27h-6.0075zM301.85 201.99h6.0075v6.27h-6.0075zM301.85 214.53h6.0075v6.27h-6.0075zM301.85 220.80h6.0075v6.27h-6.0075zM301.85 227.07h6.0075v6.27h-6.0075zM301.85 233.34h6.0075v6.27h-6.0075zM307.86 107.94h6.0075v6.27h-6.0075zM307.86 114.21h6.0075v6.27h-6.0075zM307.86 120.48h6.0075v6.27h-6.0075zM307.86 126.75h6.0075v6.27h-6.0075zM307.86 133.02h6.0075v6.27h-6.0075zM307.86 139.29h6.0075v6.27h-6.0075zM307.86 145.56h6.0075v6.27h-6.0075zM307.86 151.83h6.0075v6.27h-6.0075zM307.86 164.37h6.0075v6.27h-6.0075zM307.86 170.64h6.0075v6.27h-6.0075zM307.86 183.18h6.0075v6.27h-6.0075zM307.86 189.45h6.0075v6.27h-6.0075zM307.86 195.72h6.0075v6.27h-6.0075zM307.86 201.99h6.0075v6.27h-6.0075zM307.86 208.26h6.0075v6.27h-6.0075zM307.86 214.53h6.0075v6.27h-6.0075zM307.86 220.80h6.0075v6.27h-6.0075zM307.86 227.07h6.0075v6.27h-6.0075zM313.86 107.94h6.0075v6.27h-6.0075zM313.86 114.21h6.0075v6.27h-6.0075zM313.86 120.48h6.0075v6.27h-6.0075zM313.86 126.75h6.0075v6.27h-6.0075zM313.86 133.02h6.0075v6.27h-6.0075zM313.86 139.29h6.0075v6.27h-6.0075zM313.86 145.56h6.0075v6.27h-6.0075zM313.86 151.83h6.0075v6.27h-6.0075zM313.86 158.10h6.0075v6.27h-6.0075zM313.86 164.37h6.0075v6.27h-6.0075zM313.86 170.64h6.0075v6.27h-6.0075zM313.86 183.18h6.0075v6.27h-6.0075zM313.86 189.45h6.0075v6.27h-6.0075zM313.86 195.72h6.0075v6.27h-6.0075zM313.86 201.99h6.0075v6.27h-6.0075zM313.86 208.26h6.0075v6.27h-6.0075zM313.86 220.80h6.0075v6.27h-6.0075zM319.87 114.21h6.0075v6.27h-6.0075zM319.87 120.48h6.0075v6.27h-6.0075zM319.87 126.75h6.0075v6.27h-6.0075zM319.87 133.02h6.0075v6.27h-6.0075zM319.87 139.29h6.0075v6.27h-6.0075zM319.87 145.56h6.0075v6.27h-6.0075zM319.87 151.83h6.0075v6.27h-6.0075zM319.87 158.10h6.0075v6.27h-6.0075zM319.87 164.37h6.0075v6.27h-6.0075zM319.87 170.64h6.0075v6.27h-6.0075zM319.87 176.91h6.0075v6.27h-6.0075zM319.87 183.18h6.0075v6.27h-6.0075zM319.87 189.45h6.0075v6.27h-6.0075zM319.87 195.72h6.0075v6.27h-6.0075zM319.87 201.99h6.0075v6.27h-6.0075zM319.87 208.26h6.0075v6.27h-6.0075zM319.87 220.80h6.0075v6.27h-6.0075zM325.88 133.02h6.0075v6.27h-6.0075zM325.88 139.29h6.0075v6.27h-6.0075zM325.88 145.56h6.0075v6.27h-6.0075zM325.88 151.83h6.0075v6.27h-6.0075zM325.88 158.10h6.0075v6.27h-6.0075zM325.88 183.18h6.0075v6.27h-6.0075zM325.88 189.45h6.0075v6.27h-6.0075zM325.88 195.72h6.0075v6.27h-6.0075zM325.88 201.99h6.0075v6.27h-6.0075zM325.88 208.26h6.0075v6.27h-6.0075zM325.88 214.53h6.0075v6.27h-6.0075zM331.88 133.02h6.0075v6.27h-6.0075zM331.88 139.29h6.0075v6.27h-6.0075zM331.88 145.56h6.0075v6.27h-6.0075zM331.88 151.83h6.0075v6.27h-6.0075zM331.88 158.10h6.0075v6.27h-6.0075zM331.88 164.37h6.0075v6.27h-6.0075zM331.88 176.91h6.0075v6.27h-6.0075zM331.88 183.18h6.0075v6.27h-6.0075zM331.88 189.45h6.0075v6.27h-6.0075zM331.88 195.72h6.0075v6.27h-6.0075zM331.88 201.99h6.0075v6.27h-6.0075zM331.88 208.26h6.0075v6.27h-6.0075zM337.89 133.02h6.0075v6.27h-6.0075zM337.89 139.29h6.0075v6.27h-6.0075zM337.89 145.56h6.0075v6.27h-6.0075zM337.89 151.83h6.0075v6.27h-6.0075zM337.89 158.10h6.0075v6.27h-6.0075zM337.89 164.37h6.0075v6.27h-6.0075zM337.89 183.18h6.0075v6.27h-6.0075zM337.89 201.99h6.0075v6.27h-6.0075zM343.90 145.56h6.0075v6.27h-6.0075zM343.90 151.83h6.0075v6.27h-6.0075zM343.90 158.10h6.0075v6.27h-6.0075zM343.90 164.37h6.0075v6.27h-6.0075zM343.90 170.64h6.0075v6.27h-6.0075zM349.91 145.56h6.0075v6.27h-6.0075zM349.91 151.83h6.0075v6.27h-6.0075zM349.91 158.10h6.0075v6.27h-6.0075zM349.91 164.37h6.0075v6.27h-6.0075zM349.91 170.64h6.0075v6.27h-6.0075zM349.91 176.91h6.0075v6.27h-6.0075zM355.92 145.56h6.0075v6.27h-6.0075zM355.92 151.83h6.0075v6.27h-6.0075zM355.92 158.10h6.0075v6.27h-6.0075zM355.92 164.37h6.0075v6.27h-6.0075zM355.92 170.64h6.0075v6.27h-6.0075zM355.92 176.91h6.0075v6.27h-6.0075zM361.92 145.56h6.0075v6.27h-6.0075zM361.92 151.83h6.0075v6.27h-6.0075zM361.92 158.10h6.0075v6.27h-6.0075zM361.92 164.37h6.0075v6.27h-6.0075zM361.92 170.64h6.0075v6.27h-6.0075zM361.92 214.53h6.0075v6.27h-6.0075zM367.93 151.83h6.0075v6.27h-6.0075zM367.93 158.10h6.0075v6.27h-6.0075zM367.93 164.37h6.0075v6.27h-6.0075zM367.93 170.64h6.0075v6.27h-6.0075zM367.93 176.91h6.0075v6.27h-6.0075zM367.93 189.45h6.0075v6.27h-6.0075zM367.93 214.53h6.0075v6.27h-6.0075zM373.94 145.56h6.0075v6.27h-6.0075zM373.94 151.83h6.0075v6.27h-6.0075zM373.94 158.10h6.0075v6.27h-6.0075zM373.94 164.37h6.0075v6.27h-6.0075zM373.94 170.64h6.0075v6.27h-6.0075zM373.94 176.91h6.0075v6.27h-6.0075zM373.94 189.45h6.0075v6.27h-6.0075zM373.94 214.53h6.0075v6.27h-6.0075zM379.94 145.56h6.0075v6.27h-6.0075zM379.94 151.83h6.0075v6.27h-6.0075zM379.94 158.10h6.0075v6.27h-6.0075zM379.94 164.37h6.0075v6.27h-6.0075zM379.94 170.64h6.0075v6.27h-6.0075zM379.94 176.91h6.0075v6.27h-6.0075zM379.94 183.18h6.0075v6.27h-6.0075zM385.95 145.56h6.0075v6.27h-6.0075zM385.95 151.83h6.0075v6.27h-6.0075zM385.95 158.10h6.0075v6.27h-6.0075zM385.95 164.37h6.0075v6.27h-6.0075zM385.95 170.64h6.0075v6.27h-6.0075zM385.95 176.91h6.0075v6.27h-6.0075zM385.95 183.18h6.0075v6.27h-6.0075zM385.95 189.45h6.0075v6.27h-6.0075zM391.96 145.56h6.0075v6.27h-6.0075zM391.96 151.83h6.0075v6.27h-6.0075zM391.96 158.10h6.0075v6.27h-6.0075zM391.96 164.37h6.0075v6.27h-6.0075zM391.96 170.64h6.0075v6.27h-6.0075zM391.96 176.91h6.0075v6.27h-6.0075zM391.96 183.18h6.0075v6.27h-6.0075zM391.96 189.45h6.0075v6.27h-6.0075zM391.96 214.53h6.0075v6.27h-6.0075zM397.97 151.83h6.0075v6.27h-6.0075zM397.97 158.10h6.0075v6.27h-6.0075zM397.97 164.37h6.0075v6.27h-6.0075zM397.97 170.64h6.0075v6.27h-6.0075zM397.97 176.91h6.0075v6.27h-6.0075zM403.98 151.83h6.0075v6.27h-6.0075zM403.98 170.64h6.0075v6.27h-6.0075zM403.98 176.91h6.0075v6.27h-6.0075zM409.98 151.83h6.0075v6.27h-6.0075z" fill="#ffffff" stroke="#6e6e6e" stroke-width="0.7"/>
<path d="M163.68 145.56h6.0075v6.27h-6.0075zM253.79 214.53h6.0075v6.27h-6.0075zM259.80 208.26h6.0075v6.27h-6.0075zM265.80 114.21h6.0075v6.27h-6.0075zM283.82 158.10h6.0075v6.27h-6.0075zM283.82 164.37h6.0075v6.27h-6.0075zM289.83 233.34h6.0075v6.27h-6.0075zM301.85 208.26h6.0075v6.27h-6.0075zM313.86 214.53h6.0075v6.27h-6.0075zM319.87 214.53h6.0075v6.27h-6.0075zM325.88 176.91h6.0075v6.27h-6.0075zM337.89 189.45h6.0075v6.27h-6.0075zM367.93 208.26h6.0075v6.27h-6.0075zM403.98 208.26h6.0075v6.27h-6.0075z" fill="#e0e0e0" stroke="#6e6e6e" stroke-width="0.7"/>
<path d="M127.63 145.56h6.0075v6.27h-6.0075zM163.68 183.18h6.0075v6.27h-6.0075zM289.83 158.10h6.0075v6.27h-6.0075zM325.88 170.64h6.0075v6.27h-6.0075zM337.89 170.64h6.0075v6.27h-6.0075zM337.89 176.91h6.0075v6.27h-6.0075zM337.89 195.72h6.0075v6.27h-6.0075zM343.90 176.91h6.0075v6.27h-6.0075zM343.90 183.18h6.0075v6.27h-6.0075zM355.92 183.18h6.0075v6.27h-6.0075zM361.92 176.91h6.0075v6.27h-6.0075zM367.93 183.18h6.0075v6.27h-6.0075zM367.93 201.99h6.0075v6.27h-6.0075zM373.94 183.18h6.0075v6.27h-6.0075zM379.94 189.45h6.0075v6.27h-6.0075zM391.96 195.72h6.0075v6.27h-6.0075zM397.97 214.53h6.0075v6.27h-6.0075zM403.98 164.37h6.0075v6.27h-6.0075zM403.98 214.53h6.0075v6.27h-6.0075z" fill="#b4b4b4" stroke="#6e6e6e" stroke-width="0.7"/>
<path d="M247.78 214.53h6.0075v6.27h-6.0075zM247.78 220.80h6.0075v6.27h-6.0075zM247.78 227.07h6.0075v6.27h-6.0075zM253.79 220.80h6.0075v6.27h-6.0075zM271.81 220.80h6.0075v6.27h-6.0075zM277.82 220.80h6.0075v6.27h-6.0075zM307.86 158.10h6.0075v6.27h-6.0075zM307.86 176.91h6.0075v6.27h-6.0075zM313.86 176.91h6.0075v6.27h-6.0075zM325.88 164.37h6.0075v6.27h-6.0075zM331.88 170.64h6.0075v6.27h-6.0075zM343.90 189.45h6.0075v6.27h-6.0075zM343.90 195.72h6.0075v6.27h-6.0075zM343.90 201.99h6.0075v6.27h-6.0075zM349.91 183.18h6.0075v6.27h-6.0075zM349.91 189.45h6.0075v6.27h-6.0075zM349.91 195.72h6.0075v6.27h-6.0075zM349.91 201.99h6.0075v6.27h-6.0075zM355.92 189.45h6.0075v6.27h-6.0075zM355.92 195.72h6.0075v6.27h-6.0075zM355.92 201.99h6.0075v6.27h-6.0075zM361.92 183.18h6.0075v6.27h-6.0075zM361.92 189.45h6.0075v6.27h-6.0075zM361.92 195.72h6.0075v6.27h-6.0075zM361.92 201.99h6.0075v6.27h-6.0075zM367.93 195.72h6.0075v6.27h-6.0075zM373.94 195.72h6.0075v6.27h-6.0075zM373.94 201.99h6.0075v6.27h-6.0075zM373.94 208.26h6.0075v6.27h-6.0075zM379.94 195.72h6.0075v6.27h-6.0075zM379.94 201.99h6.0075v6.27h-6.0075zM379.94 208.26h6.0075v6.27h-6.0075zM385.95 195.72h6.0075v6.27h-6.0075zM385.95 201.99h6.0075v6.27h-6.0075zM385.95 208.26h6.0075v6.27h-6.0075zM391.96 201.99h6.0075v6.27h-6.0075zM391.96 208.26h6.0075v6.27h-6.0075zM397.97 195.72h6.0075v6.27h-6.0075zM397.97 201.99h6.0075v6.27h-6.0075zM397.97 208.26h6.0075v6.27h-6.0075zM409.98 164.37h6.0075v6.27h-6.0075z" fill="#404040" stroke="#6e6e6e" stroke-width="0.7"/>
<path d="M86.4 103.5L86.9 101.8L89.4 100.9L91.4 96.8L92.7 94.8L96.9 93.1L98.5 90.4L101.0 89.8L102.4 90.4L103.2 93.8L106.9 93.1L109.4 90.1L111.9 87.6L115.2 86.4L119.7 86.3L125.2 86.8L126.9 88.4L128.1 91.4L131.1 92.1L133.6 92.1L135.8 89.3L138.1 86.8L140.3 84.3L143.3 83.8L140.3 80.9L138.1 81.8L136.1 85.9L134.4 85.9L134.1 82.6L134.8 79.2L132.8 77.6L131.9 74.7L133.1 70.1L134.1 65.1L138.6 63.9L141.9 64.2L146.9 63.1L148.1 65.1L148.1 69.2L150.3 71.7L152.0 75.1L153.6 79.2L155.8 82.1L158.6 83.1L161.1 81.8L163.6 78.7L167.0 76.7L169.5 73.7L173.7 73.1L176.2 71.7L180.8 70.1L182.8 71.7L185.3 73.7L188.7 73.7L192.0 71.7L194.5 68.7L196.2 67.6L199.5 67.1L202.9 65.9L200.0 67.6L202.5 66.7L205.8 65.1L207.5 61.7L210.0 58.4L212.5 56.4L215.9 55.0L216.7 51.7L215.9 48.4L216.7 45.0L215.4 42.5L216.7 39.2L217.5 36.3L220.9 37.5L225.0 39.2L229.2 40.4L232.6 41.7L234.2 44.2L235.9 47.5L237.6 50.9L240.1 53.4L241.7 56.7L243.7 59.7L245.4 63.4L247.6 67.1L250.1 70.1L252.6 72.6L254.3 74.7L256.8 73.1L259.3 74.2L262.6 74.7L266.8 74.2L270.9 73.7L273.5 71.7L276.0 73.1L277.1 76.7L278.1 80.9L280.1 83.8L281.5 87.6L281.0 91.8L278.5 95.1L276.5 98.4L274.8 101.8L274.3 105.1L276.0 107.6L278.5 111.0L281.8 114.3L284.3 116.8L287.6 119.3L290.0 120.4L293.3 119.7L296.7 119.2L300.0 117.1L304.2 115.0L307.5 112.5L310.0 110.9L308.7 108.7L310.0 110.9L311.7 108.4L315.0 107.5L318.4 110.0L319.2 114.2L320.9 115.9L323.4 116.7L325.9 117.6L328.7 118.4L329.2 120.9L327.1 123.4L327.6 127.6L328.7 130.1L331.7 130.9L334.2 132.6L337.6 134.2L340.9 135.1L343.4 136.4L345.9 137.6L345.1 140.9L345.4 144.3L347.6 146.4L350.9 146.8L355.9 145.4L360.1 146.4L363.5 147.1L367.6 146.8L369.8 148.1L371.5 149.8L373.5 147.6L376.8 147.6L383.5 148.1L390.2 148.4L398.5 148.9L406.9 149.4L413.5 149.8L420.5 150.4L419.7 158.8L412.7 158.6L412.2 161.0L405.2 160.6L405.0 166.6L407.9 166.3L411.4 165.5L415.7 165.8L415.9 170.1L413.9 172.0L410.0 173.8L408.2 176.3L410.0 179.0L409.5 181.7L405.2 183.3L400.8 182.5L396.0 182.2L395.0 184.7L394.4 185.0L396.0 187.1L395.5 190.3L396.5 193.4L398.6 196.1L402.3 198.2L404.4 201.8L406.0 206.1L407.1 210.3L407.6 214.5L407.1 218.7L404.9 221.3L402.8 222.4L401.8 220.8L399.7 220.8L397.6 221.3L394.4 220.3L391.3 219.7L388.1 218.7L386.0 216.6L384.4 214.5L382.8 213.6L380.7 215.0L379.7 217.1L379.5 219.7L380.7 221.8L383.4 223.1L386.0 223.7L389.2 224.6L392.3 225.6L395.5 225.2L398.6 226.6L401.8 228.2L404.9 229.7L406.5 231.8L408.1 233.9L410.7 235.7L408.1 234.5L403.9 231.6L399.7 229.0L395.5 226.9L391.3 224.9L387.1 223.4L382.8 222.3L378.6 221.4L374.4 220.8L370.2 220.3L366.0 219.9L361.8 219.7L358.6 219.5L355.5 219.3L351.3 218.9L347.1 218.7L342.8 218.9L338.6 219.5L334.4 220.3L330.2 221.3L327.1 222.1L326.0 223.4L321.7 225.1L317.5 228.4L313.4 230.9L311.7 233.4L307.5 235.9L303.4 237.6L298.3 239.3L293.3 241.0L290.0 242.6L302.1 238.1L298.6 239.3L294.4 240.4L290.2 241.8L286.1 243.4L282.7 245.1L278.5 246.5L274.4 248.1L270.2 249.8L266.0 251.8L261.8 253.8L258.5 255.6L255.2 257.1L251.8 258.5L248.5 259.3L243.5 259.5L238.5 259.3L234.3 260.1L231.8 261.5L228.5 261.8L225.1 261.3L221.8 259.8L216.8 258.0L212.6 256.5L208.4 255.5L204.3 254.3L200.9 252.6L197.6 251.0L194.2 249.6L190.9 247.6L187.6 245.1L184.2 243.1L180.9 241.8L177.5 240.9L174.2 240.4L170.0 239.8L165.9 240.1L161.7 239.8L157.5 238.9L156.3 238.6L153.8 236.7L152.3 234.7L150.6 236.2L146.5 236.7L141.8 237.2L138.0 237.5L135.1 235.7L130.1 232.7L125.1 229.3L120.1 226.0L115.1 222.6L110.9 220.1L106.7 218.0L101.7 216.0L95.9 214.8L90.0 213.8L84.2 213.1L82.5 211.0L84.2 208.5L90.0 207.6L93.4 205.9L95.9 203.4L96.7 199.3L95.1 197.6L94.2 193.4L96.7 192.6L101.7 192.6L105.9 190.9L106.4 186.8L106.7 182.6L110.9 180.9L114.3 178.4L115.9 175.1L116.8 170.9L115.4 166.7L115.1 163.0L118.4 160.0L121.4 157.5L117.6 154.7L111.8 152.5L106.4 151.4L105.4 148.4L105.9 144.2L103.4 142.0L99.7 140.8L100.1 137.5L98.4 135.0L99.4 130.2L97.7 126.0L96.9 121.0L95.2 116.8L92.7 113.5L91.0 110.1L87.7 108.5L86.0 106.0ZM334.9 213.4L336.5 211.3L339.2 209.7L341.3 207.1L343.4 205.0L346.5 203.9L349.7 203.7L351.3 205.5L351.8 207.6L353.4 209.7L354.6 211.3L353.6 213.4L351.3 214.7L348.6 215.5L346.0 216.6L341.8 216.8L337.6 216.4L335.5 215.0ZM357.6 219.2L359.2 217.1L357.6 215.0L357.4 212.9L358.6 210.8L360.7 209.2L363.4 208.7L366.0 209.0L368.1 210.8L368.6 212.6L367.6 214.5L364.9 216.1L362.3 217.1L359.7 218.5ZM334.9 213.9L332.3 216.6L331.3 218.2L334.4 217.6L337.6 217.6L347.1 218.5L355.5 219.2" fill="none" stroke="#000" stroke-width="1.4" stroke-linejoin="round"/>
<path d="M140.0 236.9L144.7 236.2L150.5 235.7L152.1 234.3L154.2 236.1L155.5 237.6L150.0 237.9L144.7 237.9Z" fill="#000"/>
<rect x="309.5" y="26" width="67.5" height="87.4" fill="#fff"/>
<text y="47.3" font-size="10.6"><tspan x="316.3">P</tspan><tspan x="327.6" font-size="11">&#950;</tspan><tspan x="336.3">&gt;</tspan><tspan x="345.6">8</tspan><tspan x="354.40">y</tspan></text>
<path d="M326.6 37.6Q321.6 44.2 326.6 50.8" fill="none" stroke="#111" stroke-width="0.95"/>
<path d="M361.20 37.6Q366.20 44.2 361.20 50.8" fill="none" stroke="#111" stroke-width="0.95"/>
<path d="M352.90 36.4V51.2" stroke="#555" stroke-width="0.9"/>
<rect x="316.2" y="59.00" width="11.6" height="11.95" fill="#ffffff" stroke="#6e6e6e" stroke-width="0.7"/>
<text x="334.2" y="68.80" font-size="8.8" fill="#1a1a1a">[0,0.25]</text>
<rect x="316.2" y="70.95" width="11.6" height="11.95" fill="#e0e0e0" stroke="#6e6e6e" stroke-width="0.7"/>
<text x="334.2" y="80.75" font-size="8.8" fill="#1a1a1a">(0.25,0.5]</text>
<rect x="316.2" y="82.90" width="11.6" height="11.95" fill="#b4b4b4" stroke="#6e6e6e" stroke-width="0.7"/>
<text x="334.2" y="92.70" font-size="8.8" fill="#1a1a1a">(0.5,0.75]</text>
<rect x="316.2" y="94.85" width="11.6" height="11.95" fill="#404040" stroke="#6e6e6e" stroke-width="0.7"/>
<text x="334.2" y="104.65" font-size="8.8" fill="#1a1a1a">(0.75,1]</text>
<path d="M416.7 29.2L401.8 55.6L416.7 43.6Z" fill="#fff" stroke="#000" stroke-width="0.8" stroke-linejoin="miter"/>
<path d="M416.7 29.2L431.6 55.6L416.7 43.6Z" fill="#000" stroke="#000" stroke-width="0.8"/>
<text x="416.7" y="58.6" font-size="7.8" text-anchor="middle">N</text>
<rect x="70.10" y="262.6" width="13.6" height="5.2" fill="#000" stroke="#000" stroke-width="0.5"/>
<rect x="83.70" y="262.6" width="13.6" height="5.2" fill="#fff" stroke="#000" stroke-width="0.5"/>
<rect x="97.30" y="262.6" width="13.6" height="5.2" fill="#000" stroke="#000" stroke-width="0.5"/>
<rect x="110.90" y="262.6" width="13.6" height="5.2" fill="#fff" stroke="#000" stroke-width="0.5"/>
<rect x="124.50" y="262.6" width="13.6" height="5.2" fill="#000" stroke="#000" stroke-width="0.5"/>
<text x="141.8" y="267.5" font-size="5.9">100 km</text>
<rect x="65.25" y="24.4" width="372.0" height="247.99999999999997" fill="none" stroke="#666" stroke-width="1"/>
<text x="121.90" y="284.4" font-size="8.8" fill="#4d4d4d" text-anchor="middle">98&#176;W</text>
<text x="193.99" y="284.4" font-size="8.8" fill="#4d4d4d" text-anchor="middle">97&#176;W</text>
<text x="266.08" y="284.4" font-size="8.8" fill="#4d4d4d" text-anchor="middle">96&#176;W</text>
<text x="338.17" y="284.4" font-size="8.8" fill="#4d4d4d" text-anchor="middle">95&#176;W</text>
<text x="410.26" y="284.4" font-size="8.8" fill="#4d4d4d" text-anchor="middle">94&#176;W</text>
<text x="60" y="238.55" font-size="8.8" fill="#4d4d4d" text-anchor="end">16.0&#176;N</text>
<text x="60" y="200.92" font-size="8.8" fill="#4d4d4d" text-anchor="end">16.5&#176;N</text>
<text x="60" y="163.29" font-size="8.8" fill="#4d4d4d" text-anchor="end">17.0&#176;N</text>
<text x="60" y="125.66" font-size="8.8" fill="#4d4d4d" text-anchor="end">17.5&#176;N</text>
<text x="60" y="88.03" font-size="8.8" fill="#4d4d4d" text-anchor="end">18.0&#176;N</text>
<text x="60" y="50.40" font-size="8.8" fill="#4d4d4d" text-anchor="end">18.5&#176;N</text>
<path d="M121.90 272.4v2.8M193.99 272.4v2.8M266.08 272.4v2.8M338.17 272.4v2.8M410.26 272.4v2.8M65.25 235.25h-2.8M65.25 197.62h-2.8M65.25 159.99h-2.8M65.25 122.36h-2.8M65.25 84.73h-2.8M65.25 47.10h-2.8" stroke="#555" stroke-width="1" fill="none"/>
<text x="251.25" y="297.4" font-size="11" text-anchor="middle">Longitude</text>
<text transform="translate(27.5,148.4) rotate(-90)" font-size="11" text-anchor="middle">Latitude</text>
</g>
<g transform="translate(456,305)">
<text x="65.3" y="15.6" font-size="13.2">d)</text>
<path d="M121.90 24.4V272.4M193.99 24.4V272.4M266.08 24.4V272.4M338.17 24.4V272.4M410.26 24.4V272.4M65.25 235.25H437.25M65.25 197.62H437.25M65.25 159.99H437.25M65.25 122.36H437.25M65.25 84.73H437.25M65.25 47.10H437.25" stroke="#ebebeb" stroke-width="0.9" fill="none"/>
<path d="M85.58 101.67h6.0075v6.27h-6.0075zM85.58 208.26h6.0075v6.27h-6.0075zM91.58 95.40h6.0075v6.27h-6.0075zM91.58 101.67h6.0075v6.27h-6.0075zM91.58 107.94h6.0075v6.27h-6.0075zM91.58 201.99h6.0075v6.27h-6.0075zM91.58 208.26h6.0075v6.27h-6.0075zM97.59 89.13h6.0075v6.27h-6.0075zM97.59 95.40h6.0075v6.27h-6.0075zM97.59 101.67h6.0075v6.27h-6.0075zM97.59 107.94h6.0075v6.27h-6.0075zM97.59 114.21h6.0075v6.27h-6.0075zM97.59 120.48h6.0075v6.27h-6.0075zM97.59 126.75h6.0075v6.27h-6.0075zM97.59 133.02h6.0075v6.27h-6.0075zM97.59 195.72h6.0075v6.27h-6.0075zM97.59 201.99h6.0075v6.27h-6.0075zM97.59 208.26h6.0075v6.27h-6.0075zM103.60 95.40h6.0075v6.27h-6.0075zM103.60 101.67h6.0075v6.27h-6.0075zM103.60 107.94h6.0075v6.27h-6.0075zM103.60 114.21h6.0075v6.27h-6.0075zM103.60 120.48h6.0075v6.27h-6.0075zM103.60 126.75h6.0075v6.27h-6.0075zM103.60 133.02h6.0075v6.27h-6.0075zM103.60 139.29h6.0075v6.27h-6.0075zM103.60 145.56h6.0075v6.27h-6.0075zM103.60 183.18h6.0075v6.27h-6.0075zM103.60 189.45h6.0075v6.27h-6.0075zM103.60 195.72h6.0075v6.27h-6.0075zM103.60 201.99h6.0075v6.27h-6.0075zM103.60 208.26h6.0075v6.27h-6.0075zM103.60 214.53h6.0075v6.27h-6.0075zM109.61 89.13h6.0075v6.27h-6.0075zM109.61 95.40h6.0075v6.27h-6.0075zM109.61 101.67h6.0075v6.27h-6.0075zM109.61 107.94h6.0075v6.27h-6.0075zM109.61 114.21h6.0075v6.27h-6.0075zM109.61 120.48h6.0075v6.27h-6.0075zM109.61 126.75h6.0075v6.27h-6.0075zM109.61 133.02h6.0075v6.27h-6.0075zM109.61 139.29h6.0075v6.27h-6.0075zM109.61 145.56h6.0075v6.27h-6.0075zM109.61 176.91h6.0075v6.27h-6.0075zM109.61 183.18h6.0075v6.27h-6.0075zM109.61 189.45h6.0075v6.27h-6.0075zM109.61 195.72h6.0075v6.27h-6.0075zM109.61 201.99h6.0075v6.27h-6.0075zM109.61 208.26h6.0075v6.27h-6.0075zM109.61 214.53h6.0075v6.27h-6.0075zM115.61 89.13h6.0075v6.27h-6.0075zM115.61 95.40h6.0075v6.27h-6.0075zM115.61 101.67h6.0075v6.27h-6.0075zM115.61 107.94h6.0075v6.27h-6.0075zM115.61 114.21h6.0075v6.27h-6.0075zM115.61 120.48h6.0075v6.27h-6.0075zM115.61 126.75h6.0075v6.27h-6.0075zM115.61 133.02h6.0075v6.27h-6.0075zM115.61 139.29h6.0075v6.27h-6.0075zM115.61 145.56h6.0075v6.27h-6.0075zM115.61 151.83h6.0075v6.27h-6.0075zM115.61 158.10h6.0075v6.27h-6.0075zM115.61 164.37h6.0075v6.27h-6.0075zM115.61 170.64h6.0075v6.27h-6.0075zM115.61 176.91h6.0075v6.27h-6.0075zM115.61 183.18h6.0075v6.27h-6.0075zM115.61 189.45h6.0075v6.27h-6.0075zM115.61 195.72h6.0075v6.27h-6.0075zM115.61 201.99h6.0075v6.27h-6.0075zM115.61 208.26h6.0075v6.27h-6.0075zM115.61 214.53h6.0075v6.27h-6.0075zM115.61 220.80h6.0075v6.27h-6.0075zM121.62 89.13h6.0075v6.27h-6.0075zM121.62 95.40h6.0075v6.27h-6.0075zM121.62 101.67h6.0075v6.27h-6.0075zM121.62 107.94h6.0075v6.27h-6.0075zM121.62 114.21h6.0075v6.27h-6.0075zM121.62 120.48h6.0075v6.27h-6.0075zM121.62 126.75h6.0075v6.27h-6.0075zM121.62 133.02h6.0075v6.27h-6.0075zM121.62 139.29h6.0075v6.27h-6.0075zM121.62 145.56h6.0075v6.27h-6.0075zM121.62 151.83h6.0075v6.27h-6.0075zM121.62 158.10h6.0075v6.27h-6.0075zM121.62 164.37h6.0075v6.27h-6.0075zM121.62 170.64h6.0075v6.27h-6.0075zM121.62 176.91h6.0075v6.27h-6.0075zM121.62 183.18h6.0075v6.27h-6.0075zM121.62 189.45h6.0075v6.27h-6.0075zM121.62 195.72h6.0075v6.27h-6.0075zM121.62 201.99h6.0075v6.27h-6.0075zM121.62 208.26h6.0075v6.27h-6.0075zM121.62 214.53h6.0075v6.27h-6.0075zM121.62 220.80h6.0075v6.27h-6.0075zM127.63 89.13h6.0075v6.27h-6.0075zM127.63 95.40h6.0075v6.27h-6.0075zM127.63 101.67h6.0075v6.27h-6.0075zM127.63 107.94h6.0075v6.27h-6.0075zM127.63 114.21h6.0075v6.27h-6.0075zM127.63 120.48h6.0075v6.27h-6.0075zM127.63 126.75h6.0075v6.27h-6.0075zM127.63 133.02h6.0075v6.27h-6.0075zM127.63 139.29h6.0075v6.27h-6.0075zM127.63 145.56h6.0075v6.27h-6.0075zM127.63 151.83h6.0075v6.27h-6.0075zM127.63 158.10h6.0075v6.27h-6.0075zM127.63 164.37h6.0075v6.27h-6.0075zM127.63 170.64h6.0075v6.27h-6.0075zM127.63 176.91h6.0075v6.27h-6.0075zM127.63 183.18h6.0075v6.27h-6.0075zM127.63 189.45h6.0075v6.27h-6.0075zM127.63 195.72h6.0075v6.27h-6.0075zM127.63 201.99h6.0075v6.27h-6.0075zM127.63 208.26h6.0075v6.27h-6.0075zM127.63 214.53h6.0075v6.27h-6.0075zM127.63 220.80h6.0075v6.27h-6.0075zM127.63 227.07h6.0075v6.27h-6.0075zM133.64 64.05h6.0075v6.27h-6.0075zM133.64 70.32h6.0075v6.27h-6.0075zM133.64 76.59h6.0075v6.27h-6.0075zM133.64 89.13h6.0075v6.27h-6.0075zM133.64 95.40h6.0075v6.27h-6.0075zM133.64 101.67h6.0075v6.27h-6.0075zM133.64 107.94h6.0075v6.27h-6.0075zM133.64 114.21h6.0075v6.27h-6.0075zM133.64 120.48h6.0075v6.27h-6.0075zM133.64 126.75h6.0075v6.27h-6.0075zM133.64 133.02h6.0075v6.27h-6.0075zM133.64 139.29h6.0075v6.27h-6.0075zM133.64 145.56h6.0075v6.27h-6.0075zM133.64 151.83h6.0075v6.27h-6.0075zM133.64 158.10h6.0075v6.27h-6.0075zM133.64 164.37h6.0075v6.27h-6.0075zM133.64 170.64h6.0075v6.27h-6.0075zM133.64 176.91h6.0075v6.27h-6.0075zM133.64 183.18h6.0075v6.27h-6.0075zM133.64 189.45h6.0075v6.27h-6.0075zM133.64 195.72h6.0075v6.27h-6.0075zM133.64 201.99h6.0075v6.27h-6.0075zM133.64 208.26h6.0075v6.27h-6.0075zM133.64 214.53h6.0075v6.27h-6.0075zM133.64 220.80h6.0075v6.27h-6.0075zM133.64 227.07h6.0075v6.27h-6.0075zM133.64 233.34h6.0075v6.27h-6.0075zM139.64 64.05h6.0075v6.27h-6.0075zM139.64 70.32h6.0075v6.27h-6.0075zM139.64 76.59h6.0075v6.27h-6.0075zM139.64 82.86h6.0075v6.27h-6.0075zM139.64 89.13h6.0075v6.27h-6.0075zM139.64 95.40h6.0075v6.27h-6.0075zM139.64 101.67h6.0075v6.27h-6.0075zM139.64 107.94h6.0075v6.27h-6.0075zM139.64 114.21h6.0075v6.27h-6.0075zM139.64 120.48h6.0075v6.27h-6.0075zM139.64 126.75h6.0075v6.27h-6.0075zM139.64 133.02h6.0075v6.27h-6.0075zM139.64 139.29h6.0075v6.27h-6.0075zM139.64 145.56h6.0075v6.27h-6.0075zM139.64 151.83h6.0075v6.27h-6.0075zM139.64 158.10h6.0075v6.27h-6.0075zM139.64 164.37h6.0075v6.27h-6.0075zM139.64 170.64h6.0075v6.27h-6.0075zM139.64 176.91h6.0075v6.27h-6.0075zM139.64 183.18h6.0075v6.27h-6.0075zM139.64 189.45h6.0075v6.27h-6.0075zM139.64 195.72h6.0075v6.27h-6.0075zM139.64 201.99h6.0075v6.27h-6.0075zM139.64 208.26h6.0075v6.27h-6.0075zM139.64 214.53h6.0075v6.27h-6.0075zM139.64 220.80h6.0075v6.27h-6.0075zM139.64 227.07h6.0075v6.27h-6.0075zM139.64 233.34h6.0075v6.27h-6.0075zM145.65 70.32h6.0075v6.27h-6.0075zM145.65 76.59h6.0075v6.27h-6.0075zM145.65 82.86h6.0075v6.27h-6.0075zM145.65 89.13h6.0075v6.27h-6.0075zM145.65 95.40h6.0075v6.27h-6.0075zM145.65 101.67h6.0075v6.27h-6.0075zM145.65 107.94h6.0075v6.27h-6.0075zM145.65 114.21h6.0075v6.27h-6.0075zM145.65 120.48h6.0075v6.27h-6.0075zM145.65 126.75h6.0075v6.27h-6.0075zM145.65 133.02h6.0075v6.27h-6.0075zM145.65 139.29h6.0075v6.27h-6.0075zM145.65 145.56h6.0075v6.27h-6.0075zM145.65 151.83h6.0075v6.27h-6.0075zM145.65 158.10h6.0075v6.27h-6.0075zM145.65 164.37h6.0075v6.27h-6.0075zM145.65 170.64h6.0075v6.27h-6.0075zM145.65 176.91h6.0075v6.27h-6.0075zM145.65 183.18h6.0075v6.27h-6.0075zM145.65 189.45h6.0075v6.27h-6.0075zM145.65 195.72h6.0075v6.27h-6.0075zM145.65 201.99h6.0075v6.27h-6.0075zM145.65 208.26h6.0075v6.27h-6.0075zM145.65 214.53h6.0075v6.27h-6.0075zM145.65 220.80h6.0075v6.27h-6.0075zM145.65 227.07h6.0075v6.27h-6.0075zM151.66 82.86h6.0075v6.27h-6.0075zM151.66 89.13h6.0075v6.27h-6.0075zM151.66 95.40h6.0075v6.27h-6.0075zM151.66 101.67h6.0075v6.27h-6.0075zM151.66 107.94h6.0075v6.27h-6.0075zM151.66 114.21h6.0075v6.27h-6.0075zM151.66 120.48h6.0075v6.27h-6.0075zM151.66 126.75h6.0075v6.27h-6.0075zM151.66 133.02h6.0075v6.27h-6.0075zM151.66 139.29h6.0075v6.27h-6.0075zM151.66 145.56h6.0075v6.27h-6.0075zM151.66 151.83h6.0075v6.27h-6.0075zM151.66 158.10h6.0075v6.27h-6.0075zM151.66 164.37h6.0075v6.27h-6.0075zM151.66 170.64h6.0075v6.27h-6.0075zM151.66 176.91h6.0075v6.27h-6.0075zM151.66 183.18h6.0075v6.27h-6.0075zM151.66 189.45h6.0075v6.27h-6.0075zM151.66 195.72h6.0075v6.27h-6.0075zM151.66 201.99h6.0075v6.27h-6.0075zM151.66 208.26h6.0075v6.27h-6.0075zM151.66 214.53h6.0075v6.27h-6.0075zM151.66 220.80h6.0075v6.27h-6.0075zM151.66 227.07h6.0075v6.27h-6.0075zM151.66 233.34h6.0075v6.27h-6.0075zM157.67 82.86h6.0075v6.27h-6.0075zM157.67 89.13h6.0075v6.27h-6.0075zM157.67 95.40h6.0075v6.27h-6.0075zM157.67 101.67h6.0075v6.27h-6.0075zM157.67 107.94h6.0075v6.27h-6.0075zM157.67 114.21h6.0075v6.27h-6.0075zM157.67 120.48h6.0075v6.27h-6.0075zM157.67 126.75h6.0075v6.27h-6.0075zM157.67 133.02h6.0075v6.27h-6.0075zM157.67 139.29h6.0075v6.27h-6.0075zM157.67 145.56h6.0075v6.27h-6.0075zM157.67 151.83h6.0075v6.27h-6.0075zM157.67 158.10h6.0075v6.27h-6.0075zM157.67 164.37h6.0075v6.27h-6.0075zM157.67 170.64h6.0075v6.27h-6.0075zM157.67 176.91h6.0075v6.27h-6.0075zM157.67 183.18h6.0075v6.27h-6.0075zM157.67 189.45h6.0075v6.27h-6.0075zM157.67 195.72h6.0075v6.27h-6.0075zM157.67 201.99h6.0075v6.27h-6.0075zM157.67 208.26h6.0075v6.27h-6.0075zM157.67 214.53h6.0075v6.27h-6.0075zM157.67 220.80h6.0075v6.27h-6.0075zM157.67 227.07h6.0075v6.27h-6.0075zM157.67 233.34h6.0075v6.27h-6.0075zM163.68 76.59h6.0075v6.27h-6.0075zM163.68 82.86h6.0075v6.27h-6.0075zM163.68 89.13h6.0075v6.27h-6.0075zM163.68 95.40h6.0075v6.27h-6.0075zM163.68 101.67h6.0075v6.27h-6.0075zM163.68 107.94h6.0075v6.27h-6.0075zM163.68 114.21h6.0075v6.27h-6.0075zM163.68 120.48h6.0075v6.27h-6.0075zM163.68 126.75h6.0075v6.27h-6.0075zM163.68 133.02h6.0075v6.27h-6.0075zM163.68 139.29h6.0075v6.27h-6.0075zM163.68 145.56h6.0075v6.27h-6.0075zM163.68 151.83h6.0075v6.27h-6.0075zM163.68 158.10h6.0075v6.27h-6.0075zM163.68 164.37h6.0075v6.27h-6.0075zM163.68 170.64h6.0075v6.27h-6.0075zM163.68 176.91h6.0075v6.27h-6.0075zM163.68 183.18h6.0075v6.27h-6.0075zM163.68 189.45h6.0075v6.27h-6.0075zM163.68 195.72h6.0075v6.27h-6.0075zM163.68 201.99h6.0075v6.27h-6.0075zM163.68 208.26h6.0075v6.27h-6.0075zM163.68 214.53h6.0075v6.27h-6.0075zM163.68 220.80h6.0075v6.27h-6.0075zM163.68 227.07h6.0075v6.27h-6.0075zM163.68 233.34h6.0075v6.27h-6.0075zM169.68 70.32h6.0075v6.27h-6.0075zM169.68 76.59h6.0075v6.27h-6.0075zM169.68 82.86h6.0075v6.27h-6.0075zM169.68 89.13h6.0075v6.27h-6.0075zM169.68 95.40h6.0075v6.27h-6.0075zM169.68 101.67h6.0075v6.27h-6.0075zM169.68 107.94h6.0075v6.27h-6.0075zM169.68 114.21h6.0075v6.27h-6.0075zM169.68 120.48h6.0075v6.27h-6.0075zM169.68 126.75h6.0075v6.27h-6.0075zM169.68 133.02h6.0075v6.27h-6.0075zM169.68 139.29h6.0075v6.27h-6.0075zM169.68 145.56h6.0075v6.27h-6.0075zM169.68 151.83h6.0075v6.27h-6.0075zM169.68 158.10h6.0075v6.27h-6.0075zM169.68 164.37h6.0075v6.27h-6.0075zM169.68 170.64h6.0075v6.27h-6.0075zM169.68 176.91h6.0075v6.27h-6.0075zM169.68 183.18h6.0075v6.27h-6.0075zM169.68 189.45h6.0075v6.27h-6.0075zM169.68 195.72h6.0075v6.27h-6.0075zM169.68 201.99h6.0075v6.27h-6.0075zM169.68 208.26h6.0075v6.27h-6.0075zM169.68 214.53h6.0075v6.27h-6.0075zM169.68 220.80h6.0075v6.27h-6.0075zM169.68 227.07h6.0075v6.27h-6.0075zM169.68 233.34h6.0075v6.27h-6.0075zM175.69 70.32h6.0075v6.27h-6.0075zM175.69 76.59h6.0075v6.27h-6.0075zM175.69 82.86h6.0075v6.27h-6.0075zM175.69 89.13h6.0075v6.27h-6.0075zM175.69 95.40h6.0075v6.27h-6.0075zM175.69 101.67h6.0075v6.27h-6.0075zM175.69 107.94h6.0075v6.27h-6.0075zM175.69 114.21h6.0075v6.27h-6.0075zM175.69 120.48h6.0075v6.27h-6.0075zM175.69 126.75h6.0075v6.27h-6.0075zM175.69 133.02h6.0075v6.27h-6.0075zM175.69 139.29h6.0075v6.27h-6.0075zM175.69 145.56h6.0075v6.27h-6.0075zM175.69 151.83h6.0075v6.27h-6.0075zM175.69 158.10h6.0075v6.27h-6.0075zM175.69 164.37h6.0075v6.27h-6.0075zM175.69 170.64h6.0075v6.27h-6.0075zM175.69 176.91h6.0075v6.27h-6.0075zM175.69 183.18h6.0075v6.27h-6.0075zM175.69 189.45h6.0075v6.27h-6.0075zM175.69 195.72h6.0075v6.27h-6.0075zM175.69 201.99h6.0075v6.27h-6.0075zM175.69 208.26h6.0075v6.27h-6.0075zM175.69 214.53h6.0075v6.27h-6.0075zM175.69 220.80h6.0075v6.27h-6.0075zM175.69 227.07h6.0075v6.27h-6.0075zM175.69 233.34h6.0075v6.27h-6.0075zM181.70 70.32h6.0075v6.27h-6.0075zM181.70 76.59h6.0075v6.27h-6.0075zM181.70 82.86h6.0075v6.27h-6.0075zM181.70 89.13h6.0075v6.27h-6.0075zM181.70 95.40h6.0075v6.27h-6.0075zM181.70 101.67h6.0075v6.27h-6.0075zM181.70 107.94h6.0075v6.27h-6.0075zM181.70 114.21h6.0075v6.27h-6.0075zM181.70 120.48h6.0075v6.27h-6.0075zM181.70 126.75h6.0075v6.27h-6.0075zM181.70 133.02h6.0075v6.27h-6.0075zM181.70 139.29h6.0075v6.27h-6.0075zM181.70 145.56h6.0075v6.27h-6.0075zM181.70 151.83h6.0075v6.27h-6.0075zM181.70 158.10h6.0075v6.27h-6.0075zM181.70 164.37h6.0075v6.27h-6.0075zM181.70 170.64h6.0075v6.27h-6.0075zM181.70 176.91h6.0075v6.27h-6.0075zM181.70 183.18h6.0075v6.27h-6.0075zM181.70 189.45h6.0075v6.27h-6.0075zM181.70 195.72h6.0075v6.27h-6.0075zM181.70 201.99h6.0075v6.27h-6.0075zM181.70 208.26h6.0075v6.27h-6.0075zM181.70 214.53h6.0075v6.27h-6.0075zM181.70 220.80h6.0075v6.27h-6.0075zM181.70 227.07h6.0075v6.27h-6.0075zM181.70 233.34h6.0075v6.27h-6.0075zM181.70 239.61h6.0075v6.27h-6.0075zM187.70 70.32h6.0075v6.27h-6.0075zM187.70 76.59h6.0075v6.27h-6.0075zM187.70 82.86h6.0075v6.27h-6.0075zM187.70 89.13h6.0075v6.27h-6.0075zM187.70 95.40h6.0075v6.27h-6.0075zM187.70 101.67h6.0075v6.27h-6.0075zM187.70 107.94h6.0075v6.27h-6.0075zM187.70 114.21h6.0075v6.27h-6.0075zM187.70 120.48h6.0075v6.27h-6.0075zM187.70 126.75h6.0075v6.27h-6.0075zM187.70 133.02h6.0075v6.27h-6.0075zM187.70 139.29h6.0075v6.27h-6.0075zM187.70 145.56h6.0075v6.27h-6.0075zM187.70 151.83h6.0075v6.27h-6.0075zM187.70 158.10h6.0075v6.27h-6.0075zM187.70 164.37h6.0075v6.27h-6.0075zM187.70 170.64h6.0075v6.27h-6.0075zM187.70 176.91h6.0075v6.27h-6.0075zM187.70 183.18h6.0075v6.27h-6.0075zM187.70 189.45h6.0075v6.27h-6.0075zM187.70 195.72h6.0075v6.27h-6.0075zM187.70 201.99h6.0075v6.27h-6.0075zM187.70 208.26h6.0075v6.27h-6.0075zM187.70 214.53h6.0075v6.27h-6.0075zM187.70 220.80h6.0075v6.27h-6.0075zM187.70 227.07h6.0075v6.27h-6.0075zM187.70 233.34h6.0075v6.27h-6.0075zM187.70 239.61h6.0075v6.27h-6.0075zM193.71 70.32h6.0075v6.27h-6.0075zM193.71 76.59h6.0075v6.27h-6.0075zM193.71 82.86h6.0075v6.27h-6.0075zM193.71 89.13h6.0075v6.27h-6.0075zM193.71 95.40h6.0075v6.27h-6.0075zM193.71 101.67h6.0075v6.27h-6.0075zM193.71 107.94h6.0075v6.27h-6.0075zM193.71 114.21h6.0075v6.27h-6.0075zM193.71 120.48h6.0075v6.27h-6.0075zM193.71 126.75h6.0075v6.27h-6.0075zM193.71 133.02h6.0075v6.27h-6.0075zM193.71 139.29h6.0075v6.27h-6.0075zM193.71 145.56h6.0075v6.27h-6.0075zM193.71 151.83h6.0075v6.27h-6.0075zM193.71 158.10h6.0075v6.27h-6.0075zM193.71 164.37h6.0075v6.27h-6.0075zM193.71 170.64h6.0075v6.27h-6.0075zM193.71 176.91h6.0075v6.27h-6.0075zM193.71 183.18h6.0075v6.27h-6.0075zM193.71 189.45h6.0075v6.27h-6.0075zM193.71 195.72h6.0075v6.27h-6.0075zM193.71 201.99h6.0075v6.27h-6.0075zM193.71 208.26h6.0075v6.27h-6.0075zM193.71 214.53h6.0075v6.27h-6.0075zM193.71 220.80h6.0075v6.27h-6.0075zM193.71 227.07h6.0075v6.27h-6.0075zM193.71 233.34h6.0075v6.27h-6.0075zM193.71 239.61h6.0075v6.27h-6.0075zM193.71 245.88h6.0075v6.27h-6.0075zM199.72 64.05h6.0075v6.27h-6.0075zM199.72 70.32h6.0075v6.27h-6.0075zM199.72 76.59h6.0075v6.27h-6.0075zM199.72 82.86h6.0075v6.27h-6.0075zM199.72 89.13h6.0075v6.27h-6.0075zM199.72 95.40h6.0075v6.27h-6.0075zM199.72 101.67h6.0075v6.27h-6.0075zM199.72 107.94h6.0075v6.27h-6.0075zM199.72 114.21h6.0075v6.27h-6.0075zM199.72 120.48h6.0075v6.27h-6.0075zM199.72 126.75h6.0075v6.27h-6.0075zM199.72 133.02h6.0075v6.27h-6.0075zM199.72 139.29h6.0075v6.27h-6.0075zM199.72 145.56h6.0075v6.27h-6.0075zM199.72 151.83h6.0075v6.27h-6.0075zM199.72 158.10h6.0075v6.27h-6.0075zM199.72 164.37h6.0075v6.27h-6.0075zM199.72 170.64h6.0075v6.27h-6.0075zM199.72 176.91h6.0075v6.27h-6.0075zM199.72 183.18h6.0075v6.27h-6.0075zM199.72 189.45h6.0075v6.27h-6.0075zM199.72 195.72h6.0075v6.27h-6.0075zM199.72 201.99h6.0075v6.27h-6.0075zM199.72 208.26h6.0075v6.27h-6.0075zM199.72 214.53h6.0075v6.27h-6.0075zM199.72 220.80h6.0075v6.27h-6.0075zM199.72 227.07h6.0075v6.27h-6.0075zM199.72 233.34h6.0075v6.27h-6.0075zM199.72 239.61h6.0075v6.27h-6.0075zM199.72 245.88h6.0075v6.27h-6.0075zM205.73 57.78h6.0075v6.27h-6.0075zM205.73 64.05h6.0075v6.27h-6.0075zM205.73 70.32h6.0075v6.27h-6.0075zM205.73 76.59h6.0075v6.27h-6.0075zM205.73 82.86h6.0075v6.27h-6.0075zM205.73 89.13h6.0075v6.27h-6.0075zM205.73 95.40h6.0075v6.27h-6.0075zM205.73 101.67h6.0075v6.27h-6.0075zM205.73 107.94h6.0075v6.27h-6.0075zM205.73 114.21h6.0075v6.27h-6.0075zM205.73 120.48h6.0075v6.27h-6.0075zM205.73 126.75h6.0075v6.27h-6.0075zM205.73 133.02h6.0075v6.27h-6.0075zM205.73 139.29h6.0075v6.27h-6.0075zM205.73 145.56h6.0075v6.27h-6.0075zM205.73 151.83h6.0075v6.27h-6.0075zM205.73 158.10h6.0075v6.27h-6.0075zM205.73 164.37h6.0075v6.27h-6.0075zM205.73 170.64h6.0075v6.27h-6.0075zM205.73 176.91h6.0075v6.27h-6.0075zM205.73 183.18h6.0075v6.27h-6.0075zM205.73 189.45h6.0075v6.27h-6.0075zM205.73 195.72h6.0075v6.27h-6.0075zM205.73 201.99h6.0075v6.27h-6.0075zM205.73 208.26h6.0075v6.27h-6.0075zM205.73 214.53h6.0075v6.27h-6.0075zM205.73 220.80h6.0075v6.27h-6.0075zM205.73 227.07h6.0075v6.27h-6.0075zM205.73 233.34h6.0075v6.27h-6.0075zM205.73 239.61h6.0075v6.27h-6.0075zM205.73 245.88h6.0075v6.27h-6.0075zM205.73 252.15h6.0075v6.27h-6.0075zM211.74 57.78h6.0075v6.27h-6.0075zM211.74 64.05h6.0075v6.27h-6.0075zM211.74 70.32h6.0075v6.27h-6.0075zM211.74 76.59h6.0075v6.27h-6.0075zM211.74 82.86h6.0075v6.27h-6.0075zM211.74 89.13h6.0075v6.27h-6.0075zM211.74 95.40h6.0075v6.27h-6.0075zM211.74 101.67h6.0075v6.27h-6.0075zM211.74 107.94h6.0075v6.27h-6.0075zM211.74 114.21h6.0075v6.27h-6.0075zM211.74 120.48h6.0075v6.27h-6.0075zM211.74 126.75h6.0075v6.27h-6.0075zM211.74 133.02h6.0075v6.27h-6.0075zM211.74 139.29h6.0075v6.27h-6.0075zM211.74 145.56h6.0075v6.27h-6.0075zM211.74 151.83h6.0075v6.27h-6.0075zM211.74 158.10h6.0075v6.27h-6.0075zM211.74 164.37h6.0075v6.27h-6.0075zM211.74 170.64h6.0075v6.27h-6.0075zM211.74 176.91h6.0075v6.27h-6.0075zM211.74 183.18h6.0075v6.27h-6.0075zM211.74 189.45h6.0075v6.27h-6.0075zM211.74 195.72h6.0075v6.27h-6.0075zM211.74 201.99h6.0075v6.27h-6.0075zM211.74 208.26h6.0075v6.27h-6.0075zM211.74 214.53h6.0075v6.27h-6.0075zM211.74 220.80h6.0075v6.27h-6.0075zM211.74 227.07h6.0075v6.27h-6.0075zM211.74 233.34h6.0075v6.27h-6.0075zM211.74 239.61h6.0075v6.27h-6.0075zM211.74 245.88h6.0075v6.27h-6.0075zM211.74 252.15h6.0075v6.27h-6.0075zM217.74 38.97h6.0075v6.27h-6.0075zM217.74 45.24h6.0075v6.27h-6.0075zM217.74 51.51h6.0075v6.27h-6.0075zM217.74 57.78h6.0075v6.27h-6.0075zM217.74 64.05h6.0075v6.27h-6.0075zM217.74 70.32h6.0075v6.27h-6.0075zM217.74 76.59h6.0075v6.27h-6.0075zM217.74 82.86h6.0075v6.27h-6.0075zM217.74 89.13h6.0075v6.27h-6.0075zM217.74 95.40h6.0075v6.27h-6.0075zM217.74 101.67h6.0075v6.27h-6.0075zM217.74 107.94h6.0075v6.27h-6.0075zM217.74 114.21h6.0075v6.27h-6.0075zM217.74 120.48h6.0075v6.27h-6.0075zM217.74 126.75h6.0075v6.27h-6.0075zM217.74 133.02h6.0075v6.27h-6.0075zM217.74 139.29h6.0075v6.27h-6.0075zM217.74 145.56h6.0075v6.27h-6.0075zM217.74 151.83h6.0075v6.27h-6.0075zM217.74 158.10h6.0075v6.27h-6.0075zM217.74 164.37h6.0075v6.27h-6.0075zM217.74 170.64h6.0075v6.27h-6.0075zM217.74 176.91h6.0075v6.27h-6.0075zM217.74 183.18h6.0075v6.27h-6.0075zM217.74 189.45h6.0075v6.27h-6.0075zM217.74 195.72h6.0075v6.27h-6.0075zM217.74 201.99h6.0075v6.27h-6.0075zM217.74 208.26h6.0075v6.27h-6.0075zM217.74 214.53h6.0075v6.27h-6.0075zM217.74 220.80h6.0075v6.27h-6.0075zM217.74 227.07h6.0075v6.27h-6.0075zM217.74 233.34h6.0075v6.27h-6.0075zM217.74 239.61h6.0075v6.27h-6.0075zM217.74 245.88h6.0075v6.27h-6.0075zM217.74 252.15h6.0075v6.27h-6.0075zM223.75 38.97h6.0075v6.27h-6.0075zM223.75 45.24h6.0075v6.27h-6.0075zM223.75 51.51h6.0075v6.27h-6.0075zM223.75 57.78h6.0075v6.27h-6.0075zM223.75 64.05h6.0075v6.27h-6.0075zM223.75 70.32h6.0075v6.27h-6.0075zM223.75 76.59h6.0075v6.27h-6.0075zM223.75 82.86h6.0075v6.27h-6.0075zM223.75 89.13h6.0075v6.27h-6.0075zM223.75 95.40h6.0075v6.27h-6.0075zM223.75 101.67h6.0075v6.27h-6.0075zM223.75 107.94h6.0075v6.27h-6.0075zM223.75 114.21h6.0075v6.27h-6.0075zM223.75 120.48h6.0075v6.27h-6.0075zM223.75 126.75h6.0075v6.27h-6.0075zM223.75 133.02h6.0075v6.27h-6.0075zM223.75 139.29h6.0075v6.27h-6.0075zM223.75 145.56h6.0075v6.27h-6.0075zM223.75 151.83h6.0075v6.27h-6.0075zM223.75 158.10h6.0075v6.27h-6.0075zM223.75 164.37h6.0075v6.27h-6.0075zM223.75 170.64h6.0075v6.27h-6.0075zM223.75 176.91h6.0075v6.27h-6.0075zM223.75 183.18h6.0075v6.27h-6.0075zM223.75 189.45h6.0075v6.27h-6.0075zM223.75 195.72h6.0075v6.27h-6.0075zM223.75 201.99h6.0075v6.27h-6.0075zM223.75 208.26h6.0075v6.27h-6.0075zM223.75 214.53h6.0075v6.27h-6.0075zM223.75 220.80h6.0075v6.27h-6.0075zM223.75 227.07h6.0075v6.27h-6.0075zM223.75 233.34h6.0075v6.27h-6.0075zM223.75 239.61h6.0075v6.27h-6.0075zM223.75 245.88h6.0075v6.27h-6.0075zM223.75 252.15h6.0075v6.27h-6.0075zM229.76 38.97h6.0075v6.27h-6.0075zM229.76 45.24h6.0075v6.27h-6.0075zM229.76 51.51h6.0075v6.27h-6.0075zM229.76 57.78h6.0075v6.27h-6.0075zM229.76 64.05h6.0075v6.27h-6.0075zM229.76 70.32h6.0075v6.27h-6.0075zM229.76 76.59h6.0075v6.27h-6.0075zM229.76 82.86h6.0075v6.27h-6.0075zM229.76 89.13h6.0075v6.27h-6.0075zM229.76 95.40h6.0075v6.27h-6.0075zM229.76 101.67h6.0075v6.27h-6.0075zM229.76 107.94h6.0075v6.27h-6.0075zM229.76 114.21h6.0075v6.27h-6.0075zM229.76 120.48h6.0075v6.27h-6.0075zM229.76 126.75h6.0075v6.27h-6.0075zM229.76 133.02h6.0075v6.27h-6.0075zM229.76 139.29h6.0075v6.27h-6.0075zM229.76 145.56h6.0075v6.27h-6.0075zM229.76 151.83h6.0075v6.27h-6.0075zM229.76 158.10h6.0075v6.27h-6.0075zM229.76 164.37h6.0075v6.27h-6.0075zM229.76 170.64h6.0075v6.27h-6.0075zM229.76 176.91h6.0075v6.27h-6.0075zM229.76 183.18h6.0075v6.27h-6.0075zM229.76 189.45h6.0075v6.27h-6.0075zM229.76 195.72h6.0075v6.27h-6.0075zM229.76 201.99h6.0075v6.27h-6.0075zM229.76 208.26h6.0075v6.27h-6.0075zM229.76 214.53h6.0075v6.27h-6.0075zM229.76 220.80h6.0075v6.27h-6.0075zM229.76 227.07h6.0075v6.27h-6.0075zM229.76 233.34h6.0075v6.27h-6.0075zM229.76 239.61h6.0075v6.27h-6.0075zM229.76 245.88h6.0075v6.27h-6.0075zM229.76 252.15h6.0075v6.27h-6.0075zM235.76 51.51h6.0075v6.27h-6.0075zM235.76 57.78h6.0075v6.27h-6.0075zM235.76 64.05h6.0075v6.27h-6.0075zM235.76 70.32h6.0075v6.27h-6.0075zM235.76 76.59h6.0075v6.27h-6.0075zM235.76 82.86h6.0075v6.27h-6.0075zM235.76 89.13h6.0075v6.27h-6.0075zM235.76 95.40h6.0075v6.27h-6.0075zM235.76 101.67h6.0075v6.27h-6.0075zM235.76 107.94h6.0075v6.27h-6.0075zM235.76 114.21h6.0075v6.27h-6.0075zM235.76 120.48h6.0075v6.27h-6.0075zM235.76 126.75h6.0075v6.27h-6.0075zM235.76 133.02h6.0075v6.27h-6.0075zM235.76 139.29h6.0075v6.27h-6.0075zM235.76 145.56h6.0075v6.27h-6.0075zM235.76 151.83h6.0075v6.27h-6.0075zM235.76 158.10h6.0075v6.27h-6.0075zM235.76 164.37h6.0075v6.27h-6.0075zM235.76 170.64h6.0075v6.27h-6.0075zM235.76 176.91h6.0075v6.27h-6.0075zM235.76 183.18h6.0075v6.27h-6.0075zM235.76 189.45h6.0075v6.27h-6.0075zM235.76 195.72h6.0075v6.27h-6.0075zM235.76 201.99h6.0075v6.27h-6.0075zM235.76 208.26h6.0075v6.27h-6.0075zM235.76 214.53h6.0075v6.27h-6.0075zM235.76 220.80h6.0075v6.27h-6.0075zM235.76 227.07h6.0075v6.27h-6.0075zM235.76 233.34h6.0075v6.27h-6.0075zM235.76 239.61h6.0075v6.27h-6.0075zM235.76 245.88h6.0075v6.27h-6.0075zM235.76 252.15h6.0075v6.27h-6.0075zM241.77 64.05h6.0075v6.27h-6.0075zM241.77 70.32h6.0075v6.27h-6.0075zM241.77 76.59h6.0075v6.27h-6.0075zM241.77 82.86h6.0075v6.27h-6.0075zM241.77 89.13h6.0075v6.27h-6.0075zM241.77 95.40h6.0075v6.27h-6.0075zM241.77 101.67h6.0075v6.27h-6.0075zM241.77 107.94h6.0075v6.27h-6.0075zM241.77 114.21h6.0075v6.27h-6.0075zM241.77 120.48h6.0075v6.27h-6.0075zM241.77 126.75h6.0075v6.27h-6.0075zM241.77 133.02h6.0075v6.27h-6.0075zM241.77 139.29h6.0075v6.27h-6.0075zM241.77 145.56h6.0075v6.27h-6.0075zM241.77 151.83h6.0075v6.27h-6.0075zM241.77 158.10h6.0075v6.27h-6.0075zM241.77 164.37h6.0075v6.27h-6.0075zM241.77 170.64h6.0075v6.27h-6.0075zM241.77 176.91h6.0075v6.27h-6.0075zM241.77 183.18h6.0075v6.27h-6.0075zM241.77 189.45h6.0075v6.27h-6.0075zM241.77 195.72h6.0075v6.27h-6.0075zM241.77 201.99h6.0075v6.27h-6.0075zM241.77 208.26h6.0075v6.27h-6.0075zM241.77 214.53h6.0075v6.27h-6.0075zM241.77 220.80h6.0075v6.27h-6.0075zM241.77 227.07h6.0075v6.27h-6.0075zM241.77 233.34h6.0075v6.27h-6.0075zM241.77 239.61h6.0075v6.27h-6.0075zM241.77 245.88h6.0075v6.27h-6.0075zM241.77 252.15h6.0075v6.27h-6.0075zM247.78 70.32h6.0075v6.27h-6.0075zM247.78 76.59h6.0075v6.27h-6.0075zM247.78 82.86h6.0075v6.27h-6.0075zM247.78 89.13h6.0075v6.27h-6.0075zM247.78 95.40h6.0075v6.27h-6.0075zM247.78 101.67h6.0075v6.27h-6.0075zM247.78 107.94h6.0075v6.27h-6.0075zM247.78 114.21h6.0075v6.27h-6.0075zM247.78 120.48h6.0075v6.27h-6.0075zM247.78 126.75h6.0075v6.27h-6.0075zM247.78 133.02h6.0075v6.27h-6.0075zM247.78 139.29h6.0075v6.27h-6.0075zM247.78 145.56h6.0075v6.27h-6.0075zM247.78 151.83h6.0075v6.27h-6.0075zM247.78 158.10h6.0075v6.27h-6.0075zM247.78 164.37h6.0075v6.27h-6.0075zM247.78 170.64h6.0075v6.27h-6.0075zM247.78 176.91h6.0075v6.27h-6.0075zM247.78 183.18h6.0075v6.27h-6.0075zM247.78 189.45h6.0075v6.27h-6.0075zM247.78 195.72h6.0075v6.27h-6.0075zM247.78 201.99h6.0075v6.27h-6.0075zM247.78 208.26h6.0075v6.27h-6.0075zM247.78 233.34h6.0075v6.27h-6.0075zM247.78 239.61h6.0075v6.27h-6.0075zM247.78 245.88h6.0075v6.27h-6.0075zM247.78 252.15h6.0075v6.27h-6.0075zM253.79 76.59h6.0075v6.27h-6.0075zM253.79 82.86h6.0075v6.27h-6.0075zM253.79 89.13h6.0075v6.27h-6.0075zM253.79 95.40h6.0075v6.27h-6.0075zM253.79 101.67h6.0075v6.27h-6.0075zM253.79 107.94h6.0075v6.27h-6.0075zM253.79 114.21h6.0075v6.27h-6.0075zM253.79 120.48h6.0075v6.27h-6.0075zM253.79 126.75h6.0075v6.27h-6.0075zM253.79 133.02h6.0075v6.27h-6.0075zM253.79 139.29h6.0075v6.27h-6.0075zM253.79 145.56h6.0075v6.27h-6.0075zM253.79 151.83h6.0075v6.27h-6.0075zM253.79 158.10h6.0075v6.27h-6.0075zM253.79 164.37h6.0075v6.27h-6.0075zM253.79 170.64h6.0075v6.27h-6.0075zM253.79 176.91h6.0075v6.27h-6.0075zM253.79 183.18h6.0075v6.27h-6.0075zM253.79 189.45h6.0075v6.27h-6.0075zM253.79 195.72h6.0075v6.27h-6.0075zM253.79 201.99h6.0075v6.27h-6.0075zM253.79 208.26h6.0075v6.27h-6.0075zM253.79 214.53h6.0075v6.27h-6.0075zM253.79 227.07h6.0075v6.27h-6.0075zM253.79 233.34h6.0075v6.27h-6.0075zM253.79 239.61h6.0075v6.27h-6.0075zM253.79 245.88h6.0075v6.27h-6.0075zM253.79 252.15h6.0075v6.27h-6.0075zM259.80 76.59h6.0075v6.27h-6.0075zM259.80 82.86h6.0075v6.27h-6.0075zM259.80 89.13h6.0075v6.27h-6.0075zM259.80 95.40h6.0075v6.27h-6.0075zM259.80 101.67h6.0075v6.27h-6.0075zM259.80 107.94h6.0075v6.27h-6.0075zM259.80 114.21h6.0075v6.27h-6.0075zM259.80 120.48h6.0075v6.27h-6.0075zM259.80 126.75h6.0075v6.27h-6.0075zM259.80 133.02h6.0075v6.27h-6.0075zM259.80 139.29h6.0075v6.27h-6.0075zM259.80 145.56h6.0075v6.27h-6.0075zM259.80 151.83h6.0075v6.27h-6.0075zM259.80 158.10h6.0075v6.27h-6.0075zM259.80 164.37h6.0075v6.27h-6.0075zM259.80 170.64h6.0075v6.27h-6.0075zM259.80 176.91h6.0075v6.27h-6.0075zM259.80 183.18h6.0075v6.27h-6.0075zM259.80 189.45h6.0075v6.27h-6.0075zM259.80 195.72h6.0075v6.27h-6.0075zM259.80 201.99h6.0075v6.27h-6.0075zM259.80 208.26h6.0075v6.27h-6.0075zM259.80 214.53h6.0075v6.27h-6.0075zM259.80 220.80h6.0075v6.27h-6.0075zM259.80 227.07h6.0075v6.27h-6.0075zM259.80 233.34h6.0075v6.27h-6.0075zM259.80 239.61h6.0075v6.27h-6.0075zM259.80 245.88h6.0075v6.27h-6.0075zM265.80 76.59h6.0075v6.27h-6.0075zM265.80 82.86h6.0075v6.27h-6.0075zM265.80 89.13h6.0075v6.27h-6.0075zM265.80 95.40h6.0075v6.27h-6.0075zM265.80 101.67h6.0075v6.27h-6.0075zM265.80 107.94h6.0075v6.27h-6.0075zM265.80 114.21h6.0075v6.27h-6.0075zM265.80 120.48h6.0075v6.27h-6.0075zM265.80 126.75h6.0075v6.27h-6.0075zM265.80 133.02h6.0075v6.27h-6.0075zM265.80 139.29h6.0075v6.27h-6.0075zM265.80 145.56h6.0075v6.27h-6.0075zM265.80 151.83h6.0075v6.27h-6.0075zM265.80 158.10h6.0075v6.27h-6.0075zM265.80 164.37h6.0075v6.27h-6.0075zM265.80 170.64h6.0075v6.27h-6.0075zM265.80 176.91h6.0075v6.27h-6.0075zM265.80 183.18h6.0075v6.27h-6.0075zM265.80 189.45h6.0075v6.27h-6.0075zM265.80 195.72h6.0075v6.27h-6.0075zM265.80 201.99h6.0075v6.27h-6.0075zM265.80 208.26h6.0075v6.27h-6.0075zM265.80 214.53h6.0075v6.27h-6.0075zM265.80 220.80h6.0075v6.27h-6.0075zM265.80 227.07h6.0075v6.27h-6.0075zM265.80 233.34h6.0075v6.27h-6.0075zM265.80 239.61h6.0075v6.27h-6.0075zM265.80 245.88h6.0075v6.27h-6.0075zM271.81 70.32h6.0075v6.27h-6.0075zM271.81 76.59h6.0075v6.27h-6.0075zM271.81 82.86h6.0075v6.27h-6.0075zM271.81 89.13h6.0075v6.27h-6.0075zM271.81 95.40h6.0075v6.27h-6.0075zM271.81 107.94h6.0075v6.27h-6.0075zM271.81 114.21h6.0075v6.27h-6.0075zM271.81 120.48h6.0075v6.27h-6.0075zM271.81 126.75h6.0075v6.27h-6.0075zM271.81 133.02h6.0075v6.27h-6.0075zM271.81 139.29h6.0075v6.27h-6.0075zM271.81 145.56h6.0075v6.27h-6.0075zM271.81 151.83h6.0075v6.27h-6.0075zM271.81 158.10h6.0075v6.27h-6.0075zM271.81 164.37h6.0075v6.27h-6.0075zM271.81 170.64h6.0075v6.27h-6.0075zM271.81 176.91h6.0075v6.27h-6.0075zM271.81 183.18h6.0075v6.27h-6.0075zM271.81 189.45h6.0075v6.27h-6.0075zM271.81 195.72h6.0075v6.27h-6.0075zM271.81 201.99h6.0075v6.27h-6.0075zM271.81 208.26h6.0075v6.27h-6.0075zM271.81 214.53h6.0075v6.27h-6.0075zM271.81 227.07h6.0075v6.27h-6.0075zM271.81 233.34h6.0075v6.27h-6.0075zM271.81 239.61h6.0075v6.27h-6.0075zM277.82 82.86h6.0075v6.27h-6.0075zM277.82 114.21h6.0075v6.27h-6.0075zM277.82 120.48h6.0075v6.27h-6.0075zM277.82 126.75h6.0075v6.27h-6.0075zM277.82 133.02h6.0075v6.27h-6.0075zM277.82 139.29h6.0075v6.27h-6.0075zM277.82 145.56h6.0075v6.27h-6.0075zM277.82 151.83h6.0075v6.27h-6.0075zM277.82 158.10h6.0075v6.27h-6.0075zM277.82 164.37h6.0075v6.27h-6.0075zM277.82 170.64h6.0075v6.27h-6.0075zM277.82 176.91h6.0075v6.27h-6.0075zM277.82 183.18h6.0075v6.27h-6.0075zM277.82 189.45h6.0075v6.27h-6.0075zM277.82 195.72h6.0075v6.27h-6.0075zM277.82 201.99h6.0075v6.27h-6.0075zM277.82 208.26h6.0075v6.27h-6.0075zM277.82 214.53h6.0075v6.27h-6.0075zM277.82 227.07h6.0075v6.27h-6.0075zM277.82 233.34h6.0075v6.27h-6.0075zM277.82 239.61h6.0075v6.27h-6.0075zM283.82 120.48h6.0075v6.27h-6.0075zM283.82 126.75h6.0075v6.27h-6.0075zM283.82 133.02h6.0075v6.27h-6.0075zM283.82 139.29h6.0075v6.27h-6.0075zM283.82 145.56h6.0075v6.27h-6.0075zM283.82 151.83h6.0075v6.27h-6.0075zM283.82 158.10h6.0075v6.27h-6.0075zM283.82 164.37h6.0075v6.27h-6.0075zM283.82 170.64h6.0075v6.27h-6.0075zM283.82 176.91h6.0075v6.27h-6.0075zM283.82 183.18h6.0075v6.27h-6.0075zM283.82 189.45h6.0075v6.27h-6.0075zM283.82 195.72h6.0075v6.27h-6.0075zM283.82 201.99h6.0075v6.27h-6.0075zM283.82 208.26h6.0075v6.27h-6.0075zM283.82 214.53h6.0075v6.27h-6.0075zM283.82 220.80h6.0075v6.27h-6.0075zM283.82 227.07h6.0075v6.27h-6.0075zM283.82 233.34h6.0075v6.27h-6.0075zM283.82 239.61h6.0075v6.27h-6.0075zM289.83 120.48h6.0075v6.27h-6.0075zM289.83 126.75h6.0075v6.27h-6.0075zM289.83 133.02h6.0075v6.27h-6.0075zM289.83 139.29h6.0075v6.27h-6.0075zM289.83 145.56h6.0075v6.27h-6.0075zM289.83 151.83h6.0075v6.27h-6.0075zM289.83 158.10h6.0075v6.27h-6.0075zM289.83 164.37h6.0075v6.27h-6.0075zM289.83 170.64h6.0075v6.27h-6.0075zM289.83 176.91h6.0075v6.27h-6.0075zM289.83 183.18h6.0075v6.27h-6.0075zM289.83 189.45h6.0075v6.27h-6.0075zM289.83 195.72h6.0075v6.27h-6.0075zM289.83 201.99h6.0075v6.27h-6.0075zM289.83 208.26h6.0075v6.27h-6.0075zM289.83 214.53h6.0075v6.27h-6.0075zM289.83 220.80h6.0075v6.27h-6.0075zM289.83 227.07h6.0075v6.27h-6.0075zM289.83 233.34h6.0075v6.27h-6.0075zM295.84 120.48h6.0075v6.27h-6.0075zM295.84 126.75h6.0075v6.27h-6.0075zM295.84 133.02h6.0075v6.27h-6.0075zM295.84 139.29h6.0075v6.27h-6.0075zM295.84 145.56h6.0075v6.27h-6.0075zM295.84 151.83h6.0075v6.27h-6.0075zM295.84 158.10h6.0075v6.27h-6.0075zM295.84 164.37h6.0075v6.27h-6.0075zM295.84 170.64h6.0075v6.27h-6.0075zM295.84 176.91h6.0075v6.27h-6.0075zM295.84 183.18h6.0075v6.27h-6.0075zM295.84 189.45h6.0075v6.27h-6.0075zM295.84 195.72h6.0075v6.27h-6.0075zM295.84 201.99h6.0075v6.27h-6.0075zM295.84 208.26h6.0075v6.27h-6.0075zM295.84 214.53h6.0075v6.27h-6.0075zM295.84 220.80h6.0075v6.27h-6.0075zM295.84 227.07h6.0075v6.27h-6.0075zM295.84 233.34h6.0075v6.27h-6.0075zM301.85 114.21h6.0075v6.27h-6.0075zM301.85 120.48h6.0075v6.27h-6.0075zM301.85 126.75h6.0075v6.27h-6.0075zM301.85 133.02h6.0075v6.27h-6.0075zM301.85 139.29h6.0075v6.27h-6.0075zM301.85 145.56h6.0075v6.27h-6.0075zM301.85 151.83h6.0075v6.27h-6.0075zM301.85 158.10h6.0075v6.27h-6.0075zM301.85 164.37h6.0075v6.27h-6.0075zM301.85 170.64h6.0075v6.27h-6.0075zM301.85 176.91h6.0075v6.27h-6.0075zM301.85 183.18h6.0075v6.27h-6.0075zM301.85 189.45h6.0075v6.27h-6.0075zM301.85 195.72h6.0075v6.27h-6.0075zM301.85 201.99h6.0075v6.27h-6.0075zM301.85 208.26h6.0075v6.27h-6.0075zM301.85 214.53h6.0075v6.27h-6.0075zM301.85 220.80h6.0075v6.27h-6.0075zM301.85 227.07h6.0075v6.27h-6.0075zM301.85 233.34h6.0075v6.27h-6.0075zM307.86 107.94h6.0075v6.27h-6.0075zM307.86 114.21h6.0075v6.27h-6.0075zM307.86 120.48h6.0075v6.27h-6.0075zM307.86 126.75h6.0075v6.27h-6.0075zM307.86 133.02h6.0075v6.27h-6.0075zM307.86 139.29h6.0075v6.27h-6.0075zM307.86 145.56h6.0075v6.27h-6.0075zM307.86 151.83h6.0075v6.27h-6.0075zM307.86 158.10h6.0075v6.27h-6.0075zM307.86 164.37h6.0075v6.27h-6.0075zM307.86 170.64h6.0075v6.27h-6.0075zM307.86 183.18h6.0075v6.27h-6.0075zM307.86 189.45h6.0075v6.27h-6.0075zM307.86 195.72h6.0075v6.27h-6.0075zM307.86 201.99h6.0075v6.27h-6.0075zM307.86 208.26h6.0075v6.27h-6.0075zM307.86 214.53h6.0075v6.27h-6.0075zM307.86 220.80h6.0075v6.27h-6.0075zM307.86 227.07h6.0075v6.27h-6.0075zM313.86 107.94h6.0075v6.27h-6.0075zM313.86 114.21h6.0075v6.27h-6.0075zM313.86 120.48h6.0075v6.27h-6.0075zM313.86 126.75h6.0075v6.27h-6.0075zM313.86 133.02h6.0075v6.27h-6.0075zM313.86 139.29h6.0075v6.27h-6.0075zM313.86 145.56h6.0075v6.27h-6.0075zM313.86 151.83h6.0075v6.27h-6.0075zM313.86 158.10h6.0075v6.27h-6.0075zM313.86 164.37h6.0075v6.27h-6.0075zM313.86 170.64h6.0075v6.27h-6.0075zM313.86 183.18h6.0075v6.27h-6.0075zM313.86 189.45h6.0075v6.27h-6.0075zM313.86 195.72h6.0075v6.27h-6.0075zM313.86 201.99h6.0075v6.27h-6.0075zM313.86 208.26h6.0075v6.27h-6.0075zM313.86 214.53h6.0075v6.27h-6.0075zM313.86 220.80h6.0075v6.27h-6.0075zM319.87 114.21h6.0075v6.27h-6.0075zM319.87 120.48h6.0075v6.27h-6.0075zM319.87 126.75h6.0075v6.27h-6.0075zM319.87 133.02h6.0075v6.27h-6.0075zM319.87 139.29h6.0075v6.27h-6.0075zM319.87 145.56h6.0075v6.27h-6.0075zM319.87 151.83h6.0075v6.27h-6.0075zM319.87 158.10h6.0075v6.27h-6.0075zM319.87 164.37h6.0075v6.27h-6.0075zM319.87 170.64h6.0075v6.27h-6.0075zM319.87 176.91h6.0075v6.27h-6.0075zM319.87 183.18h6.0075v6.27h-6.0075zM319.87 189.45h6.0075v6.27h-6.0075zM319.87 195.72h6.0075v6.27h-6.0075zM319.87 201.99h6.0075v6.27h-6.0075zM319.87 208.26h6.0075v6.27h-6.0075zM319.87 214.53h6.0075v6.27h-6.0075zM319.87 220.80h6.0075v6.27h-6.0075zM325.88 133.02h6.0075v6.27h-6.0075zM325.88 139.29h6.0075v6.27h-6.0075zM325.88 145.56h6.0075v6.27h-6.0075zM325.88 151.83h6.0075v6.27h-6.0075zM325.88 158.10h6.0075v6.27h-6.0075zM325.88 170.64h6.0075v6.27h-6.0075zM325.88 176.91h6.0075v6.27h-6.0075zM325.88 183.18h6.0075v6.27h-6.0075zM325.88 189.45h6.0075v6.27h-6.0075zM325.88 195.72h6.0075v6.27h-6.0075zM325.88 201.99h6.0075v6.27h-6.0075zM325.88 208.26h6.0075v6.27h-6.0075zM325.88 214.53h6.0075v6.27h-6.0075zM331.88 133.02h6.0075v6.27h-6.0075zM331.88 139.29h6.0075v6.27h-6.0075zM331.88 145.56h6.0075v6.27h-6.0075zM331.88 151.83h6.0075v6.27h-6.0075zM331.88 158.10h6.0075v6.27h-6.0075zM331.88 164.37h6.0075v6.27h-6.0075zM331.88 170.64h6.0075v6.27h-6.0075zM331.88 176.91h6.0075v6.27h-6.0075zM331.88 183.18h6.0075v6.27h-6.0075zM331.88 189.45h6.0075v6.27h-6.0075zM331.88 195.72h6.0075v6.27h-6.0075zM331.88 201.99h6.0075v6.27h-6.0075zM331.88 208.26h6.0075v6.27h-6.0075zM337.89 133.02h6.0075v6.27h-6.0075zM337.89 139.29h6.0075v6.27h-6.0075zM337.89 145.56h6.0075v6.27h-6.0075zM337.89 151.83h6.0075v6.27h-6.0075zM337.89 158.10h6.0075v6.27h-6.0075zM337.89 164.37h6.0075v6.27h-6.0075zM337.89 170.64h6.0075v6.27h-6.0075zM337.89 176.91h6.0075v6.27h-6.0075zM337.89 183.18h6.0075v6.27h-6.0075zM337.89 189.45h6.0075v6.27h-6.0075zM337.89 195.72h6.0075v6.27h-6.0075zM337.89 201.99h6.0075v6.27h-6.0075zM343.90 145.56h6.0075v6.27h-6.0075zM343.90 151.83h6.0075v6.27h-6.0075zM343.90 158.10h6.0075v6.27h-6.0075zM343.90 164.37h6.0075v6.27h-6.0075zM343.90 170.64h6.0075v6.27h-6.0075zM343.90 176.91h6.0075v6.27h-6.0075zM343.90 183.18h6.0075v6.27h-6.0075zM343.90 201.99h6.0075v6.27h-6.0075zM349.91 145.56h6.0075v6.27h-6.0075zM349.91 151.83h6.0075v6.27h-6.0075zM349.91 158.10h6.0075v6.27h-6.0075zM349.91 164.37h6.0075v6.27h-6.0075zM349.91 170.64h6.0075v6.27h-6.0075zM349.91 176.91h6.0075v6.27h-6.0075zM355.92 145.56h6.0075v6.27h-6.0075zM355.92 151.83h6.0075v6.27h-6.0075zM355.92 158.10h6.0075v6.27h-6.0075zM355.92 164.37h6.0075v6.27h-6.0075zM355.92 170.64h6.0075v6.27h-6.0075zM355.92 176.91h6.0075v6.27h-6.0075zM361.92 145.56h6.0075v6.27h-6.0075zM361.92 151.83h6.0075v6.27h-6.0075zM361.92 158.10h6.0075v6.27h-6.0075zM361.92 164.37h6.0075v6.27h-6.0075zM361.92 170.64h6.0075v6.27h-6.0075zM361.92 176.91h6.0075v6.27h-6.0075zM361.92 214.53h6.0075v6.27h-6.0075zM367.93 151.83h6.0075v6.27h-6.0075zM367.93 158.10h6.0075v6.27h-6.0075zM367.93 164.37h6.0075v6.27h-6.0075zM367.93 170.64h6.0075v6.27h-6.0075zM367.93 176.91h6.0075v6.27h-6.0075zM367.93 183.18h6.0075v6.27h-6.0075zM367.93 189.45h6.0075v6.27h-6.0075zM367.93 208.26h6.0075v6.27h-6.0075zM367.93 214.53h6.0075v6.27h-6.0075zM373.94 145.56h6.0075v6.27h-6.0075zM373.94 151.83h6.0075v6.27h-6.0075zM373.94 158.10h6.0075v6.27h-6.0075zM373.94 164.37h6.0075v6.27h-6.0075zM373.94 170.64h6.0075v6.27h-6.0075zM373.94 176.91h6.0075v6.27h-6.0075zM373.94 183.18h6.0075v6.27h-6.0075zM373.94 189.45h6.0075v6.27h-6.0075zM373.94 214.53h6.0075v6.27h-6.0075zM379.94 145.56h6.0075v6.27h-6.0075zM379.94 151.83h6.0075v6.27h-6.0075zM379.94 158.10h6.0075v6.27h-6.0075zM379.94 164.37h6.0075v6.27h-6.0075zM379.94 170.64h6.0075v6.27h-6.0075zM379.94 176.91h6.0075v6.27h-6.0075zM379.94 183.18h6.0075v6.27h-6.0075zM379.94 189.45h6.0075v6.27h-6.0075zM385.95 145.56h6.0075v6.27h-6.0075zM385.95 151.83h6.0075v6.27h-6.0075zM385.95 158.10h6.0075v6.27h-6.0075zM385.95 164.37h6.0075v6.27h-6.0075zM385.95 170.64h6.0075v6.27h-6.0075zM385.95 176.91h6.0075v6.27h-6.0075zM385.95 183.18h6.0075v6.27h-6.0075zM385.95 189.45h6.0075v6.27h-6.0075zM391.96 145.56h6.0075v6.27h-6.0075zM391.96 151.83h6.0075v6.27h-6.0075zM391.96 158.10h6.0075v6.27h-6.0075zM391.96 164.37h6.0075v6.27h-6.0075zM391.96 170.64h6.0075v6.27h-6.0075zM391.96 176.91h6.0075v6.27h-6.0075zM391.96 183.18h6.0075v6.27h-6.0075zM391.96 189.45h6.0075v6.27h-6.0075zM391.96 195.72h6.0075v6.27h-6.0075zM391.96 214.53h6.0075v6.27h-6.0075zM397.97 151.83h6.0075v6.27h-6.0075zM397.97 158.10h6.0075v6.27h-6.0075zM397.97 164.37h6.0075v6.27h-6.0075zM397.97 170.64h6.0075v6.27h-6.0075zM397.97 176.91h6.0075v6.27h-6.0075zM397.97 214.53h6.0075v6.27h-6.0075zM403.98 151.83h6.0075v6.27h-6.0075zM403.98 164.37h6.0075v6.27h-6.0075zM403.98 170.64h6.0075v6.27h-6.0075zM403.98 176.91h6.0075v6.27h-6.0075zM403.98 208.26h6.0075v6.27h-6.0075zM403.98 214.53h6.0075v6.27h-6.0075zM409.98 151.83h6.0075v6.27h-6.0075zM409.98 164.37h6.0075v6.27h-6.0075z" fill="#ffffff" stroke="#6e6e6e" stroke-width="0.7"/>
<path d="M247.78 220.80h6.0075v6.27h-6.0075zM247.78 227.07h6.0075v6.27h-6.0075zM325.88 164.37h6.0075v6.27h-6.0075zM343.90 195.72h6.0075v6.27h-6.0075zM349.91 189.45h6.0075v6.27h-6.0075zM355.92 183.18h6.0075v6.27h-6.0075zM355.92 189.45h6.0075v6.27h-6.0075zM361.92 183.18h6.0075v6.27h-6.0075zM361.92 195.72h6.0075v6.27h-6.0075zM367.93 195.72h6.0075v6.27h-6.0075zM367.93 201.99h6.0075v6.27h-6.0075zM373.94 195.72h6.0075v6.27h-6.0075zM373.94 201.99h6.0075v6.27h-6.0075zM385.95 208.26h6.0075v6.27h-6.0075zM391.96 208.26h6.0075v6.27h-6.0075zM397.97 195.72h6.0075v6.27h-6.0075z" fill="#e0e0e0" stroke="#6e6e6e" stroke-width="0.7"/>
<path d="M271.81 220.80h6.0075v6.27h-6.0075zM277.82 220.80h6.0075v6.27h-6.0075zM343.90 189.45h6.0075v6.27h-6.0075zM349.91 183.18h6.0075v6.27h-6.0075zM349.91 201.99h6.0075v6.27h-6.0075zM355.92 195.72h6.0075v6.27h-6.0075zM361.92 189.45h6.0075v6.27h-6.0075zM373.94 208.26h6.0075v6.27h-6.0075zM379.94 195.72h6.0075v6.27h-6.0075zM379.94 201.99h6.0075v6.27h-6.0075z" fill="#b4b4b4" stroke="#6e6e6e" stroke-width="0.7"/>
<path d="M247.78 214.53h6.0075v6.27h-6.0075zM253.79 220.80h6.0075v6.27h-6.0075zM307.86 176.91h6.0075v6.27h-6.0075zM313.86 176.91h6.0075v6.27h-6.0075zM349.91 195.72h6.0075v6.27h-6.0075zM355.92 201.99h6.0075v6.27h-6.0075zM361.92 201.99h6.0075v6.27h-6.0075zM379.94 208.26h6.0075v6.27h-6.0075zM385.95 195.72h6.0075v6.27h-6.0075zM385.95 201.99h6.0075v6.27h-6.0075zM391.96 201.99h6.0075v6.27h-6.0075zM397.97 201.99h6.0075v6.27h-6.0075zM397.97 208.26h6.0075v6.27h-6.0075z" fill="#404040" stroke="#6e6e6e" stroke-width="0.7"/>
<path d="M86.4 103.5L86.9 101.8L89.4 100.9L91.4 96.8L92.7 94.8L96.9 93.1L98.5 90.4L101.0 89.8L102.4 90.4L103.2 93.8L106.9 93.1L109.4 90.1L111.9 87.6L115.2 86.4L119.7 86.3L125.2 86.8L126.9 88.4L128.1 91.4L131.1 92.1L133.6 92.1L135.8 89.3L138.1 86.8L140.3 84.3L143.3 83.8L140.3 80.9L138.1 81.8L136.1 85.9L134.4 85.9L134.1 82.6L134.8 79.2L132.8 77.6L131.9 74.7L133.1 70.1L134.1 65.1L138.6 63.9L141.9 64.2L146.9 63.1L148.1 65.1L148.1 69.2L150.3 71.7L152.0 75.1L153.6 79.2L155.8 82.1L158.6 83.1L161.1 81.8L163.6 78.7L167.0 76.7L169.5 73.7L173.7 73.1L176.2 71.7L180.8 70.1L182.8 71.7L185.3 73.7L188.7 73.7L192.0 71.7L194.5 68.7L196.2 67.6L199.5 67.1L202.9 65.9L200.0 67.6L202.5 66.7L205.8 65.1L207.5 61.7L210.0 58.4L212.5 56.4L215.9 55.0L216.7 51.7L215.9 48.4L216.7 45.0L215.4 42.5L216.7 39.2L217.5 36.3L220.9 37.5L225.0 39.2L229.2 40.4L232.6 41.7L234.2 44.2L235.9 47.5L237.6 50.9L240.1 53.4L241.7 56.7L243.7 59.7L245.4 63.4L247.6 67.1L250.1 70.1L252.6 72.6L254.3 74.7L256.8 73.1L259.3 74.2L262.6 74.7L266.8 74.2L270.9 73.7L273.5 71.7L276.0 73.1L277.1 76.7L278.1 80.9L280.1 83.8L281.5 87.6L281.0 91.8L278.5 95.1L276.5 98.4L274.8 101.8L274.3 105.1L276.0 107.6L278.5 111.0L281.8 114.3L284.3 116.8L287.6 119.3L290.0 120.4L293.3 119.7L296.7 119.2L300.0 117.1L304.2 115.0L307.5 112.5L310.0 110.9L308.7 108.7L310.0 110.9L311.7 108.4L315.0 107.5L318.4 110.0L319.2 114.2L320.9 115.9L323.4 116.7L325.9 117.6L328.7 118.4L329.2 120.9L327.1 123.4L327.6 127.6L328.7 130.1L331.7 130.9L334.2 132.6L337.6 134.2L340.9 135.1L343.4 136.4L345.9 137.6L345.1 140.9L345.4 144.3L347.6 146.4L350.9 146.8L355.9 145.4L360.1 146.4L363.5 147.1L367.6 146.8L369.8 148.1L371.5 149.8L373.5 147.6L376.8 147.6L383.5 148.1L390.2 148.4L398.5 148.9L406.9 149.4L413.5 149.8L420.5 150.4L419.7 158.8L412.7 158.6L412.2 161.0L405.2 160.6L405.0 166.6L407.9 166.3L411.4 165.5L415.7 165.8L415.9 170.1L413.9 172.0L410.0 173.8L408.2 176.3L410.0 179.0L409.5 181.7L405.2 183.3L400.8 182.5L396.0 182.2L395.0 184.7L394.4 185.0L396.0 187.1L395.5 190.3L396.5 193.4L398.6 196.1L402.3 198.2L404.4 201.8L406.0 206.1L407.1 210.3L407.6 214.5L407.1 218.7L404.9 221.3L402.8 222.4L401.8 220.8L399.7 220.8L397.6 221.3L394.4 220.3L391.3 219.7L388.1 218.7L386.0 216.6L384.4 214.5L382.8 213.6L380.7 215.0L379.7 217.1L379.5 219.7L380.7 221.8L383.4 223.1L386.0 223.7L389.2 224.6L392.3 225.6L395.5 225.2L398.6 226.6L401.8 228.2L404.9 229.7L406.5 231.8L408.1 233.9L410.7 235.7L408.1 234.5L403.9 231.6L399.7 229.0L395.5 226.9L391.3 224.9L387.1 223.4L382.8 222.3L378.6 221.4L374.4 220.8L370.2 220.3L366.0 219.9L361.8 219.7L358.6 219.5L355.5 219.3L351.3 218.9L347.1 218.7L342.8 218.9L338.6 219.5L334.4 220.3L330.2 221.3L327.1 222.1L326.0 223.4L321.7 225.1L317.5 228.4L313.4 230.9L311.7 233.4L307.5 235.9L303.4 237.6L298.3 239.3L293.3 241.0L290.0 242.6L302.1 238.1L298.6 239.3L294.4 240.4L290.2 241.8L286.1 243.4L282.7 245.1L278.5 246.5L274.4 248.1L270.2 249.8L266.0 251.8L261.8 253.8L258.5 255.6L255.2 257.1L251.8 258.5L248.5 259.3L243.5 259.5L238.5 259.3L234.3 260.1L231.8 261.5L228.5 261.8L225.1 261.3L221.8 259.8L216.8 258.0L212.6 256.5L208.4 255.5L204.3 254.3L200.9 252.6L197.6 251.0L194.2 249.6L190.9 247.6L187.6 245.1L184.2 243.1L180.9 241.8L177.5 240.9L174.2 240.4L170.0 239.8L165.9 240.1L161.7 239.8L157.5 238.9L156.3 238.6L153.8 236.7L152.3 234.7L150.6 236.2L146.5 236.7L141.8 237.2L138.0 237.5L135.1 235.7L130.1 232.7L125.1 229.3L120.1 226.0L115.1 222.6L110.9 220.1L106.7 218.0L101.7 216.0L95.9 214.8L90.0 213.8L84.2 213.1L82.5 211.0L84.2 208.5L90.0 207.6L93.4 205.9L95.9 203.4L96.7 199.3L95.1 197.6L94.2 193.4L96.7 192.6L101.7 192.6L105.9 190.9L106.4 186.8L106.7 182.6L110.9 180.9L114.3 178.4L115.9 175.1L116.8 170.9L115.4 166.7L115.1 163.0L118.4 160.0L121.4 157.5L117.6 154.7L111.8 152.5L106.4 151.4L105.4 148.4L105.9 144.2L103.4 142.0L99.7 140.8L100.1 137.5L98.4 135.0L99.4 130.2L97.7 126.0L96.9 121.0L95.2 116.8L92.7 113.5L91.0 110.1L87.7 108.5L86.0 106.0ZM334.9 213.4L336.5 211.3L339.2 209.7L341.3 207.1L343.4 205.0L346.5 203.9L349.7 203.7L351.3 205.5L351.8 207.6L353.4 209.7L354.6 211.3L353.6 213.4L351.3 214.7L348.6 215.5L346.0 216.6L341.8 216.8L337.6 216.4L335.5 215.0ZM357.6 219.2L359.2 217.1L357.6 215.0L357.4 212.9L358.6 210.8L360.7 209.2L363.4 208.7L366.0 209.0L368.1 210.8L368.6 212.6L367.6 214.5L364.9 216.1L362.3 217.1L359.7 218.5ZM334.9 213.9L332.3 216.6L331.3 218.2L334.4 217.6L337.6 217.6L347.1 218.5L355.5 219.2" fill="none" stroke="#000" stroke-width="1.4" stroke-linejoin="round"/>
<path d="M140.0 236.9L144.7 236.2L150.5 235.7L152.1 234.3L154.2 236.1L155.5 237.6L150.0 237.9L144.7 237.9Z" fill="#000"/>
<rect x="309.5" y="26" width="67.5" height="87.4" fill="#fff"/>
<text y="47.3" font-size="10.6"><tspan x="316.3">P</tspan><tspan x="327.6" font-size="11">&#950;</tspan><tspan x="336.3">&gt;</tspan><tspan x="345.6">12</tspan><tspan x="360.25">y</tspan></text>
<path d="M326.6 37.6Q321.6 44.2 326.6 50.8" fill="none" stroke="#111" stroke-width="0.95"/>
<path d="M367.05 37.6Q372.05 44.2 367.05 50.8" fill="none" stroke="#111" stroke-width="0.95"/>
<path d="M358.75 36.4V51.2" stroke="#555" stroke-width="0.9"/>
<rect x="316.2" y="59.00" width="11.6" height="11.95" fill="#ffffff" stroke="#6e6e6e" stroke-width="0.7"/>
<text x="334.2" y="68.80" font-size="8.8" fill="#1a1a1a">[0,0.25]</text>
<rect x="316.2" y="70.95" width="11.6" height="11.95" fill="#e0e0e0" stroke="#6e6e6e" stroke-width="0.7"/>
<text x="334.2" y="80.75" font-size="8.8" fill="#1a1a1a">(0.25,0.5]</text>
<rect x="316.2" y="82.90" width="11.6" height="11.95" fill="#b4b4b4" stroke="#6e6e6e" stroke-width="0.7"/>
<text x="334.2" y="92.70" font-size="8.8" fill="#1a1a1a">(0.5,0.75]</text>
<rect x="316.2" y="94.85" width="11.6" height="11.95" fill="#404040" stroke="#6e6e6e" stroke-width="0.7"/>
<text x="334.2" y="104.65" font-size="8.8" fill="#1a1a1a">(0.75,1]</text>
<path d="M416.7 29.2L401.8 55.6L416.7 43.6Z" fill="#fff" stroke="#000" stroke-width="0.8" stroke-linejoin="miter"/>
<path d="M416.7 29.2L431.6 55.6L416.7 43.6Z" fill="#000" stroke="#000" stroke-width="0.8"/>
<text x="416.7" y="58.6" font-size="7.8" text-anchor="middle">N</text>
<rect x="70.10" y="262.6" width="13.6" height="5.2" fill="#000" stroke="#000" stroke-width="0.5"/>
<rect x="83.70" y="262.6" width="13.6" height="5.2" fill="#fff" stroke="#000" stroke-width="0.5"/>
<rect x="97.30" y="262.6" width="13.6" height="5.2" fill="#000" stroke="#000" stroke-width="0.5"/>
<rect x="110.90" y="262.6" width="13.6" height="5.2" fill="#fff" stroke="#000" stroke-width="0.5"/>
<rect x="124.50" y="262.6" width="13.6" height="5.2" fill="#000" stroke="#000" stroke-width="0.5"/>
<text x="141.8" y="267.5" font-size="5.9">100 km</text>
<rect x="65.25" y="24.4" width="372.0" height="247.99999999999997" fill="none" stroke="#666" stroke-width="1"/>
<text x="121.90" y="284.4" font-size="8.8" fill="#4d4d4d" text-anchor="middle">98&#176;W</text>
<text x="193.99" y="284.4" font-size="8.8" fill="#4d4d4d" text-anchor="middle">97&#176;W</text>
<text x="266.08" y="284.4" font-size="8.8" fill="#4d4d4d" text-anchor="middle">96&#176;W</text>
<text x="338.17" y="284.4" font-size="8.8" fill="#4d4d4d" text-anchor="middle">95&#176;W</text>
<text x="410.26" y="284.4" font-size="8.8" fill="#4d4d4d" text-anchor="middle">94&#176;W</text>
<text x="60" y="238.55" font-size="8.8" fill="#4d4d4d" text-anchor="end">16.0&#176;N</text>
<text x="60" y="200.92" font-size="8.8" fill="#4d4d4d" text-anchor="end">16.5&#176;N</text>
<text x="60" y="163.29" font-size="8.8" fill="#4d4d4d" text-anchor="end">17.0&#176;N</text>
<text x="60" y="125.66" font-size="8.8" fill="#4d4d4d" text-anchor="end">17.5&#176;N</text>
<text x="60" y="88.03" font-size="8.8" fill="#4d4d4d" text-anchor="end">18.0&#176;N</text>
<text x="60" y="50.40" font-size="8.8" fill="#4d4d4d" text-anchor="end">18.5&#176;N</text>
<path d="M121.90 272.4v2.8M193.99 272.4v2.8M266.08 272.4v2.8M338.17 272.4v2.8M410.26 272.4v2.8M65.25 235.25h-2.8M65.25 197.62h-2.8M65.25 159.99h-2.8M65.25 122.36h-2.8M65.25 84.73h-2.8M65.25 47.10h-2.8" stroke="#555" stroke-width="1" fill="none"/>
<text x="251.25" y="297.4" font-size="11" text-anchor="middle">Longitude</text>
<text transform="translate(27.5,148.4) rotate(-90)" font-size="11" text-anchor="middle">Latitude</text>
</g>
</svg></body></html>
